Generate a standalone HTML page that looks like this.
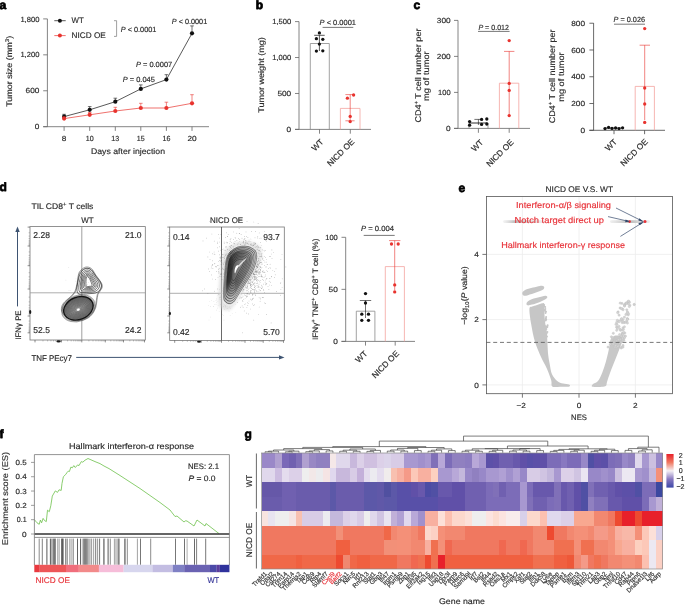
<!DOCTYPE html>
<html><head><meta charset="utf-8"><style>
html,body{margin:0;padding:0;background:#fff;width:685px;height:605px;overflow:hidden}
svg{display:block;will-change:transform}
text{font-family:"Liberation Sans",sans-serif;text-rendering:geometricPrecision}
</style></head><body>
<svg width="685" height="605" viewBox="0 0 685 605">
<rect width="685" height="605" fill="#fff"/>
<text x="-0.60" y="8.80" font-size="12" fill="#000" stroke="#000" stroke-width="0.75" stroke-linejoin="round" font-weight="bold" >a</text>
<line x1="47.40" y1="18.90" x2="47.40" y2="126.70" stroke="#666" stroke-width="0.8" />
<line x1="43.20" y1="126.70" x2="47.40" y2="126.70" stroke="#666" stroke-width="0.8" />
<text x="39.40" y="129.35" font-size="7.4" text-anchor="end" textLength="4.6" lengthAdjust="spacingAndGlyphs" fill="#2b2b2b" stroke="#2b2b2b" stroke-width="0.16" >0</text>
<line x1="43.20" y1="90.77" x2="47.40" y2="90.77" stroke="#666" stroke-width="0.8" />
<text x="39.40" y="93.42" font-size="7.4" text-anchor="end" textLength="13.8" lengthAdjust="spacingAndGlyphs" fill="#2b2b2b" stroke="#2b2b2b" stroke-width="0.16" >600</text>
<line x1="43.20" y1="54.83" x2="47.40" y2="54.83" stroke="#666" stroke-width="0.8" />
<text x="39.40" y="57.48" font-size="7.4" text-anchor="end" textLength="19.0" lengthAdjust="spacingAndGlyphs" fill="#2b2b2b" stroke="#2b2b2b" stroke-width="0.16" >1,200</text>
<line x1="43.20" y1="18.90" x2="47.40" y2="18.90" stroke="#666" stroke-width="0.8" />
<text x="39.40" y="21.55" font-size="7.4" text-anchor="end" textLength="19.0" lengthAdjust="spacingAndGlyphs" fill="#2b2b2b" stroke="#2b2b2b" stroke-width="0.16" >1,800</text>
<line x1="43.20" y1="126.70" x2="209.00" y2="126.70" stroke="#666" stroke-width="0.8" />
<line x1="64.10" y1="126.70" x2="64.10" y2="130.90" stroke="#666" stroke-width="0.8" />
<text x="64.10" y="140.80" font-size="7.4" text-anchor="middle" textLength="4.6" lengthAdjust="spacingAndGlyphs" fill="#2b2b2b" stroke="#2b2b2b" stroke-width="0.16" >8</text>
<line x1="89.70" y1="126.70" x2="89.70" y2="130.90" stroke="#666" stroke-width="0.8" />
<text x="89.70" y="140.80" font-size="7.4" text-anchor="middle" textLength="7.9" lengthAdjust="spacingAndGlyphs" fill="#2b2b2b" stroke="#2b2b2b" stroke-width="0.16" >10</text>
<line x1="115.30" y1="126.70" x2="115.30" y2="130.90" stroke="#666" stroke-width="0.8" />
<text x="115.30" y="140.80" font-size="7.4" text-anchor="middle" textLength="7.9" lengthAdjust="spacingAndGlyphs" fill="#2b2b2b" stroke="#2b2b2b" stroke-width="0.16" >13</text>
<line x1="140.80" y1="126.70" x2="140.80" y2="130.90" stroke="#666" stroke-width="0.8" />
<text x="140.80" y="140.80" font-size="7.4" text-anchor="middle" textLength="7.9" lengthAdjust="spacingAndGlyphs" fill="#2b2b2b" stroke="#2b2b2b" stroke-width="0.16" >15</text>
<line x1="166.40" y1="126.70" x2="166.40" y2="130.90" stroke="#666" stroke-width="0.8" />
<text x="166.40" y="140.80" font-size="7.4" text-anchor="middle" textLength="7.9" lengthAdjust="spacingAndGlyphs" fill="#2b2b2b" stroke="#2b2b2b" stroke-width="0.16" >16</text>
<line x1="192.00" y1="126.70" x2="192.00" y2="130.90" stroke="#666" stroke-width="0.8" />
<text x="192.00" y="140.80" font-size="7.4" text-anchor="middle" textLength="9.2" lengthAdjust="spacingAndGlyphs" fill="#2b2b2b" stroke="#2b2b2b" stroke-width="0.16" >20</text>
<text x="91.00" y="153.60" font-size="8.1" textLength="74" lengthAdjust="spacingAndGlyphs" fill="#2b2b2b" stroke="#2b2b2b" stroke-width="0.16" >Days after injection</text>
<text transform="translate(12.40,71.30) rotate(-90)" font-size="8.1" text-anchor="middle" textLength="71" lengthAdjust="spacingAndGlyphs" fill="#2b2b2b" stroke="#2b2b2b" stroke-width="0.16" >Tumor size (mm<tspan dy="-3" font-size="5.5">3</tspan><tspan dy="3">)</tspan></text>
<line x1="64.10" y1="116.60" x2="64.10" y2="114.30" stroke="#111" stroke-width="0.6" />
<line x1="62.30" y1="114.30" x2="65.90" y2="114.30" stroke="#111" stroke-width="0.6" />
<line x1="89.70" y1="109.80" x2="89.70" y2="106.60" stroke="#111" stroke-width="0.6" />
<line x1="87.90" y1="106.60" x2="91.50" y2="106.60" stroke="#111" stroke-width="0.6" />
<line x1="115.30" y1="101.70" x2="115.30" y2="98.20" stroke="#111" stroke-width="0.6" />
<line x1="113.50" y1="98.20" x2="117.10" y2="98.20" stroke="#111" stroke-width="0.6" />
<line x1="140.80" y1="88.90" x2="140.80" y2="84.90" stroke="#111" stroke-width="0.6" />
<line x1="139.00" y1="84.90" x2="142.60" y2="84.90" stroke="#111" stroke-width="0.6" />
<line x1="166.40" y1="79.60" x2="166.40" y2="74.70" stroke="#111" stroke-width="0.6" />
<line x1="164.60" y1="74.70" x2="168.20" y2="74.70" stroke="#111" stroke-width="0.6" />
<line x1="192.00" y1="33.30" x2="192.00" y2="25.90" stroke="#111" stroke-width="0.6" />
<line x1="190.20" y1="25.90" x2="193.80" y2="25.90" stroke="#111" stroke-width="0.6" />
<polyline points="64.1,116.6 89.7,109.8 115.3,101.7 140.8,88.9 166.4,79.6 192.0,33.3" fill="none" stroke="#111" stroke-width="0.7"/>
<circle cx="64.10" cy="116.60" r="2.1" fill="#111"/>
<circle cx="89.70" cy="109.80" r="2.1" fill="#111"/>
<circle cx="115.30" cy="101.70" r="2.1" fill="#111"/>
<circle cx="140.80" cy="88.90" r="2.1" fill="#111"/>
<circle cx="166.40" cy="79.60" r="2.1" fill="#111"/>
<circle cx="192.00" cy="33.30" r="2.1" fill="#111"/>
<line x1="64.10" y1="118.60" x2="64.10" y2="116.80" stroke="#e8332e" stroke-width="0.6" />
<line x1="62.30" y1="116.80" x2="65.90" y2="116.80" stroke="#e8332e" stroke-width="0.6" />
<line x1="89.70" y1="114.80" x2="89.70" y2="112.50" stroke="#e8332e" stroke-width="0.6" />
<line x1="87.90" y1="112.50" x2="91.50" y2="112.50" stroke="#e8332e" stroke-width="0.6" />
<line x1="115.30" y1="111.00" x2="115.30" y2="107.30" stroke="#e8332e" stroke-width="0.6" />
<line x1="113.50" y1="107.30" x2="117.10" y2="107.30" stroke="#e8332e" stroke-width="0.6" />
<line x1="140.80" y1="108.00" x2="140.80" y2="103.30" stroke="#e8332e" stroke-width="0.6" />
<line x1="139.00" y1="103.30" x2="142.60" y2="103.30" stroke="#e8332e" stroke-width="0.6" />
<line x1="166.40" y1="108.00" x2="166.40" y2="102.20" stroke="#e8332e" stroke-width="0.6" />
<line x1="164.60" y1="102.20" x2="168.20" y2="102.20" stroke="#e8332e" stroke-width="0.6" />
<line x1="192.00" y1="103.30" x2="192.00" y2="94.70" stroke="#e8332e" stroke-width="0.6" />
<line x1="190.20" y1="94.70" x2="193.80" y2="94.70" stroke="#e8332e" stroke-width="0.6" />
<polyline points="64.1,118.6 89.7,114.8 115.3,111.0 140.8,108.0 166.4,108.0 192.0,103.3" fill="none" stroke="#e8332e" stroke-width="0.7"/>
<circle cx="64.10" cy="118.60" r="2.1" fill="#e8332e"/>
<circle cx="89.70" cy="114.80" r="2.1" fill="#e8332e"/>
<circle cx="115.30" cy="111.00" r="2.1" fill="#e8332e"/>
<circle cx="140.80" cy="108.00" r="2.1" fill="#e8332e"/>
<circle cx="166.40" cy="108.00" r="2.1" fill="#e8332e"/>
<circle cx="192.00" cy="103.30" r="2.1" fill="#e8332e"/>
<line x1="54.30" y1="20.70" x2="65.70" y2="20.70" stroke="#111" stroke-width="0.7" />
<circle cx="59.90" cy="20.70" r="2.0" fill="#111"/>
<line x1="54.30" y1="35.60" x2="65.70" y2="35.60" stroke="#e8332e" stroke-width="0.7" />
<circle cx="59.90" cy="35.60" r="2.0" fill="#e8332e"/>
<text x="71.60" y="22.70" font-size="8.1" textLength="12.2" lengthAdjust="spacingAndGlyphs" fill="#2b2b2b" stroke="#2b2b2b" stroke-width="0.16" >WT</text>
<text x="71.60" y="37.80" font-size="8.1" textLength="34.2" lengthAdjust="spacingAndGlyphs" fill="#2b2b2b" stroke="#2b2b2b" stroke-width="0.16" >NICD OE</text>
<path d="M114,20.7 H116.6 V36.4 H114" stroke="#888" fill="none" stroke-width="0.8" />
<text x="120.70" y="31.50" font-size="7.4" textLength="35.7" lengthAdjust="spacingAndGlyphs" fill="#2b2b2b" stroke="#2b2b2b" stroke-width="0.16" ><tspan font-style="italic">P</tspan> &lt; 0.0001</text>
<text x="122.80" y="81.50" font-size="7.4" textLength="32.0" lengthAdjust="spacingAndGlyphs" fill="#2b2b2b" stroke="#2b2b2b" stroke-width="0.16" ><tspan font-style="italic">P</tspan> = 0.045</text>
<text x="135.90" y="66.60" font-size="7.4" textLength="36.3" lengthAdjust="spacingAndGlyphs" fill="#2b2b2b" stroke="#2b2b2b" stroke-width="0.16" ><tspan font-style="italic">P</tspan> = 0.0007</text>
<text x="171.80" y="24.00" font-size="7.4" textLength="35.4" lengthAdjust="spacingAndGlyphs" fill="#2b2b2b" stroke="#2b2b2b" stroke-width="0.16" ><tspan font-style="italic">P</tspan> &lt; 0.0001</text>
<text x="255.80" y="9.10" font-size="12" fill="#000" stroke="#000" stroke-width="0.75" stroke-linejoin="round" font-weight="bold" >b</text>
<line x1="299.00" y1="21.60" x2="299.00" y2="129.40" stroke="#666" stroke-width="0.8" />
<line x1="295.00" y1="129.40" x2="299.00" y2="129.40" stroke="#666" stroke-width="0.8" />
<text x="291.20" y="132.05" font-size="7.4" text-anchor="end" textLength="4.6" lengthAdjust="spacingAndGlyphs" fill="#2b2b2b" stroke="#2b2b2b" stroke-width="0.16" >0</text>
<line x1="295.00" y1="93.47" x2="299.00" y2="93.47" stroke="#666" stroke-width="0.8" />
<text x="291.20" y="96.12" font-size="7.4" text-anchor="end" textLength="13.8" lengthAdjust="spacingAndGlyphs" fill="#2b2b2b" stroke="#2b2b2b" stroke-width="0.16" >500</text>
<line x1="295.00" y1="57.53" x2="299.00" y2="57.53" stroke="#666" stroke-width="0.8" />
<text x="291.20" y="60.18" font-size="7.4" text-anchor="end" textLength="19.0" lengthAdjust="spacingAndGlyphs" fill="#2b2b2b" stroke="#2b2b2b" stroke-width="0.16" >1,000</text>
<line x1="295.00" y1="21.60" x2="299.00" y2="21.60" stroke="#666" stroke-width="0.8" />
<text x="291.20" y="24.25" font-size="7.4" text-anchor="end" textLength="19.0" lengthAdjust="spacingAndGlyphs" fill="#2b2b2b" stroke="#2b2b2b" stroke-width="0.16" >1,500</text>
<line x1="295.00" y1="129.40" x2="371.00" y2="129.40" stroke="#666" stroke-width="0.8" />
<line x1="319.50" y1="129.40" x2="319.50" y2="133.70" stroke="#666" stroke-width="0.8" />
<line x1="350.30" y1="129.40" x2="350.30" y2="133.70" stroke="#666" stroke-width="0.8" />
<text transform="translate(324.10,142.30) rotate(-45)" font-size="8.3" text-anchor="end" fill="#2b2b2b" stroke="#2b2b2b" stroke-width="0.16" >WT</text>
<text transform="translate(354.90,142.30) rotate(-45)" font-size="8.3" text-anchor="end" fill="#2b2b2b" stroke="#2b2b2b" stroke-width="0.16" >NICD OE</text>
<text transform="translate(264.20,75.00) rotate(-90)" font-size="8.1" text-anchor="middle" textLength="75.6" lengthAdjust="spacingAndGlyphs" fill="#2b2b2b" stroke="#2b2b2b" stroke-width="0.16" >Tumor weight (mg)</text>
<path d="M310.3,129.4 V43.5 H329.3 V129.4" stroke="#8a8a8a" fill="none" stroke-width="0.8" />
<line x1="319.40" y1="35.30" x2="319.40" y2="51.00" stroke="#111" stroke-width="0.7" />
<line x1="314.20" y1="35.30" x2="324.70" y2="35.30" stroke="#111" stroke-width="0.7" />
<circle cx="319.40" cy="32.90" r="1.65" fill="#111"/>
<circle cx="316.40" cy="38.70" r="1.65" fill="#111"/>
<circle cx="322.80" cy="39.30" r="1.65" fill="#111"/>
<circle cx="319.40" cy="44.10" r="1.65" fill="#111"/>
<circle cx="316.40" cy="51.10" r="1.65" fill="#111"/>
<circle cx="322.80" cy="50.80" r="1.65" fill="#111"/>
<path d="M340.4,129.4 V108.4 H360.0 V129.4" stroke="#f4a3a0" fill="none" stroke-width="0.8" />
<line x1="350.20" y1="94.60" x2="350.20" y2="120.80" stroke="#e8332e" stroke-width="0.6" />
<line x1="345.40" y1="94.60" x2="354.60" y2="94.60" stroke="#e8332e" stroke-width="0.6" />
<line x1="345.40" y1="120.80" x2="354.60" y2="120.80" stroke="#e8332e" stroke-width="0.6" />
<circle cx="353.60" cy="95.00" r="1.65" fill="#e8332e"/>
<circle cx="347.40" cy="98.20" r="1.65" fill="#e8332e"/>
<circle cx="350.20" cy="116.40" r="1.65" fill="#e8332e"/>
<circle cx="350.20" cy="121.60" r="1.65" fill="#e8332e"/>
<text x="319.60" y="25.00" font-size="7.4" textLength="36.4" lengthAdjust="spacingAndGlyphs" fill="#2b2b2b" stroke="#2b2b2b" stroke-width="0.16" ><tspan font-style="italic">P</tspan> &lt; 0.0001</text>
<line x1="322.60" y1="27.40" x2="353.30" y2="27.40" stroke="#555" stroke-width="0.8" />
<text x="413.60" y="9.00" font-size="12" fill="#000" stroke="#000" stroke-width="0.75" stroke-linejoin="round" font-weight="bold" >c</text>
<line x1="458.00" y1="20.40" x2="458.00" y2="128.40" stroke="#666" stroke-width="0.8" />
<line x1="454.00" y1="128.40" x2="458.00" y2="128.40" stroke="#666" stroke-width="0.8" />
<text x="450.60" y="131.05" font-size="7.4" text-anchor="end" textLength="4.6" lengthAdjust="spacingAndGlyphs" fill="#2b2b2b" stroke="#2b2b2b" stroke-width="0.16" >0</text>
<line x1="454.00" y1="92.40" x2="458.00" y2="92.40" stroke="#666" stroke-width="0.8" />
<text x="450.60" y="95.05" font-size="7.4" text-anchor="end" textLength="12.5" lengthAdjust="spacingAndGlyphs" fill="#2b2b2b" stroke="#2b2b2b" stroke-width="0.16" >100</text>
<line x1="454.00" y1="56.40" x2="458.00" y2="56.40" stroke="#666" stroke-width="0.8" />
<text x="450.60" y="59.05" font-size="7.4" text-anchor="end" textLength="13.8" lengthAdjust="spacingAndGlyphs" fill="#2b2b2b" stroke="#2b2b2b" stroke-width="0.16" >200</text>
<line x1="454.00" y1="20.40" x2="458.00" y2="20.40" stroke="#666" stroke-width="0.8" />
<text x="450.60" y="23.05" font-size="7.4" text-anchor="end" textLength="13.8" lengthAdjust="spacingAndGlyphs" fill="#2b2b2b" stroke="#2b2b2b" stroke-width="0.16" >300</text>
<line x1="454.00" y1="128.40" x2="530.00" y2="128.40" stroke="#666" stroke-width="0.8" />
<line x1="478.40" y1="128.40" x2="478.40" y2="132.80" stroke="#666" stroke-width="0.8" />
<line x1="509.20" y1="128.40" x2="509.20" y2="132.80" stroke="#666" stroke-width="0.8" />
<text transform="translate(483.90,142.90) rotate(-45)" font-size="8.3" text-anchor="end" fill="#2b2b2b" stroke="#2b2b2b" stroke-width="0.16" >WT</text>
<text transform="translate(514.20,142.90) rotate(-45)" font-size="8.3" text-anchor="end" fill="#2b2b2b" stroke="#2b2b2b" stroke-width="0.16" >NICD OE</text>
<text transform="translate(420.50,75.60) rotate(-90)" font-size="8.3" text-anchor="middle" textLength="94" lengthAdjust="spacingAndGlyphs" fill="#2b2b2b" stroke="#2b2b2b" stroke-width="0.16" >CD4<tspan dy="-3" font-size="5.5">+</tspan><tspan dy="3"> T cell number per</tspan></text>
<text transform="translate(429.40,76.10) rotate(-90)" font-size="8.3" text-anchor="middle" textLength="49.6" lengthAdjust="spacingAndGlyphs" fill="#2b2b2b" stroke="#2b2b2b" stroke-width="0.16" >mg of tumor</text>
<path d="M499.4,128.4 V83.2 H518.8 V128.4" stroke="#f4a3a0" fill="none" stroke-width="0.8" />
<line x1="509.20" y1="51.40" x2="509.20" y2="115.00" stroke="#e8332e" stroke-width="0.6" />
<line x1="504.00" y1="51.40" x2="514.40" y2="51.40" stroke="#e8332e" stroke-width="0.6" />
<circle cx="509.20" cy="40.60" r="1.65" fill="#e8332e"/>
<circle cx="509.20" cy="83.40" r="1.65" fill="#e8332e"/>
<circle cx="509.20" cy="90.40" r="1.65" fill="#e8332e"/>
<circle cx="509.20" cy="115.60" r="1.65" fill="#e8332e"/>
<path d="M469,128.4 V123 H488 V128.4" stroke="#8a8a8a" fill="none" stroke-width="0.8" />
<line x1="478.40" y1="119.40" x2="478.40" y2="125.00" stroke="#111" stroke-width="0.6" />
<line x1="474.40" y1="119.40" x2="482.40" y2="119.40" stroke="#111" stroke-width="0.6" />
<line x1="469.60" y1="123.00" x2="487.00" y2="123.00" stroke="#111" stroke-width="0.6" />
<circle cx="469.60" cy="121.60" r="1.65" fill="#111"/>
<circle cx="469.60" cy="125.20" r="1.65" fill="#111"/>
<circle cx="481.60" cy="119.40" r="1.65" fill="#111"/>
<circle cx="486.80" cy="119.00" r="1.65" fill="#111"/>
<circle cx="481.60" cy="124.40" r="1.65" fill="#111"/>
<circle cx="486.80" cy="124.00" r="1.65" fill="#111"/>
<text x="478.40" y="29.60" font-size="7.4" textLength="30.6" lengthAdjust="spacingAndGlyphs" fill="#2b2b2b" stroke="#2b2b2b" stroke-width="0.16" ><tspan font-style="italic">P</tspan> = 0.012</text>
<line x1="478.00" y1="31.40" x2="509.60" y2="31.40" stroke="#555" stroke-width="0.8" />
<line x1="593.60" y1="23.10" x2="593.60" y2="130.30" stroke="#444" stroke-width="0.8" />
<line x1="589.40" y1="130.30" x2="593.60" y2="130.30" stroke="#444" stroke-width="0.8" />
<text x="585.00" y="132.95" font-size="7.4" text-anchor="end" textLength="4.6" lengthAdjust="spacingAndGlyphs" fill="#2b2b2b" stroke="#2b2b2b" stroke-width="0.16" >0</text>
<line x1="589.40" y1="103.53" x2="593.60" y2="103.53" stroke="#444" stroke-width="0.8" />
<text x="585.00" y="106.18" font-size="7.4" text-anchor="end" textLength="13.8" lengthAdjust="spacingAndGlyphs" fill="#2b2b2b" stroke="#2b2b2b" stroke-width="0.16" >200</text>
<line x1="589.40" y1="76.76" x2="593.60" y2="76.76" stroke="#444" stroke-width="0.8" />
<text x="585.00" y="79.41" font-size="7.4" text-anchor="end" textLength="13.8" lengthAdjust="spacingAndGlyphs" fill="#2b2b2b" stroke="#2b2b2b" stroke-width="0.16" >400</text>
<line x1="589.40" y1="49.99" x2="593.60" y2="49.99" stroke="#444" stroke-width="0.8" />
<text x="585.00" y="52.64" font-size="7.4" text-anchor="end" textLength="13.8" lengthAdjust="spacingAndGlyphs" fill="#2b2b2b" stroke="#2b2b2b" stroke-width="0.16" >600</text>
<line x1="589.40" y1="23.22" x2="593.60" y2="23.22" stroke="#444" stroke-width="0.8" />
<text x="585.00" y="25.87" font-size="7.4" text-anchor="end" textLength="13.8" lengthAdjust="spacingAndGlyphs" fill="#2b2b2b" stroke="#2b2b2b" stroke-width="0.16" >800</text>
<line x1="589.40" y1="130.30" x2="665.00" y2="130.30" stroke="#444" stroke-width="0.8" />
<line x1="614.00" y1="130.30" x2="614.00" y2="134.20" stroke="#444" stroke-width="0.8" />
<line x1="644.60" y1="130.30" x2="644.60" y2="134.20" stroke="#444" stroke-width="0.8" />
<text transform="translate(617.70,142.30) rotate(-45)" font-size="8.3" text-anchor="end" fill="#2b2b2b" stroke="#2b2b2b" stroke-width="0.16" >WT</text>
<text transform="translate(648.30,142.30) rotate(-45)" font-size="8.3" text-anchor="end" fill="#2b2b2b" stroke="#2b2b2b" stroke-width="0.16" >NICD OE</text>
<text transform="translate(555.20,76.40) rotate(-90)" font-size="8.3" text-anchor="middle" textLength="93.6" lengthAdjust="spacingAndGlyphs" fill="#2b2b2b" stroke="#2b2b2b" stroke-width="0.16" >CD4<tspan dy="-3" font-size="5.5">+</tspan><tspan dy="3"> T cell number per</tspan></text>
<text transform="translate(564.20,77.10) rotate(-90)" font-size="8.3" text-anchor="middle" textLength="49.5" lengthAdjust="spacingAndGlyphs" fill="#2b2b2b" stroke="#2b2b2b" stroke-width="0.16" >mg of tumor</text>
<path d="M635.2,130.3 V86.4 H654.4000000000001 V130.3" stroke="#f4a3a0" fill="none" stroke-width="0.8" />
<line x1="644.70" y1="45.20" x2="644.70" y2="120.00" stroke="#e8332e" stroke-width="0.6" />
<line x1="639.60" y1="45.20" x2="650.00" y2="45.20" stroke="#e8332e" stroke-width="0.6" />
<circle cx="644.70" cy="28.60" r="1.65" fill="#e8332e"/>
<circle cx="644.70" cy="88.00" r="1.65" fill="#e8332e"/>
<circle cx="644.70" cy="104.00" r="1.65" fill="#e8332e"/>
<circle cx="644.70" cy="122.40" r="1.65" fill="#e8332e"/>
<line x1="605.00" y1="128.00" x2="623.00" y2="128.00" stroke="#111" stroke-width="0.6" />
<circle cx="605.00" cy="128.60" r="1.65" fill="#111"/>
<circle cx="608.60" cy="127.40" r="1.65" fill="#111"/>
<circle cx="612.00" cy="128.40" r="1.65" fill="#111"/>
<circle cx="615.60" cy="128.00" r="1.65" fill="#111"/>
<circle cx="619.00" cy="128.60" r="1.65" fill="#111"/>
<circle cx="622.60" cy="127.80" r="1.65" fill="#111"/>
<text x="613.60" y="22.00" font-size="7.4" textLength="31.4" lengthAdjust="spacingAndGlyphs" fill="#2b2b2b" stroke="#2b2b2b" stroke-width="0.16" ><tspan font-style="italic">P</tspan> = 0.026</text>
<line x1="614.00" y1="24.20" x2="645.00" y2="24.20" stroke="#555" stroke-width="0.8" />
<text x="-0.40" y="191.30" font-size="12" fill="#000" stroke="#000" stroke-width="0.75" stroke-linejoin="round" font-weight="bold" >d</text>
<text x="31.40" y="209.40" font-size="8.1" textLength="62" lengthAdjust="spacingAndGlyphs" fill="#2b2b2b" stroke="#2b2b2b" stroke-width="0.16" >TIL CD8<tspan dy="-3" font-size="5.5">+</tspan><tspan dy="3"> T cells</tspan></text>
<text x="87.40" y="223.00" font-size="8.1" text-anchor="middle" textLength="12.4" lengthAdjust="spacingAndGlyphs" fill="#2b2b2b" stroke="#2b2b2b" stroke-width="0.16" >WT</text>
<text x="226.60" y="223.20" font-size="8.1" text-anchor="middle" textLength="33" lengthAdjust="spacingAndGlyphs" fill="#2b2b2b" stroke="#2b2b2b" stroke-width="0.16" >NICD OE</text>
<line x1="17.50" y1="306.40" x2="17.50" y2="230.50" stroke="#3e5472" stroke-width="1.0" />
<path d="M17.5,226.5 L15.3,232 L19.7,232 Z" stroke="none" fill="#3e5472" stroke-width="0.8" />
<text transform="translate(21.20,325.00) rotate(-90)" font-size="8.1" text-anchor="middle" textLength="29.2" lengthAdjust="spacingAndGlyphs" fill="#2b2b2b" stroke="#2b2b2b" stroke-width="0.16" >IFNγ PE</text>
<text x="31.40" y="360.60" font-size="8.3" textLength="40.6" lengthAdjust="spacingAndGlyphs" fill="#2b2b2b" stroke="#2b2b2b" stroke-width="0.16" >TNF PEcy7</text>
<line x1="76.20" y1="357.40" x2="280.00" y2="357.40" stroke="#3e5472" stroke-width="1.0" />
<path d="M284.5,357.4 L279,355.2 L279,359.6 Z" stroke="none" fill="#3e5472" stroke-width="0.8" />
<rect x="30.00" y="226.60" width="115.30" height="113.40" fill="none" stroke="#777" stroke-width="0.8" />
<line x1="81.80" y1="226.60" x2="81.80" y2="340.00" stroke="#888" stroke-width="0.8" />
<line x1="30.00" y1="292.80" x2="145.30" y2="292.80" stroke="#999" stroke-width="0.8" />
<line x1="27.60" y1="227.10" x2="30.00" y2="227.10" stroke="#444" stroke-width="0.6" />
<line x1="27.60" y1="246.00" x2="30.00" y2="246.00" stroke="#444" stroke-width="0.6" />
<line x1="27.60" y1="265.70" x2="30.00" y2="265.70" stroke="#444" stroke-width="0.6" />
<line x1="27.60" y1="289.00" x2="30.00" y2="289.00" stroke="#444" stroke-width="0.6" />
<line x1="27.60" y1="316.00" x2="30.00" y2="316.00" stroke="#444" stroke-width="0.6" />
<line x1="27.60" y1="332.80" x2="30.00" y2="332.80" stroke="#444" stroke-width="0.6" />
<line x1="28.60" y1="232.79" x2="30.00" y2="232.79" stroke="#777" stroke-width="0.45" />
<line x1="28.60" y1="236.12" x2="30.00" y2="236.12" stroke="#777" stroke-width="0.45" />
<line x1="28.60" y1="238.48" x2="30.00" y2="238.48" stroke="#777" stroke-width="0.45" />
<line x1="28.60" y1="240.31" x2="30.00" y2="240.31" stroke="#777" stroke-width="0.45" />
<line x1="28.60" y1="241.81" x2="30.00" y2="241.81" stroke="#777" stroke-width="0.45" />
<line x1="28.60" y1="243.07" x2="30.00" y2="243.07" stroke="#777" stroke-width="0.45" />
<line x1="28.60" y1="244.17" x2="30.00" y2="244.17" stroke="#777" stroke-width="0.45" />
<line x1="28.60" y1="245.14" x2="30.00" y2="245.14" stroke="#777" stroke-width="0.45" />
<line x1="28.60" y1="251.93" x2="30.00" y2="251.93" stroke="#777" stroke-width="0.45" />
<line x1="28.60" y1="255.40" x2="30.00" y2="255.40" stroke="#777" stroke-width="0.45" />
<line x1="28.60" y1="257.86" x2="30.00" y2="257.86" stroke="#777" stroke-width="0.45" />
<line x1="28.60" y1="259.77" x2="30.00" y2="259.77" stroke="#777" stroke-width="0.45" />
<line x1="28.60" y1="261.33" x2="30.00" y2="261.33" stroke="#777" stroke-width="0.45" />
<line x1="28.60" y1="262.65" x2="30.00" y2="262.65" stroke="#777" stroke-width="0.45" />
<line x1="28.60" y1="263.79" x2="30.00" y2="263.79" stroke="#777" stroke-width="0.45" />
<line x1="28.60" y1="264.80" x2="30.00" y2="264.80" stroke="#777" stroke-width="0.45" />
<line x1="28.60" y1="272.71" x2="30.00" y2="272.71" stroke="#777" stroke-width="0.45" />
<line x1="28.60" y1="276.82" x2="30.00" y2="276.82" stroke="#777" stroke-width="0.45" />
<line x1="28.60" y1="279.73" x2="30.00" y2="279.73" stroke="#777" stroke-width="0.45" />
<line x1="28.60" y1="281.99" x2="30.00" y2="281.99" stroke="#777" stroke-width="0.45" />
<line x1="28.60" y1="283.83" x2="30.00" y2="283.83" stroke="#777" stroke-width="0.45" />
<line x1="28.60" y1="285.39" x2="30.00" y2="285.39" stroke="#777" stroke-width="0.45" />
<line x1="28.60" y1="286.74" x2="30.00" y2="286.74" stroke="#777" stroke-width="0.45" />
<line x1="28.60" y1="287.93" x2="30.00" y2="287.93" stroke="#777" stroke-width="0.45" />
<line x1="28.60" y1="297.13" x2="30.00" y2="297.13" stroke="#777" stroke-width="0.45" />
<line x1="28.60" y1="301.88" x2="30.00" y2="301.88" stroke="#777" stroke-width="0.45" />
<line x1="28.60" y1="305.26" x2="30.00" y2="305.26" stroke="#777" stroke-width="0.45" />
<line x1="28.60" y1="307.87" x2="30.00" y2="307.87" stroke="#777" stroke-width="0.45" />
<line x1="28.60" y1="310.01" x2="30.00" y2="310.01" stroke="#777" stroke-width="0.45" />
<line x1="28.60" y1="311.82" x2="30.00" y2="311.82" stroke="#777" stroke-width="0.45" />
<line x1="28.60" y1="313.38" x2="30.00" y2="313.38" stroke="#777" stroke-width="0.45" />
<line x1="28.60" y1="314.76" x2="30.00" y2="314.76" stroke="#777" stroke-width="0.45" />
<line x1="28.60" y1="321.06" x2="30.00" y2="321.06" stroke="#777" stroke-width="0.45" />
<line x1="28.60" y1="324.02" x2="30.00" y2="324.02" stroke="#777" stroke-width="0.45" />
<line x1="28.60" y1="326.11" x2="30.00" y2="326.11" stroke="#777" stroke-width="0.45" />
<line x1="28.60" y1="327.74" x2="30.00" y2="327.74" stroke="#777" stroke-width="0.45" />
<line x1="28.60" y1="329.07" x2="30.00" y2="329.07" stroke="#777" stroke-width="0.45" />
<line x1="28.60" y1="330.20" x2="30.00" y2="330.20" stroke="#777" stroke-width="0.45" />
<line x1="28.60" y1="331.17" x2="30.00" y2="331.17" stroke="#777" stroke-width="0.45" />
<line x1="28.60" y1="332.03" x2="30.00" y2="332.03" stroke="#777" stroke-width="0.45" />
<line x1="35.00" y1="340.00" x2="35.00" y2="342.40" stroke="#444" stroke-width="0.6" />
<line x1="61.50" y1="340.00" x2="61.50" y2="342.40" stroke="#444" stroke-width="0.6" />
<line x1="81.80" y1="340.00" x2="81.80" y2="342.40" stroke="#444" stroke-width="0.6" />
<line x1="105.30" y1="340.00" x2="105.30" y2="342.40" stroke="#444" stroke-width="0.6" />
<line x1="123.50" y1="340.00" x2="123.50" y2="342.40" stroke="#444" stroke-width="0.6" />
<line x1="144.50" y1="340.00" x2="144.50" y2="342.40" stroke="#444" stroke-width="0.6" />
<line x1="42.98" y1="340.00" x2="42.98" y2="341.40" stroke="#777" stroke-width="0.45" />
<line x1="47.64" y1="340.00" x2="47.64" y2="341.40" stroke="#777" stroke-width="0.45" />
<line x1="50.95" y1="340.00" x2="50.95" y2="341.40" stroke="#777" stroke-width="0.45" />
<line x1="53.52" y1="340.00" x2="53.52" y2="341.40" stroke="#777" stroke-width="0.45" />
<line x1="55.62" y1="340.00" x2="55.62" y2="341.40" stroke="#777" stroke-width="0.45" />
<line x1="57.40" y1="340.00" x2="57.40" y2="341.40" stroke="#777" stroke-width="0.45" />
<line x1="58.93" y1="340.00" x2="58.93" y2="341.40" stroke="#777" stroke-width="0.45" />
<line x1="60.29" y1="340.00" x2="60.29" y2="341.40" stroke="#777" stroke-width="0.45" />
<line x1="67.61" y1="340.00" x2="67.61" y2="341.40" stroke="#777" stroke-width="0.45" />
<line x1="71.19" y1="340.00" x2="71.19" y2="341.40" stroke="#777" stroke-width="0.45" />
<line x1="73.72" y1="340.00" x2="73.72" y2="341.40" stroke="#777" stroke-width="0.45" />
<line x1="75.69" y1="340.00" x2="75.69" y2="341.40" stroke="#777" stroke-width="0.45" />
<line x1="77.30" y1="340.00" x2="77.30" y2="341.40" stroke="#777" stroke-width="0.45" />
<line x1="78.66" y1="340.00" x2="78.66" y2="341.40" stroke="#777" stroke-width="0.45" />
<line x1="79.83" y1="340.00" x2="79.83" y2="341.40" stroke="#777" stroke-width="0.45" />
<line x1="80.87" y1="340.00" x2="80.87" y2="341.40" stroke="#777" stroke-width="0.45" />
<line x1="88.87" y1="340.00" x2="88.87" y2="341.40" stroke="#777" stroke-width="0.45" />
<line x1="93.01" y1="340.00" x2="93.01" y2="341.40" stroke="#777" stroke-width="0.45" />
<line x1="95.95" y1="340.00" x2="95.95" y2="341.40" stroke="#777" stroke-width="0.45" />
<line x1="98.23" y1="340.00" x2="98.23" y2="341.40" stroke="#777" stroke-width="0.45" />
<line x1="100.09" y1="340.00" x2="100.09" y2="341.40" stroke="#777" stroke-width="0.45" />
<line x1="101.66" y1="340.00" x2="101.66" y2="341.40" stroke="#777" stroke-width="0.45" />
<line x1="103.02" y1="340.00" x2="103.02" y2="341.40" stroke="#777" stroke-width="0.45" />
<line x1="104.22" y1="340.00" x2="104.22" y2="341.40" stroke="#777" stroke-width="0.45" />
<line x1="110.78" y1="340.00" x2="110.78" y2="341.40" stroke="#777" stroke-width="0.45" />
<line x1="113.98" y1="340.00" x2="113.98" y2="341.40" stroke="#777" stroke-width="0.45" />
<line x1="116.26" y1="340.00" x2="116.26" y2="341.40" stroke="#777" stroke-width="0.45" />
<line x1="118.02" y1="340.00" x2="118.02" y2="341.40" stroke="#777" stroke-width="0.45" />
<line x1="119.46" y1="340.00" x2="119.46" y2="341.40" stroke="#777" stroke-width="0.45" />
<line x1="120.68" y1="340.00" x2="120.68" y2="341.40" stroke="#777" stroke-width="0.45" />
<line x1="121.74" y1="340.00" x2="121.74" y2="341.40" stroke="#777" stroke-width="0.45" />
<line x1="122.67" y1="340.00" x2="122.67" y2="341.40" stroke="#777" stroke-width="0.45" />
<line x1="129.82" y1="340.00" x2="129.82" y2="341.40" stroke="#777" stroke-width="0.45" />
<line x1="133.52" y1="340.00" x2="133.52" y2="341.40" stroke="#777" stroke-width="0.45" />
<line x1="136.14" y1="340.00" x2="136.14" y2="341.40" stroke="#777" stroke-width="0.45" />
<line x1="138.18" y1="340.00" x2="138.18" y2="341.40" stroke="#777" stroke-width="0.45" />
<line x1="139.84" y1="340.00" x2="139.84" y2="341.40" stroke="#777" stroke-width="0.45" />
<line x1="141.25" y1="340.00" x2="141.25" y2="341.40" stroke="#777" stroke-width="0.45" />
<line x1="142.46" y1="340.00" x2="142.46" y2="341.40" stroke="#777" stroke-width="0.45" />
<line x1="143.54" y1="340.00" x2="143.54" y2="341.40" stroke="#777" stroke-width="0.45" />
<rect x="169.70" y="227.00" width="114.60" height="113.40" fill="none" stroke="#777" stroke-width="0.8" />
<line x1="221.50" y1="227.00" x2="221.50" y2="340.40" stroke="#444" stroke-width="0.8" />
<line x1="169.70" y1="293.30" x2="284.30" y2="293.30" stroke="#999" stroke-width="0.8" />
<line x1="167.30" y1="227.10" x2="169.70" y2="227.10" stroke="#444" stroke-width="0.6" />
<line x1="167.30" y1="246.00" x2="169.70" y2="246.00" stroke="#444" stroke-width="0.6" />
<line x1="167.30" y1="265.70" x2="169.70" y2="265.70" stroke="#444" stroke-width="0.6" />
<line x1="167.30" y1="289.00" x2="169.70" y2="289.00" stroke="#444" stroke-width="0.6" />
<line x1="167.30" y1="316.00" x2="169.70" y2="316.00" stroke="#444" stroke-width="0.6" />
<line x1="167.30" y1="332.80" x2="169.70" y2="332.80" stroke="#444" stroke-width="0.6" />
<line x1="168.30" y1="232.79" x2="169.70" y2="232.79" stroke="#777" stroke-width="0.45" />
<line x1="168.30" y1="236.12" x2="169.70" y2="236.12" stroke="#777" stroke-width="0.45" />
<line x1="168.30" y1="238.48" x2="169.70" y2="238.48" stroke="#777" stroke-width="0.45" />
<line x1="168.30" y1="240.31" x2="169.70" y2="240.31" stroke="#777" stroke-width="0.45" />
<line x1="168.30" y1="241.81" x2="169.70" y2="241.81" stroke="#777" stroke-width="0.45" />
<line x1="168.30" y1="243.07" x2="169.70" y2="243.07" stroke="#777" stroke-width="0.45" />
<line x1="168.30" y1="244.17" x2="169.70" y2="244.17" stroke="#777" stroke-width="0.45" />
<line x1="168.30" y1="245.14" x2="169.70" y2="245.14" stroke="#777" stroke-width="0.45" />
<line x1="168.30" y1="251.93" x2="169.70" y2="251.93" stroke="#777" stroke-width="0.45" />
<line x1="168.30" y1="255.40" x2="169.70" y2="255.40" stroke="#777" stroke-width="0.45" />
<line x1="168.30" y1="257.86" x2="169.70" y2="257.86" stroke="#777" stroke-width="0.45" />
<line x1="168.30" y1="259.77" x2="169.70" y2="259.77" stroke="#777" stroke-width="0.45" />
<line x1="168.30" y1="261.33" x2="169.70" y2="261.33" stroke="#777" stroke-width="0.45" />
<line x1="168.30" y1="262.65" x2="169.70" y2="262.65" stroke="#777" stroke-width="0.45" />
<line x1="168.30" y1="263.79" x2="169.70" y2="263.79" stroke="#777" stroke-width="0.45" />
<line x1="168.30" y1="264.80" x2="169.70" y2="264.80" stroke="#777" stroke-width="0.45" />
<line x1="168.30" y1="272.71" x2="169.70" y2="272.71" stroke="#777" stroke-width="0.45" />
<line x1="168.30" y1="276.82" x2="169.70" y2="276.82" stroke="#777" stroke-width="0.45" />
<line x1="168.30" y1="279.73" x2="169.70" y2="279.73" stroke="#777" stroke-width="0.45" />
<line x1="168.30" y1="281.99" x2="169.70" y2="281.99" stroke="#777" stroke-width="0.45" />
<line x1="168.30" y1="283.83" x2="169.70" y2="283.83" stroke="#777" stroke-width="0.45" />
<line x1="168.30" y1="285.39" x2="169.70" y2="285.39" stroke="#777" stroke-width="0.45" />
<line x1="168.30" y1="286.74" x2="169.70" y2="286.74" stroke="#777" stroke-width="0.45" />
<line x1="168.30" y1="287.93" x2="169.70" y2="287.93" stroke="#777" stroke-width="0.45" />
<line x1="168.30" y1="297.13" x2="169.70" y2="297.13" stroke="#777" stroke-width="0.45" />
<line x1="168.30" y1="301.88" x2="169.70" y2="301.88" stroke="#777" stroke-width="0.45" />
<line x1="168.30" y1="305.26" x2="169.70" y2="305.26" stroke="#777" stroke-width="0.45" />
<line x1="168.30" y1="307.87" x2="169.70" y2="307.87" stroke="#777" stroke-width="0.45" />
<line x1="168.30" y1="310.01" x2="169.70" y2="310.01" stroke="#777" stroke-width="0.45" />
<line x1="168.30" y1="311.82" x2="169.70" y2="311.82" stroke="#777" stroke-width="0.45" />
<line x1="168.30" y1="313.38" x2="169.70" y2="313.38" stroke="#777" stroke-width="0.45" />
<line x1="168.30" y1="314.76" x2="169.70" y2="314.76" stroke="#777" stroke-width="0.45" />
<line x1="168.30" y1="321.06" x2="169.70" y2="321.06" stroke="#777" stroke-width="0.45" />
<line x1="168.30" y1="324.02" x2="169.70" y2="324.02" stroke="#777" stroke-width="0.45" />
<line x1="168.30" y1="326.11" x2="169.70" y2="326.11" stroke="#777" stroke-width="0.45" />
<line x1="168.30" y1="327.74" x2="169.70" y2="327.74" stroke="#777" stroke-width="0.45" />
<line x1="168.30" y1="329.07" x2="169.70" y2="329.07" stroke="#777" stroke-width="0.45" />
<line x1="168.30" y1="330.20" x2="169.70" y2="330.20" stroke="#777" stroke-width="0.45" />
<line x1="168.30" y1="331.17" x2="169.70" y2="331.17" stroke="#777" stroke-width="0.45" />
<line x1="168.30" y1="332.03" x2="169.70" y2="332.03" stroke="#777" stroke-width="0.45" />
<line x1="174.70" y1="340.40" x2="174.70" y2="342.80" stroke="#444" stroke-width="0.6" />
<line x1="201.20" y1="340.40" x2="201.20" y2="342.80" stroke="#444" stroke-width="0.6" />
<line x1="221.50" y1="340.40" x2="221.50" y2="342.80" stroke="#444" stroke-width="0.6" />
<line x1="245.00" y1="340.40" x2="245.00" y2="342.80" stroke="#444" stroke-width="0.6" />
<line x1="263.20" y1="340.40" x2="263.20" y2="342.80" stroke="#444" stroke-width="0.6" />
<line x1="283.50" y1="340.40" x2="283.50" y2="342.80" stroke="#444" stroke-width="0.6" />
<line x1="182.68" y1="340.40" x2="182.68" y2="341.80" stroke="#777" stroke-width="0.45" />
<line x1="187.34" y1="340.40" x2="187.34" y2="341.80" stroke="#777" stroke-width="0.45" />
<line x1="190.65" y1="340.40" x2="190.65" y2="341.80" stroke="#777" stroke-width="0.45" />
<line x1="193.22" y1="340.40" x2="193.22" y2="341.80" stroke="#777" stroke-width="0.45" />
<line x1="195.32" y1="340.40" x2="195.32" y2="341.80" stroke="#777" stroke-width="0.45" />
<line x1="197.10" y1="340.40" x2="197.10" y2="341.80" stroke="#777" stroke-width="0.45" />
<line x1="198.63" y1="340.40" x2="198.63" y2="341.80" stroke="#777" stroke-width="0.45" />
<line x1="199.99" y1="340.40" x2="199.99" y2="341.80" stroke="#777" stroke-width="0.45" />
<line x1="207.31" y1="340.40" x2="207.31" y2="341.80" stroke="#777" stroke-width="0.45" />
<line x1="210.89" y1="340.40" x2="210.89" y2="341.80" stroke="#777" stroke-width="0.45" />
<line x1="213.42" y1="340.40" x2="213.42" y2="341.80" stroke="#777" stroke-width="0.45" />
<line x1="215.39" y1="340.40" x2="215.39" y2="341.80" stroke="#777" stroke-width="0.45" />
<line x1="217.00" y1="340.40" x2="217.00" y2="341.80" stroke="#777" stroke-width="0.45" />
<line x1="218.36" y1="340.40" x2="218.36" y2="341.80" stroke="#777" stroke-width="0.45" />
<line x1="219.53" y1="340.40" x2="219.53" y2="341.80" stroke="#777" stroke-width="0.45" />
<line x1="220.57" y1="340.40" x2="220.57" y2="341.80" stroke="#777" stroke-width="0.45" />
<line x1="228.57" y1="340.40" x2="228.57" y2="341.80" stroke="#777" stroke-width="0.45" />
<line x1="232.71" y1="340.40" x2="232.71" y2="341.80" stroke="#777" stroke-width="0.45" />
<line x1="235.65" y1="340.40" x2="235.65" y2="341.80" stroke="#777" stroke-width="0.45" />
<line x1="237.93" y1="340.40" x2="237.93" y2="341.80" stroke="#777" stroke-width="0.45" />
<line x1="239.79" y1="340.40" x2="239.79" y2="341.80" stroke="#777" stroke-width="0.45" />
<line x1="241.36" y1="340.40" x2="241.36" y2="341.80" stroke="#777" stroke-width="0.45" />
<line x1="242.72" y1="340.40" x2="242.72" y2="341.80" stroke="#777" stroke-width="0.45" />
<line x1="243.92" y1="340.40" x2="243.92" y2="341.80" stroke="#777" stroke-width="0.45" />
<line x1="250.48" y1="340.40" x2="250.48" y2="341.80" stroke="#777" stroke-width="0.45" />
<line x1="253.68" y1="340.40" x2="253.68" y2="341.80" stroke="#777" stroke-width="0.45" />
<line x1="255.96" y1="340.40" x2="255.96" y2="341.80" stroke="#777" stroke-width="0.45" />
<line x1="257.72" y1="340.40" x2="257.72" y2="341.80" stroke="#777" stroke-width="0.45" />
<line x1="259.16" y1="340.40" x2="259.16" y2="341.80" stroke="#777" stroke-width="0.45" />
<line x1="260.38" y1="340.40" x2="260.38" y2="341.80" stroke="#777" stroke-width="0.45" />
<line x1="261.44" y1="340.40" x2="261.44" y2="341.80" stroke="#777" stroke-width="0.45" />
<line x1="262.37" y1="340.40" x2="262.37" y2="341.80" stroke="#777" stroke-width="0.45" />
<line x1="269.31" y1="340.40" x2="269.31" y2="341.80" stroke="#777" stroke-width="0.45" />
<line x1="272.89" y1="340.40" x2="272.89" y2="341.80" stroke="#777" stroke-width="0.45" />
<line x1="275.42" y1="340.40" x2="275.42" y2="341.80" stroke="#777" stroke-width="0.45" />
<line x1="277.39" y1="340.40" x2="277.39" y2="341.80" stroke="#777" stroke-width="0.45" />
<line x1="279.00" y1="340.40" x2="279.00" y2="341.80" stroke="#777" stroke-width="0.45" />
<line x1="280.36" y1="340.40" x2="280.36" y2="341.80" stroke="#777" stroke-width="0.45" />
<line x1="281.53" y1="340.40" x2="281.53" y2="341.80" stroke="#777" stroke-width="0.45" />
<line x1="282.57" y1="340.40" x2="282.57" y2="341.80" stroke="#777" stroke-width="0.45" />
<text x="33.30" y="238.00" font-size="8.6" textLength="16.6" lengthAdjust="spacingAndGlyphs" fill="#2b2b2b" stroke="#2b2b2b" stroke-width="0.16" >2.28</text>
<text x="141.60" y="238.00" font-size="8.6" text-anchor="end" textLength="16.6" lengthAdjust="spacingAndGlyphs" fill="#2b2b2b" stroke="#2b2b2b" stroke-width="0.16" >21.0</text>
<text x="33.30" y="332.60" font-size="8.6" textLength="16.6" lengthAdjust="spacingAndGlyphs" fill="#2b2b2b" stroke="#2b2b2b" stroke-width="0.16" >52.5</text>
<text x="141.60" y="332.60" font-size="8.6" text-anchor="end" textLength="16.6" lengthAdjust="spacingAndGlyphs" fill="#2b2b2b" stroke="#2b2b2b" stroke-width="0.16" >24.2</text>
<text x="172.90" y="240.00" font-size="8.6" textLength="16.6" lengthAdjust="spacingAndGlyphs" fill="#2b2b2b" stroke="#2b2b2b" stroke-width="0.16" >0.14</text>
<text x="279.80" y="240.00" font-size="8.6" text-anchor="end" textLength="16.6" lengthAdjust="spacingAndGlyphs" fill="#2b2b2b" stroke="#2b2b2b" stroke-width="0.16" >93.7</text>
<text x="172.90" y="334.50" font-size="8.6" textLength="16.6" lengthAdjust="spacingAndGlyphs" fill="#2b2b2b" stroke="#2b2b2b" stroke-width="0.16" >0.42</text>
<text x="279.80" y="334.50" font-size="8.6" text-anchor="end" textLength="16.6" lengthAdjust="spacingAndGlyphs" fill="#2b2b2b" stroke="#2b2b2b" stroke-width="0.16" >5.70</text>
<g fill="#1a1a1a"><ellipse cx="30.2" cy="311.9" rx="1.1" ry="2.0"/><ellipse cx="58.6" cy="341.4" rx="2.2" ry="1.1"/><ellipse cx="169.9" cy="313.5" rx="1.0" ry="1.8"/><ellipse cx="199.0" cy="341.7" rx="2.0" ry="1.0"/></g>
<g fill="#bbb" opacity="0.8"><circle cx="81.7" cy="287.6" r="0.35"/><circle cx="82.0" cy="280.2" r="0.35"/><circle cx="75.6" cy="281.1" r="0.35"/><circle cx="94.0" cy="286.8" r="0.35"/><circle cx="93.3" cy="285.2" r="0.35"/><circle cx="87.6" cy="284.7" r="0.35"/><circle cx="69.0" cy="290.7" r="0.35"/><circle cx="88.6" cy="287.5" r="0.35"/><circle cx="68.8" cy="267.3" r="0.35"/><circle cx="76.0" cy="278.8" r="0.35"/><circle cx="86.7" cy="282.6" r="0.35"/><circle cx="88.7" cy="277.2" r="0.35"/><circle cx="86.8" cy="286.5" r="0.35"/><circle cx="78.0" cy="298.5" r="0.35"/><circle cx="89.0" cy="293.8" r="0.35"/><circle cx="78.4" cy="276.3" r="0.35"/><circle cx="80.9" cy="282.0" r="0.35"/><circle cx="89.7" cy="285.2" r="0.35"/><circle cx="80.0" cy="274.4" r="0.35"/><circle cx="79.3" cy="294.0" r="0.35"/><circle cx="76.7" cy="285.2" r="0.35"/><circle cx="87.8" cy="269.6" r="0.35"/><circle cx="84.4" cy="294.8" r="0.35"/><circle cx="65.9" cy="280.1" r="0.35"/><circle cx="83.0" cy="275.6" r="0.35"/><circle cx="88.5" cy="282.4" r="0.35"/><circle cx="70.8" cy="290.5" r="0.35"/><circle cx="90.0" cy="291.5" r="0.35"/><circle cx="97.0" cy="286.3" r="0.35"/><circle cx="85.1" cy="271.3" r="0.35"/></g>
<path d="M86.10,267.00 C87.80,266.82 89.88,267.27 91.50,268.60 C93.12,269.93 94.18,272.67 95.80,275.00 C97.42,277.33 100.12,280.62 101.20,282.60 C102.28,284.58 102.48,285.48 102.30,286.90 C102.12,288.32 100.82,289.85 100.10,291.10 C99.38,292.35 98.53,292.78 98.00,294.40 C97.47,296.02 97.27,298.65 96.90,300.80 C96.53,302.95 96.52,305.15 95.80,307.30 C95.08,309.45 94.03,311.83 92.60,313.70 C91.17,315.57 89.53,317.33 87.20,318.50 C84.87,319.67 81.47,320.70 78.60,320.70 C75.73,320.70 72.58,319.67 70.00,318.50 C67.42,317.33 64.53,315.40 63.10,313.70 C61.67,312.00 61.32,310.08 61.40,308.30 C61.48,306.52 62.17,304.87 63.60,303.00 C65.03,301.13 68.18,298.90 70.00,297.10 C71.82,295.30 73.37,294.27 74.50,292.20 C75.63,290.13 76.12,287.73 76.80,284.70 C77.48,281.67 77.85,276.50 78.60,274.00 C79.35,271.50 80.05,270.87 81.30,269.70 C82.55,268.53 84.40,267.18 86.10,267.00 Z" stroke="#333" fill="none" stroke-width="0.45" />
<path d="M86.04,268.16 C87.66,267.98 89.64,268.42 91.17,269.70 C92.71,270.98 93.72,273.60 95.26,275.84 C96.80,278.08 99.36,281.23 100.39,283.14 C101.42,285.04 101.61,285.90 101.44,287.26 C101.26,288.62 100.03,290.10 99.34,291.30 C98.66,292.50 97.86,292.91 97.35,294.46 C96.84,296.02 96.65,298.54 96.31,300.61 C95.96,302.67 95.94,304.78 95.26,306.85 C94.58,308.91 93.58,311.20 92.22,312.99 C90.86,314.78 89.31,316.48 87.09,317.60 C84.87,318.72 81.64,319.71 78.92,319.71 C76.20,319.71 73.20,318.72 70.75,317.60 C68.30,316.48 65.56,314.62 64.20,312.99 C62.83,311.36 62.50,309.52 62.58,307.81 C62.66,306.10 63.31,304.51 64.67,302.72 C66.03,300.93 69.02,298.78 70.75,297.06 C72.48,295.33 73.95,294.34 75.03,292.35 C76.10,290.37 76.56,288.06 77.21,285.15 C77.86,282.24 78.21,277.28 78.92,274.88 C79.63,272.48 80.30,271.87 81.48,270.75 C82.67,269.63 84.43,268.34 86.04,268.16 Z" stroke="#333" fill="none" stroke-width="0.45" />
<path d="M86.50,268.40 C88.17,268.15 89.95,268.73 91.50,270.00 C93.05,271.27 94.32,274.00 95.80,276.00 C97.28,278.00 99.47,280.30 100.40,282.00 C101.33,283.70 101.55,284.78 101.40,286.20 C101.25,287.62 100.48,289.37 99.50,290.50 C98.52,291.63 97.08,292.48 95.50,293.00 C93.92,293.52 92.00,293.43 90.00,293.60 C88.00,293.77 85.50,294.02 83.50,294.00 C81.50,293.98 79.08,294.67 78.00,293.50 C76.92,292.33 76.90,289.50 77.00,287.00 C77.10,284.50 77.85,281.08 78.60,278.50 C79.35,275.92 80.18,273.18 81.50,271.50 C82.82,269.82 84.83,268.65 86.50,268.40 Z" stroke="#0a0a0a" fill="none" stroke-width="0.55" />
<path d="M86.64,270.04 C88.04,269.83 89.58,270.34 90.92,271.46 C92.26,272.58 93.38,274.98 94.66,276.76 C95.94,278.54 97.79,280.61 98.60,282.16 C99.41,283.71 99.69,284.83 99.54,286.08 C99.39,287.33 98.61,288.72 97.72,289.66 C96.83,290.60 95.59,291.28 94.22,291.70 C92.85,292.12 91.21,292.06 89.52,292.18 C87.83,292.30 85.71,292.50 84.06,292.44 C82.41,292.38 80.48,292.87 79.60,291.80 C78.72,290.73 78.70,288.18 78.78,286.00 C78.86,283.82 79.48,280.92 80.10,278.70 C80.72,276.48 81.41,274.14 82.50,272.70 C83.59,271.26 85.24,270.25 86.64,270.04 Z" stroke="#0a0a0a" fill="none" stroke-width="0.55" />
<path d="M86.77,271.52 C87.93,271.35 89.25,271.79 90.40,272.77 C91.54,273.76 92.54,275.86 93.63,277.44 C94.73,279.03 96.27,280.88 96.98,282.30 C97.69,283.73 98.01,284.87 97.87,285.97 C97.72,287.07 96.92,288.14 96.12,288.90 C95.32,289.66 94.24,290.20 93.07,290.53 C91.90,290.86 90.51,290.82 89.09,290.90 C87.67,290.99 85.91,291.14 84.56,291.04 C83.22,290.93 81.74,291.26 81.04,290.27 C80.34,289.28 80.31,287.00 80.38,285.10 C80.45,283.20 80.95,280.77 81.45,278.88 C81.95,276.99 82.51,275.01 83.40,273.78 C84.29,272.55 85.60,271.68 86.77,271.52 Z" stroke="#0a0a0a" fill="none" stroke-width="0.55" />
<path d="M86.89,272.91 C87.83,272.78 88.94,273.15 89.91,274.01 C90.87,274.88 91.74,276.69 92.66,278.09 C93.59,279.49 94.85,281.14 95.45,282.44 C96.05,283.74 96.43,284.91 96.28,285.87 C96.14,286.83 95.32,287.60 94.60,288.19 C93.89,288.78 92.97,289.17 91.98,289.43 C90.99,289.68 89.84,289.65 88.68,289.69 C87.52,289.74 86.09,289.85 85.04,289.71 C83.99,289.56 82.92,289.74 82.40,288.82 C81.88,287.91 81.84,285.88 81.90,284.25 C81.95,282.62 82.33,280.62 82.72,279.05 C83.12,277.48 83.56,275.82 84.25,274.80 C84.94,273.78 85.94,273.04 86.89,272.91 Z" stroke="#0a0a0a" fill="none" stroke-width="0.55" />
<path d="M86.99,274.14 C87.73,274.04 88.67,274.36 89.47,275.11 C90.27,275.86 91.04,277.42 91.81,278.66 C92.58,279.90 93.59,281.37 94.10,282.56 C94.61,283.75 95.03,284.95 94.89,285.78 C94.75,286.61 93.91,287.12 93.27,287.56 C92.62,288.00 91.84,288.27 91.02,288.45 C90.19,288.63 89.25,288.62 88.32,288.63 C87.39,288.64 86.25,288.72 85.46,288.54 C84.67,288.36 83.97,288.39 83.60,287.55 C83.23,286.71 83.19,284.89 83.23,283.50 C83.27,282.11 83.55,280.50 83.85,279.20 C84.14,277.90 84.48,276.54 85.00,275.70 C85.52,274.86 86.24,274.24 86.99,274.14 Z" stroke="#0a0a0a" fill="none" stroke-width="0.55" />
<path d="M87.09,275.37 C87.64,275.30 88.39,275.56 89.03,276.20 C89.68,276.85 90.34,278.15 90.95,279.23 C91.57,280.31 92.33,281.60 92.75,282.68 C93.17,283.76 93.63,284.98 93.49,285.69 C93.36,286.40 92.51,286.63 91.94,286.93 C91.36,287.23 90.72,287.37 90.06,287.48 C89.40,287.58 88.66,287.58 87.96,287.56 C87.26,287.55 86.41,287.59 85.88,287.37 C85.35,287.15 85.02,287.04 84.80,286.27 C84.58,285.50 84.54,283.90 84.56,282.75 C84.59,281.60 84.78,280.38 84.97,279.35 C85.17,278.33 85.40,277.26 85.75,276.60 C86.10,275.94 86.55,275.44 87.09,275.37 Z" stroke="#0a0a0a" fill="none" stroke-width="0.55" />
<path d="M87.20,276.60 C87.55,276.57 88.12,276.77 88.60,277.30 C89.08,277.83 89.63,278.88 90.10,279.80 C90.57,280.72 91.07,281.83 91.40,282.80 C91.73,283.77 92.23,285.02 92.10,285.60 C91.97,286.18 91.10,286.15 90.60,286.30 C90.10,286.45 89.60,286.47 89.10,286.50 C88.60,286.53 88.07,286.55 87.60,286.50 C87.13,286.45 86.57,286.45 86.30,286.20 C86.03,285.95 86.07,285.70 86.00,285.00 C85.93,284.30 85.88,282.92 85.90,282.00 C85.92,281.08 86.00,280.25 86.10,279.50 C86.20,278.75 86.32,277.98 86.50,277.50 C86.68,277.02 86.85,276.63 87.20,276.60 Z" stroke="#0a0a0a" fill="none" stroke-width="0.55" />
<defs><radialGradient id="wtb" cx="0.47" cy="0.55" r="0.55"><stop offset="0" stop-color="#b0b0b0"/><stop offset="0.5" stop-color="#888"/><stop offset="1" stop-color="#666"/></radialGradient><radialGradient id="nb" cx="0.3" cy="0.55" r="0.7"><stop offset="0" stop-color="#2a2a2a"/><stop offset="0.55" stop-color="#4a4a4a"/><stop offset="1" stop-color="#8a8a8a"/></radialGradient><filter id="bl" x="-20%" y="-20%" width="140%" height="140%"><feGaussianBlur stdDeviation="1.6"/></filter></defs>
<g transform="translate(78.4,308.3) rotate(-22)">
<ellipse rx="17.6" ry="13.0" fill="none" stroke="#555" stroke-width="0.4"/>
<ellipse rx="16.9" ry="12.4" fill="none" stroke="#555" stroke-width="0.4"/>
<ellipse rx="16.2" ry="11.8" fill="none" stroke="#555" stroke-width="0.4"/>
<ellipse rx="15.2" ry="11.1" fill="url(#wtb)" stroke="#151515" stroke-width="1.4"/>
<ellipse cx="-0.00" cy="0.00" rx="13.6" ry="9.9" fill="none" stroke="#4a4a4a" stroke-width="0.4"/>
<ellipse cx="-0.06" cy="0.10" rx="12.3" ry="8.9" fill="none" stroke="#4a4a4a" stroke-width="0.4"/>
<ellipse cx="-0.12" cy="0.20" rx="11.0" ry="8.0" fill="none" stroke="#4a4a4a" stroke-width="0.4"/>
<ellipse cx="-0.18" cy="0.30" rx="9.8" ry="7.1" fill="none" stroke="#4a4a4a" stroke-width="0.4"/>
<ellipse cx="-0.24" cy="0.40" rx="8.6" ry="6.2" fill="none" stroke="#4a4a4a" stroke-width="0.4"/>
<ellipse cx="-0.30" cy="0.50" rx="7.4" ry="5.4" fill="none" stroke="#4a4a4a" stroke-width="0.4"/>
<ellipse cx="-0.36" cy="0.60" rx="6.2" ry="4.5" fill="none" stroke="#4a4a4a" stroke-width="0.4"/>
<ellipse cx="-0.42" cy="0.70" rx="5.0" ry="3.7" fill="none" stroke="#4a4a4a" stroke-width="0.4"/>
<ellipse cx="-0.48" cy="0.80" rx="3.9" ry="2.9" fill="none" stroke="#4a4a4a" stroke-width="0.4"/>
<ellipse cx="-0.54" cy="0.90" rx="2.8" ry="2.1" fill="none" stroke="#4a4a4a" stroke-width="0.4"/>
<ellipse cx="-0.6" cy="1.3" rx="1.5" ry="1.0" fill="#fff"/>
</g>
<defs><linearGradient id="ng" x1="0" y1="0" x2="1" y2="0.3"><stop offset="0" stop-color="#222"/><stop offset="0.22" stop-color="#3a3a3a"/><stop offset="0.5" stop-color="#777"/><stop offset="1" stop-color="#bbb"/></linearGradient><linearGradient id="ng2" x1="0" y1="0" x2="0" y2="1"><stop offset="0" stop-color="#fff" stop-opacity="0"/><stop offset="0.62" stop-color="#fff" stop-opacity="0"/><stop offset="0.85" stop-color="#fff" stop-opacity="0.35"/><stop offset="1" stop-color="#fff" stop-opacity="0.55"/></linearGradient></defs>
<path d="M242.86,241.44 C245.46,241.28 248.36,241.30 251.05,242.04 C253.74,242.78 257.23,244.32 258.98,245.88 C260.74,247.44 261.19,249.42 261.58,251.40 C261.97,253.38 261.71,255.46 261.32,257.76 C260.93,260.06 260.17,262.72 259.24,265.20 C258.31,267.68 257.09,270.14 255.73,272.64 C254.36,275.14 252.65,277.72 251.05,280.20 C249.45,282.68 247.63,285.30 246.11,287.52 C244.59,289.74 243.29,291.54 241.95,293.52 C240.61,295.50 239.28,297.52 238.05,299.40 C236.82,301.28 235.62,303.30 234.54,304.80 C233.46,306.30 232.70,307.48 231.55,308.40 C230.40,309.32 228.99,310.08 227.65,310.32 C226.31,310.56 224.79,310.40 223.49,309.84 C222.19,309.28 220.65,308.20 219.85,306.96 C219.05,305.72 218.88,304.96 218.68,302.40 C218.49,299.84 218.55,295.32 218.68,291.60 C218.81,287.88 219.16,283.98 219.46,280.08 C219.76,276.18 220.09,271.92 220.50,268.20 C220.91,264.48 221.24,260.56 221.93,257.76 C222.62,254.96 223.60,253.14 224.66,251.40 C225.72,249.66 226.50,248.72 228.30,247.32 C230.10,245.92 233.02,243.98 235.45,243.00 C237.88,242.02 240.26,241.60 242.86,241.44 Z" stroke="none" fill="#d0d0d0" stroke-width="0.8" filter="url(#bl)" opacity="0.6"/>
<g fill="#3a3a3a" opacity="0.65"><circle cx="229.2" cy="281.5" r="0.33"/><circle cx="251.2" cy="257.4" r="0.33"/><circle cx="225.4" cy="274.9" r="0.33"/><circle cx="254.2" cy="285.4" r="0.33"/><circle cx="219.6" cy="254.8" r="0.33"/><circle cx="253.4" cy="274.4" r="0.33"/><circle cx="266.4" cy="278.9" r="0.33"/><circle cx="239.2" cy="266.1" r="0.33"/><circle cx="271.7" cy="254.0" r="0.33"/><circle cx="225.8" cy="255.3" r="0.33"/><circle cx="244.0" cy="271.9" r="0.33"/><circle cx="237.4" cy="270.5" r="0.33"/><circle cx="249.4" cy="279.8" r="0.33"/><circle cx="256.6" cy="268.5" r="0.33"/><circle cx="224.2" cy="289.2" r="0.33"/><circle cx="223.7" cy="273.6" r="0.33"/><circle cx="224.0" cy="276.6" r="0.33"/><circle cx="233.7" cy="276.9" r="0.33"/><circle cx="282.0" cy="254.5" r="0.33"/><circle cx="244.6" cy="245.1" r="0.33"/><circle cx="242.3" cy="281.9" r="0.33"/><circle cx="243.0" cy="276.3" r="0.33"/><circle cx="237.4" cy="253.5" r="0.33"/><circle cx="244.2" cy="254.5" r="0.33"/><circle cx="261.9" cy="253.6" r="0.33"/><circle cx="250.4" cy="267.0" r="0.33"/><circle cx="250.1" cy="256.1" r="0.33"/><circle cx="253.5" cy="263.6" r="0.33"/><circle cx="261.1" cy="274.4" r="0.33"/><circle cx="239.2" cy="256.9" r="0.33"/><circle cx="254.1" cy="274.1" r="0.33"/><circle cx="259.9" cy="256.7" r="0.33"/><circle cx="251.7" cy="275.6" r="0.33"/><circle cx="246.7" cy="272.1" r="0.33"/><circle cx="240.7" cy="259.6" r="0.33"/><circle cx="227.3" cy="268.2" r="0.33"/><circle cx="258.0" cy="291.5" r="0.33"/><circle cx="260.1" cy="282.5" r="0.33"/><circle cx="255.6" cy="277.7" r="0.33"/><circle cx="248.7" cy="281.5" r="0.33"/><circle cx="261.8" cy="256.9" r="0.33"/><circle cx="244.9" cy="304.4" r="0.33"/><circle cx="250.6" cy="284.4" r="0.33"/><circle cx="246.1" cy="248.0" r="0.33"/><circle cx="282.1" cy="287.5" r="0.33"/><circle cx="248.5" cy="281.2" r="0.33"/><circle cx="238.4" cy="255.3" r="0.33"/><circle cx="242.8" cy="276.5" r="0.33"/><circle cx="259.8" cy="276.4" r="0.33"/><circle cx="250.6" cy="291.4" r="0.33"/><circle cx="237.3" cy="286.0" r="0.33"/><circle cx="253.9" cy="260.4" r="0.33"/><circle cx="214.9" cy="263.5" r="0.33"/><circle cx="248.0" cy="277.4" r="0.33"/><circle cx="255.1" cy="247.1" r="0.33"/><circle cx="245.8" cy="280.4" r="0.33"/><circle cx="226.3" cy="232.8" r="0.33"/><circle cx="265.3" cy="303.4" r="0.33"/><circle cx="248.9" cy="250.9" r="0.33"/><circle cx="238.3" cy="275.4" r="0.33"/><circle cx="276.0" cy="268.8" r="0.33"/><circle cx="252.4" cy="294.4" r="0.33"/><circle cx="251.8" cy="300.1" r="0.33"/><circle cx="230.9" cy="265.5" r="0.33"/><circle cx="259.1" cy="289.5" r="0.33"/><circle cx="251.7" cy="271.9" r="0.33"/><circle cx="215.6" cy="266.7" r="0.33"/><circle cx="231.4" cy="264.2" r="0.33"/><circle cx="247.2" cy="262.0" r="0.33"/><circle cx="252.1" cy="267.8" r="0.33"/><circle cx="238.6" cy="273.4" r="0.33"/><circle cx="252.2" cy="281.8" r="0.33"/><circle cx="234.8" cy="268.4" r="0.33"/><circle cx="234.7" cy="301.7" r="0.33"/><circle cx="258.7" cy="260.7" r="0.33"/><circle cx="229.0" cy="252.4" r="0.33"/><circle cx="245.3" cy="272.5" r="0.33"/><circle cx="270.1" cy="264.2" r="0.33"/><circle cx="218.3" cy="234.4" r="0.33"/><circle cx="260.3" cy="266.8" r="0.33"/><circle cx="223.4" cy="280.0" r="0.33"/><circle cx="242.6" cy="332.8" r="0.33"/><circle cx="259.0" cy="274.2" r="0.33"/><circle cx="227.4" cy="236.6" r="0.33"/><circle cx="231.4" cy="245.7" r="0.33"/><circle cx="236.8" cy="233.2" r="0.33"/><circle cx="238.0" cy="293.5" r="0.33"/><circle cx="255.2" cy="243.8" r="0.33"/><circle cx="228.4" cy="290.9" r="0.33"/><circle cx="246.7" cy="250.4" r="0.33"/><circle cx="229.5" cy="262.0" r="0.33"/><circle cx="223.5" cy="264.4" r="0.33"/><circle cx="261.3" cy="275.5" r="0.33"/><circle cx="266.6" cy="259.5" r="0.33"/><circle cx="234.6" cy="254.9" r="0.33"/><circle cx="232.9" cy="249.6" r="0.33"/><circle cx="224.3" cy="289.0" r="0.33"/><circle cx="264.5" cy="277.0" r="0.33"/><circle cx="259.7" cy="268.1" r="0.33"/><circle cx="233.7" cy="274.6" r="0.33"/><circle cx="231.0" cy="253.9" r="0.33"/><circle cx="212.7" cy="253.8" r="0.33"/><circle cx="242.8" cy="272.4" r="0.33"/><circle cx="244.5" cy="294.9" r="0.33"/><circle cx="247.6" cy="278.5" r="0.33"/><circle cx="252.1" cy="251.5" r="0.33"/><circle cx="222.3" cy="290.8" r="0.33"/><circle cx="241.2" cy="294.0" r="0.33"/><circle cx="252.0" cy="284.6" r="0.33"/><circle cx="239.2" cy="233.4" r="0.33"/><circle cx="246.9" cy="256.0" r="0.33"/><circle cx="230.2" cy="266.4" r="0.33"/><circle cx="256.5" cy="280.7" r="0.33"/><circle cx="244.7" cy="239.0" r="0.33"/><circle cx="221.0" cy="234.7" r="0.33"/><circle cx="244.2" cy="280.0" r="0.33"/><circle cx="234.1" cy="277.3" r="0.33"/><circle cx="250.7" cy="285.1" r="0.33"/><circle cx="227.1" cy="260.4" r="0.33"/><circle cx="242.9" cy="301.4" r="0.33"/><circle cx="254.6" cy="263.2" r="0.33"/><circle cx="245.4" cy="270.8" r="0.33"/><circle cx="243.3" cy="265.8" r="0.33"/><circle cx="230.6" cy="251.4" r="0.33"/><circle cx="243.8" cy="299.2" r="0.33"/><circle cx="248.9" cy="268.6" r="0.33"/><circle cx="239.7" cy="272.0" r="0.33"/><circle cx="242.6" cy="258.1" r="0.33"/><circle cx="245.8" cy="273.0" r="0.33"/><circle cx="228.3" cy="260.7" r="0.33"/><circle cx="223.6" cy="257.5" r="0.33"/><circle cx="239.1" cy="228.3" r="0.33"/><circle cx="235.2" cy="261.4" r="0.33"/><circle cx="235.0" cy="274.3" r="0.33"/><circle cx="256.2" cy="266.2" r="0.33"/><circle cx="236.7" cy="260.8" r="0.33"/><circle cx="245.7" cy="285.1" r="0.33"/><circle cx="230.5" cy="253.4" r="0.33"/><circle cx="220.1" cy="257.9" r="0.33"/><circle cx="231.4" cy="293.7" r="0.33"/><circle cx="245.0" cy="264.6" r="0.33"/><circle cx="256.0" cy="253.0" r="0.33"/><circle cx="255.9" cy="279.4" r="0.33"/><circle cx="214.1" cy="252.0" r="0.33"/><circle cx="235.9" cy="288.6" r="0.33"/><circle cx="250.7" cy="244.6" r="0.33"/><circle cx="252.6" cy="259.2" r="0.33"/><circle cx="234.0" cy="262.9" r="0.33"/><circle cx="227.5" cy="242.4" r="0.33"/><circle cx="222.6" cy="254.7" r="0.33"/><circle cx="260.1" cy="301.2" r="0.33"/><circle cx="273.4" cy="252.5" r="0.33"/><circle cx="218.6" cy="271.2" r="0.33"/><circle cx="242.1" cy="305.9" r="0.33"/><circle cx="244.7" cy="255.8" r="0.33"/><circle cx="256.5" cy="274.4" r="0.33"/><circle cx="219.1" cy="268.7" r="0.33"/><circle cx="239.2" cy="271.4" r="0.33"/><circle cx="241.6" cy="264.0" r="0.33"/><circle cx="240.9" cy="259.8" r="0.33"/><circle cx="239.9" cy="298.2" r="0.33"/><circle cx="248.9" cy="275.4" r="0.33"/><circle cx="221.5" cy="274.4" r="0.33"/><circle cx="244.5" cy="245.7" r="0.33"/><circle cx="253.1" cy="258.9" r="0.33"/><circle cx="246.1" cy="266.1" r="0.33"/><circle cx="251.7" cy="288.3" r="0.33"/><circle cx="246.2" cy="296.8" r="0.33"/><circle cx="227.0" cy="258.6" r="0.33"/><circle cx="244.5" cy="249.8" r="0.33"/><circle cx="242.7" cy="286.1" r="0.33"/><circle cx="246.5" cy="236.3" r="0.33"/><circle cx="259.1" cy="297.8" r="0.33"/><circle cx="255.2" cy="260.9" r="0.33"/><circle cx="232.9" cy="267.9" r="0.33"/><circle cx="226.4" cy="270.9" r="0.33"/><circle cx="238.9" cy="268.5" r="0.33"/><circle cx="255.1" cy="261.1" r="0.33"/><circle cx="230.3" cy="293.3" r="0.33"/><circle cx="226.3" cy="267.6" r="0.33"/><circle cx="238.4" cy="265.1" r="0.33"/><circle cx="228.3" cy="270.5" r="0.33"/><circle cx="265.2" cy="250.6" r="0.33"/><circle cx="246.9" cy="288.6" r="0.33"/><circle cx="255.5" cy="278.9" r="0.33"/><circle cx="241.1" cy="234.7" r="0.33"/><circle cx="232.2" cy="275.9" r="0.33"/><circle cx="255.6" cy="288.5" r="0.33"/><circle cx="246.4" cy="264.1" r="0.33"/><circle cx="241.3" cy="266.5" r="0.33"/><circle cx="248.9" cy="279.7" r="0.33"/><circle cx="233.1" cy="258.5" r="0.33"/><circle cx="237.9" cy="291.3" r="0.33"/><circle cx="263.4" cy="280.2" r="0.33"/><circle cx="257.3" cy="279.5" r="0.33"/><circle cx="245.8" cy="280.6" r="0.33"/><circle cx="228.0" cy="271.4" r="0.33"/><circle cx="237.3" cy="284.9" r="0.33"/><circle cx="234.3" cy="270.9" r="0.33"/><circle cx="254.8" cy="289.9" r="0.33"/><circle cx="226.9" cy="258.5" r="0.33"/><circle cx="245.6" cy="248.7" r="0.33"/><circle cx="244.2" cy="258.9" r="0.33"/><circle cx="230.1" cy="241.4" r="0.33"/><circle cx="247.8" cy="258.8" r="0.33"/><circle cx="243.1" cy="307.2" r="0.33"/><circle cx="271.1" cy="322.9" r="0.33"/><circle cx="245.0" cy="262.6" r="0.33"/><circle cx="252.7" cy="295.2" r="0.33"/><circle cx="244.3" cy="277.3" r="0.33"/><circle cx="243.0" cy="253.2" r="0.33"/><circle cx="240.7" cy="261.4" r="0.33"/><circle cx="231.9" cy="289.5" r="0.33"/><circle cx="250.6" cy="268.2" r="0.33"/><circle cx="219.3" cy="242.0" r="0.33"/><circle cx="247.4" cy="266.3" r="0.33"/><circle cx="221.1" cy="276.5" r="0.33"/><circle cx="223.3" cy="276.3" r="0.33"/><circle cx="245.8" cy="275.0" r="0.33"/><circle cx="245.6" cy="271.8" r="0.33"/><circle cx="225.8" cy="268.9" r="0.33"/><circle cx="234.4" cy="268.5" r="0.33"/><circle cx="248.9" cy="278.7" r="0.33"/><circle cx="247.0" cy="221.7" r="0.33"/><circle cx="245.7" cy="265.0" r="0.33"/><circle cx="275.2" cy="274.8" r="0.33"/><circle cx="224.1" cy="283.8" r="0.33"/><circle cx="241.4" cy="288.2" r="0.33"/><circle cx="228.5" cy="273.1" r="0.33"/><circle cx="239.8" cy="269.0" r="0.33"/><circle cx="224.2" cy="243.2" r="0.33"/><circle cx="253.4" cy="283.9" r="0.33"/><circle cx="235.3" cy="254.1" r="0.33"/><circle cx="247.8" cy="278.1" r="0.33"/><circle cx="239.8" cy="270.6" r="0.33"/><circle cx="252.7" cy="245.9" r="0.33"/><circle cx="224.1" cy="242.0" r="0.33"/><circle cx="229.2" cy="261.3" r="0.33"/><circle cx="226.2" cy="263.2" r="0.33"/><circle cx="262.8" cy="258.9" r="0.33"/><circle cx="253.4" cy="305.6" r="0.33"/><circle cx="231.2" cy="242.6" r="0.33"/><circle cx="241.5" cy="253.2" r="0.33"/><circle cx="254.8" cy="242.8" r="0.33"/><circle cx="225.6" cy="246.9" r="0.33"/><circle cx="237.3" cy="253.3" r="0.33"/><circle cx="239.0" cy="264.3" r="0.33"/><circle cx="240.0" cy="287.8" r="0.33"/><circle cx="253.8" cy="266.8" r="0.33"/><circle cx="224.8" cy="256.9" r="0.33"/><circle cx="259.2" cy="307.0" r="0.33"/><circle cx="231.9" cy="259.5" r="0.33"/><circle cx="227.1" cy="255.6" r="0.33"/><circle cx="228.9" cy="271.0" r="0.33"/><circle cx="259.5" cy="263.6" r="0.33"/><circle cx="226.4" cy="246.5" r="0.33"/><circle cx="244.4" cy="268.6" r="0.33"/><circle cx="220.7" cy="258.1" r="0.33"/><circle cx="247.4" cy="286.4" r="0.33"/><circle cx="250.9" cy="270.5" r="0.33"/><circle cx="239.9" cy="276.6" r="0.33"/><circle cx="254.5" cy="304.8" r="0.33"/><circle cx="226.0" cy="269.2" r="0.33"/><circle cx="255.9" cy="260.1" r="0.33"/><circle cx="259.2" cy="263.0" r="0.33"/><circle cx="241.6" cy="263.4" r="0.33"/><circle cx="219.5" cy="260.6" r="0.33"/><circle cx="272.8" cy="270.5" r="0.33"/><circle cx="254.9" cy="282.5" r="0.33"/><circle cx="254.9" cy="283.8" r="0.33"/><circle cx="237.5" cy="267.6" r="0.33"/><circle cx="252.0" cy="260.0" r="0.33"/><circle cx="224.4" cy="272.3" r="0.33"/><circle cx="238.9" cy="282.2" r="0.33"/><circle cx="227.0" cy="256.2" r="0.33"/><circle cx="247.0" cy="296.3" r="0.33"/><circle cx="242.4" cy="272.8" r="0.33"/><circle cx="243.8" cy="274.7" r="0.33"/><circle cx="261.5" cy="288.2" r="0.33"/><circle cx="229.8" cy="299.1" r="0.33"/><circle cx="240.1" cy="264.9" r="0.33"/><circle cx="270.3" cy="256.6" r="0.33"/><circle cx="271.4" cy="276.8" r="0.33"/><circle cx="232.3" cy="282.4" r="0.33"/><circle cx="250.3" cy="264.7" r="0.33"/><circle cx="211.6" cy="274.9" r="0.33"/><circle cx="233.2" cy="253.2" r="0.33"/><circle cx="262.9" cy="258.0" r="0.33"/><circle cx="235.5" cy="267.0" r="0.33"/><circle cx="227.9" cy="261.1" r="0.33"/><circle cx="245.0" cy="274.6" r="0.33"/><circle cx="235.3" cy="270.8" r="0.33"/><circle cx="228.1" cy="284.5" r="0.33"/><circle cx="234.1" cy="276.8" r="0.33"/><circle cx="227.9" cy="265.8" r="0.33"/><circle cx="237.6" cy="249.7" r="0.33"/><circle cx="272.0" cy="258.4" r="0.33"/><circle cx="236.8" cy="258.6" r="0.33"/><circle cx="269.5" cy="285.0" r="0.33"/><circle cx="237.7" cy="246.8" r="0.33"/><circle cx="239.4" cy="282.1" r="0.33"/><circle cx="228.9" cy="253.4" r="0.33"/><circle cx="223.0" cy="263.0" r="0.33"/><circle cx="238.4" cy="259.6" r="0.33"/><circle cx="258.5" cy="314.5" r="0.33"/><circle cx="257.6" cy="245.5" r="0.33"/><circle cx="246.7" cy="269.9" r="0.33"/><circle cx="246.4" cy="287.3" r="0.33"/><circle cx="236.1" cy="266.3" r="0.33"/><circle cx="236.8" cy="270.1" r="0.33"/><circle cx="262.2" cy="276.7" r="0.33"/><circle cx="223.0" cy="268.9" r="0.33"/><circle cx="237.0" cy="286.6" r="0.33"/><circle cx="249.9" cy="283.2" r="0.33"/><circle cx="230.1" cy="239.8" r="0.33"/><circle cx="248.8" cy="271.6" r="0.33"/><circle cx="240.6" cy="246.9" r="0.33"/><circle cx="239.0" cy="258.7" r="0.33"/><circle cx="235.7" cy="278.7" r="0.33"/><circle cx="241.1" cy="254.2" r="0.33"/><circle cx="206.7" cy="238.1" r="0.33"/><circle cx="241.5" cy="290.5" r="0.33"/><circle cx="228.2" cy="234.3" r="0.33"/><circle cx="233.9" cy="280.6" r="0.33"/><circle cx="269.2" cy="281.2" r="0.33"/><circle cx="247.6" cy="271.5" r="0.33"/><circle cx="226.4" cy="267.5" r="0.33"/><circle cx="233.4" cy="259.1" r="0.33"/><circle cx="240.5" cy="263.4" r="0.33"/><circle cx="254.5" cy="291.4" r="0.33"/><circle cx="253.5" cy="273.4" r="0.33"/><circle cx="230.2" cy="246.8" r="0.33"/><circle cx="243.8" cy="279.2" r="0.33"/><circle cx="237.0" cy="294.5" r="0.33"/><circle cx="240.1" cy="277.4" r="0.33"/><circle cx="230.7" cy="251.4" r="0.33"/><circle cx="260.5" cy="242.3" r="0.33"/><circle cx="250.0" cy="257.0" r="0.33"/><circle cx="240.7" cy="255.9" r="0.33"/><circle cx="242.3" cy="286.6" r="0.33"/><circle cx="260.8" cy="247.8" r="0.33"/><circle cx="247.6" cy="285.1" r="0.33"/><circle cx="238.4" cy="284.2" r="0.33"/><circle cx="235.9" cy="283.1" r="0.33"/><circle cx="254.4" cy="287.4" r="0.33"/><circle cx="239.5" cy="249.3" r="0.33"/><circle cx="243.7" cy="249.5" r="0.33"/><circle cx="260.0" cy="290.8" r="0.33"/><circle cx="246.1" cy="258.5" r="0.33"/><circle cx="257.5" cy="267.4" r="0.33"/><circle cx="224.7" cy="269.9" r="0.33"/><circle cx="257.6" cy="258.8" r="0.33"/><circle cx="241.5" cy="264.0" r="0.33"/><circle cx="218.4" cy="269.3" r="0.33"/><circle cx="247.6" cy="271.7" r="0.33"/><circle cx="227.5" cy="236.7" r="0.33"/><circle cx="261.1" cy="276.1" r="0.33"/><circle cx="262.1" cy="286.2" r="0.33"/><circle cx="233.1" cy="262.3" r="0.33"/><circle cx="255.6" cy="295.3" r="0.33"/><circle cx="220.1" cy="273.8" r="0.33"/><circle cx="236.5" cy="282.1" r="0.33"/><circle cx="258.2" cy="258.8" r="0.33"/><circle cx="227.1" cy="276.3" r="0.33"/><circle cx="229.5" cy="246.6" r="0.33"/><circle cx="249.8" cy="257.7" r="0.33"/><circle cx="242.7" cy="245.9" r="0.33"/><circle cx="247.0" cy="242.1" r="0.33"/><circle cx="244.3" cy="236.4" r="0.33"/><circle cx="256.7" cy="257.9" r="0.33"/><circle cx="221.6" cy="273.2" r="0.33"/><circle cx="240.4" cy="252.7" r="0.33"/><circle cx="237.5" cy="276.5" r="0.33"/><circle cx="222.1" cy="221.8" r="0.33"/><circle cx="239.2" cy="278.7" r="0.33"/><circle cx="251.5" cy="284.8" r="0.33"/><circle cx="248.4" cy="313.9" r="0.33"/><circle cx="253.6" cy="271.4" r="0.33"/><circle cx="260.8" cy="280.4" r="0.33"/><circle cx="239.6" cy="259.6" r="0.33"/><circle cx="257.0" cy="272.2" r="0.33"/><circle cx="212.5" cy="260.8" r="0.33"/><circle cx="248.3" cy="269.7" r="0.33"/><circle cx="249.2" cy="279.0" r="0.33"/><circle cx="253.0" cy="294.6" r="0.33"/><circle cx="232.5" cy="266.2" r="0.33"/><circle cx="250.3" cy="280.5" r="0.33"/><circle cx="260.3" cy="290.3" r="0.33"/><circle cx="243.0" cy="290.8" r="0.33"/><circle cx="241.7" cy="251.3" r="0.33"/><circle cx="252.4" cy="303.9" r="0.33"/><circle cx="248.9" cy="259.0" r="0.33"/><circle cx="208.4" cy="268.9" r="0.33"/><circle cx="233.9" cy="274.4" r="0.33"/><circle cx="274.6" cy="271.6" r="0.33"/><circle cx="240.4" cy="253.7" r="0.33"/><circle cx="226.3" cy="272.0" r="0.33"/><circle cx="253.8" cy="320.1" r="0.33"/><circle cx="233.5" cy="262.0" r="0.33"/><circle cx="256.2" cy="266.2" r="0.33"/><circle cx="234.4" cy="296.1" r="0.33"/><circle cx="230.5" cy="250.2" r="0.33"/><circle cx="248.8" cy="276.4" r="0.33"/><circle cx="241.9" cy="282.6" r="0.33"/><circle cx="246.9" cy="252.3" r="0.33"/><circle cx="203.0" cy="240.9" r="0.33"/><circle cx="247.6" cy="290.2" r="0.33"/><circle cx="262.3" cy="287.8" r="0.33"/><circle cx="264.8" cy="262.0" r="0.33"/><circle cx="246.0" cy="240.9" r="0.33"/><circle cx="252.7" cy="273.2" r="0.33"/><circle cx="238.3" cy="263.4" r="0.33"/><circle cx="229.2" cy="277.2" r="0.33"/><circle cx="255.5" cy="258.5" r="0.33"/><circle cx="244.6" cy="257.0" r="0.33"/><circle cx="239.2" cy="252.8" r="0.33"/><circle cx="245.4" cy="264.8" r="0.33"/><circle cx="242.3" cy="258.9" r="0.33"/><circle cx="225.7" cy="270.0" r="0.33"/><circle cx="263.8" cy="290.6" r="0.33"/><circle cx="242.7" cy="284.2" r="0.33"/><circle cx="253.6" cy="272.9" r="0.33"/><circle cx="224.9" cy="282.1" r="0.33"/><circle cx="237.0" cy="293.1" r="0.33"/><circle cx="255.2" cy="276.4" r="0.33"/><circle cx="214.6" cy="291.2" r="0.33"/><circle cx="243.1" cy="246.5" r="0.33"/><circle cx="254.3" cy="266.9" r="0.33"/><circle cx="235.6" cy="259.4" r="0.33"/><circle cx="227.0" cy="267.6" r="0.33"/><circle cx="280.9" cy="259.5" r="0.33"/><circle cx="240.8" cy="258.7" r="0.33"/><circle cx="231.2" cy="263.9" r="0.33"/><circle cx="236.3" cy="287.9" r="0.33"/><circle cx="243.7" cy="285.0" r="0.33"/><circle cx="233.3" cy="290.0" r="0.33"/><circle cx="245.6" cy="280.8" r="0.33"/><circle cx="235.6" cy="256.3" r="0.33"/><circle cx="254.3" cy="257.7" r="0.33"/><circle cx="235.1" cy="256.5" r="0.33"/><circle cx="242.2" cy="262.9" r="0.33"/><circle cx="247.4" cy="274.3" r="0.33"/><circle cx="225.4" cy="250.5" r="0.33"/><circle cx="252.6" cy="282.7" r="0.33"/><circle cx="243.8" cy="248.6" r="0.33"/><circle cx="251.6" cy="273.5" r="0.33"/><circle cx="248.0" cy="275.6" r="0.33"/><circle cx="239.3" cy="274.9" r="0.33"/><circle cx="250.4" cy="257.8" r="0.33"/><circle cx="223.8" cy="274.7" r="0.33"/><circle cx="233.7" cy="239.7" r="0.33"/><circle cx="237.2" cy="282.4" r="0.33"/><circle cx="240.7" cy="272.1" r="0.33"/><circle cx="231.9" cy="290.1" r="0.33"/><circle cx="262.3" cy="259.0" r="0.33"/><circle cx="226.3" cy="254.8" r="0.33"/><circle cx="253.5" cy="267.7" r="0.33"/><circle cx="239.4" cy="292.9" r="0.33"/><circle cx="254.8" cy="276.2" r="0.33"/><circle cx="219.9" cy="276.2" r="0.33"/><circle cx="242.5" cy="247.7" r="0.33"/><circle cx="261.7" cy="288.7" r="0.33"/><circle cx="250.4" cy="253.9" r="0.33"/><circle cx="238.8" cy="288.2" r="0.33"/><circle cx="261.3" cy="285.2" r="0.33"/><circle cx="256.1" cy="263.1" r="0.33"/><circle cx="226.2" cy="242.2" r="0.33"/><circle cx="264.8" cy="302.9" r="0.33"/><circle cx="233.6" cy="264.5" r="0.33"/><circle cx="252.1" cy="273.1" r="0.33"/><circle cx="221.1" cy="264.7" r="0.33"/><circle cx="240.3" cy="307.2" r="0.33"/><circle cx="238.2" cy="286.8" r="0.33"/><circle cx="276.4" cy="291.7" r="0.33"/><circle cx="268.9" cy="289.7" r="0.33"/><circle cx="224.9" cy="270.0" r="0.33"/><circle cx="231.4" cy="268.6" r="0.33"/><circle cx="264.3" cy="231.5" r="0.33"/><circle cx="241.6" cy="247.8" r="0.33"/><circle cx="265.9" cy="284.8" r="0.33"/><circle cx="247.8" cy="305.3" r="0.33"/><circle cx="250.5" cy="290.5" r="0.33"/><circle cx="242.5" cy="259.7" r="0.33"/><circle cx="236.7" cy="269.8" r="0.33"/><circle cx="250.3" cy="269.3" r="0.33"/><circle cx="269.7" cy="256.4" r="0.33"/><circle cx="232.1" cy="260.6" r="0.33"/><circle cx="224.1" cy="250.5" r="0.33"/><circle cx="235.2" cy="288.9" r="0.33"/><circle cx="241.7" cy="267.0" r="0.33"/><circle cx="252.5" cy="285.5" r="0.33"/><circle cx="254.0" cy="279.6" r="0.33"/><circle cx="233.6" cy="268.3" r="0.33"/><circle cx="232.0" cy="271.9" r="0.33"/><circle cx="229.8" cy="267.7" r="0.33"/><circle cx="238.6" cy="267.3" r="0.33"/><circle cx="235.9" cy="263.3" r="0.33"/><circle cx="256.0" cy="258.7" r="0.33"/><circle cx="230.8" cy="277.6" r="0.33"/><circle cx="222.5" cy="257.7" r="0.33"/><circle cx="233.3" cy="243.0" r="0.33"/><circle cx="204.3" cy="288.9" r="0.33"/><circle cx="244.9" cy="238.7" r="0.33"/><circle cx="234.4" cy="283.2" r="0.33"/><circle cx="212.6" cy="264.9" r="0.33"/><circle cx="226.1" cy="272.2" r="0.33"/><circle cx="223.1" cy="293.1" r="0.33"/><circle cx="242.0" cy="275.5" r="0.33"/><circle cx="225.7" cy="237.6" r="0.33"/><circle cx="232.3" cy="249.3" r="0.33"/><circle cx="237.2" cy="256.3" r="0.33"/><circle cx="236.9" cy="268.0" r="0.33"/><circle cx="255.9" cy="278.8" r="0.33"/><circle cx="229.6" cy="274.2" r="0.33"/><circle cx="262.7" cy="271.4" r="0.33"/><circle cx="232.4" cy="271.3" r="0.33"/><circle cx="243.2" cy="286.6" r="0.33"/><circle cx="244.6" cy="275.8" r="0.33"/><circle cx="261.0" cy="238.1" r="0.33"/><circle cx="219.5" cy="246.8" r="0.33"/><circle cx="227.5" cy="290.8" r="0.33"/><circle cx="255.1" cy="294.8" r="0.33"/><circle cx="212.8" cy="264.7" r="0.33"/><circle cx="265.6" cy="280.0" r="0.33"/><circle cx="257.9" cy="280.0" r="0.33"/><circle cx="242.3" cy="269.7" r="0.33"/><circle cx="247.3" cy="283.3" r="0.33"/><circle cx="241.9" cy="275.8" r="0.33"/><circle cx="253.2" cy="245.6" r="0.33"/><circle cx="236.1" cy="282.4" r="0.33"/><circle cx="237.9" cy="268.7" r="0.33"/><circle cx="270.0" cy="267.3" r="0.33"/><circle cx="243.3" cy="289.4" r="0.33"/><circle cx="266.3" cy="241.1" r="0.33"/><circle cx="234.5" cy="274.8" r="0.33"/><circle cx="246.9" cy="307.5" r="0.33"/><circle cx="246.1" cy="261.3" r="0.33"/><circle cx="243.4" cy="255.1" r="0.33"/><circle cx="235.2" cy="274.4" r="0.33"/><circle cx="258.1" cy="223.4" r="0.33"/><circle cx="255.0" cy="289.7" r="0.33"/><circle cx="262.2" cy="297.4" r="0.33"/><circle cx="248.4" cy="270.3" r="0.33"/><circle cx="235.4" cy="256.9" r="0.33"/><circle cx="255.1" cy="243.8" r="0.33"/><circle cx="237.4" cy="262.2" r="0.33"/><circle cx="219.5" cy="238.0" r="0.33"/><circle cx="238.1" cy="273.9" r="0.33"/><circle cx="248.7" cy="282.9" r="0.33"/><circle cx="236.3" cy="260.5" r="0.33"/><circle cx="249.6" cy="279.3" r="0.33"/><circle cx="222.1" cy="249.7" r="0.33"/><circle cx="235.6" cy="291.5" r="0.33"/><circle cx="249.0" cy="251.4" r="0.33"/><circle cx="248.2" cy="282.9" r="0.33"/><circle cx="254.4" cy="253.6" r="0.33"/><circle cx="247.3" cy="293.6" r="0.33"/><circle cx="280.3" cy="283.7" r="0.33"/><circle cx="230.7" cy="282.2" r="0.33"/><circle cx="238.0" cy="270.4" r="0.33"/><circle cx="231.1" cy="265.3" r="0.33"/><circle cx="252.4" cy="298.8" r="0.33"/><circle cx="253.0" cy="273.7" r="0.33"/><circle cx="238.0" cy="257.9" r="0.33"/><circle cx="246.4" cy="290.8" r="0.33"/><circle cx="263.6" cy="297.7" r="0.33"/><circle cx="245.1" cy="268.5" r="0.33"/><circle cx="224.5" cy="283.6" r="0.33"/><circle cx="229.8" cy="302.0" r="0.33"/><circle cx="234.3" cy="272.8" r="0.33"/><circle cx="222.6" cy="268.1" r="0.33"/><circle cx="237.2" cy="292.2" r="0.33"/><circle cx="238.2" cy="250.0" r="0.33"/><circle cx="218.0" cy="277.5" r="0.33"/><circle cx="229.6" cy="254.4" r="0.33"/><circle cx="248.1" cy="264.4" r="0.33"/><circle cx="239.9" cy="260.1" r="0.33"/><circle cx="232.4" cy="265.2" r="0.33"/><circle cx="226.1" cy="287.2" r="0.33"/><circle cx="236.9" cy="240.7" r="0.33"/><circle cx="250.0" cy="288.0" r="0.33"/><circle cx="252.4" cy="289.6" r="0.33"/><circle cx="238.7" cy="271.2" r="0.33"/><circle cx="220.9" cy="261.3" r="0.33"/><circle cx="214.5" cy="263.8" r="0.33"/><circle cx="248.0" cy="277.2" r="0.33"/><circle cx="257.0" cy="266.9" r="0.33"/><circle cx="232.4" cy="281.3" r="0.33"/><circle cx="250.6" cy="299.1" r="0.33"/><circle cx="271.5" cy="276.6" r="0.33"/><circle cx="225.1" cy="266.7" r="0.33"/><circle cx="240.2" cy="257.8" r="0.33"/><circle cx="252.4" cy="278.6" r="0.33"/><circle cx="253.6" cy="269.9" r="0.33"/><circle cx="226.3" cy="260.5" r="0.33"/><circle cx="248.2" cy="291.8" r="0.33"/><circle cx="266.9" cy="278.6" r="0.33"/><circle cx="250.4" cy="279.2" r="0.33"/><circle cx="259.6" cy="287.0" r="0.33"/><circle cx="243.5" cy="241.7" r="0.33"/><circle cx="255.9" cy="271.9" r="0.33"/><circle cx="239.4" cy="280.4" r="0.33"/><circle cx="245.2" cy="267.9" r="0.33"/><circle cx="222.0" cy="279.3" r="0.33"/><circle cx="248.5" cy="266.8" r="0.33"/><circle cx="225.3" cy="284.4" r="0.33"/><circle cx="251.8" cy="269.7" r="0.33"/><circle cx="245.2" cy="262.5" r="0.33"/><circle cx="237.0" cy="281.3" r="0.33"/><circle cx="238.7" cy="274.5" r="0.33"/><circle cx="285.9" cy="266.9" r="0.33"/><circle cx="234.2" cy="243.5" r="0.33"/><circle cx="247.6" cy="281.7" r="0.33"/><circle cx="232.0" cy="269.3" r="0.33"/><circle cx="217.7" cy="288.9" r="0.33"/><circle cx="238.7" cy="283.6" r="0.33"/><circle cx="257.7" cy="261.4" r="0.33"/><circle cx="255.5" cy="269.6" r="0.33"/><circle cx="237.9" cy="266.4" r="0.33"/><circle cx="239.1" cy="294.3" r="0.33"/><circle cx="246.9" cy="250.0" r="0.33"/><circle cx="248.0" cy="254.6" r="0.33"/><circle cx="230.6" cy="295.8" r="0.33"/><circle cx="233.3" cy="294.6" r="0.33"/><circle cx="249.7" cy="283.5" r="0.33"/><circle cx="255.0" cy="286.2" r="0.33"/><circle cx="249.6" cy="277.7" r="0.33"/><circle cx="251.4" cy="286.4" r="0.33"/><circle cx="243.1" cy="288.0" r="0.33"/><circle cx="260.0" cy="262.3" r="0.33"/><circle cx="244.4" cy="259.8" r="0.33"/><circle cx="240.0" cy="275.4" r="0.33"/><circle cx="232.7" cy="257.4" r="0.33"/><circle cx="242.7" cy="273.2" r="0.33"/><circle cx="250.1" cy="279.9" r="0.33"/><circle cx="228.5" cy="300.5" r="0.33"/><circle cx="235.4" cy="258.4" r="0.33"/><circle cx="240.0" cy="278.7" r="0.33"/><circle cx="250.5" cy="260.3" r="0.33"/><circle cx="234.7" cy="243.8" r="0.33"/><circle cx="243.4" cy="267.5" r="0.33"/><circle cx="241.9" cy="286.1" r="0.33"/><circle cx="269.9" cy="278.5" r="0.33"/><circle cx="241.3" cy="297.9" r="0.33"/><circle cx="237.7" cy="270.8" r="0.33"/><circle cx="237.6" cy="279.9" r="0.33"/><circle cx="249.6" cy="269.9" r="0.33"/><circle cx="238.6" cy="268.6" r="0.33"/><circle cx="242.8" cy="287.3" r="0.33"/><circle cx="234.8" cy="270.0" r="0.33"/><circle cx="235.1" cy="259.0" r="0.33"/><circle cx="230.7" cy="247.6" r="0.33"/><circle cx="250.1" cy="276.8" r="0.33"/><circle cx="247.4" cy="296.1" r="0.33"/><circle cx="235.2" cy="282.5" r="0.33"/><circle cx="244.7" cy="259.3" r="0.33"/><circle cx="244.2" cy="285.3" r="0.33"/><circle cx="244.4" cy="274.2" r="0.33"/><circle cx="260.3" cy="267.3" r="0.33"/><circle cx="217.4" cy="265.7" r="0.33"/><circle cx="251.4" cy="264.3" r="0.33"/><circle cx="217.4" cy="243.3" r="0.33"/><circle cx="254.6" cy="292.4" r="0.33"/><circle cx="214.2" cy="241.1" r="0.33"/><circle cx="244.9" cy="259.2" r="0.33"/><circle cx="236.6" cy="266.2" r="0.33"/><circle cx="233.6" cy="281.0" r="0.33"/><circle cx="255.3" cy="271.7" r="0.33"/><circle cx="241.3" cy="289.0" r="0.33"/><circle cx="244.0" cy="279.7" r="0.33"/><circle cx="234.5" cy="284.6" r="0.33"/><circle cx="258.5" cy="287.2" r="0.33"/><circle cx="244.9" cy="276.9" r="0.33"/><circle cx="240.1" cy="286.6" r="0.33"/><circle cx="257.7" cy="283.7" r="0.33"/><circle cx="230.3" cy="252.4" r="0.33"/><circle cx="240.0" cy="267.0" r="0.33"/><circle cx="236.5" cy="282.9" r="0.33"/><circle cx="255.8" cy="272.1" r="0.33"/><circle cx="257.7" cy="271.4" r="0.33"/><circle cx="226.8" cy="265.1" r="0.33"/><circle cx="241.7" cy="282.4" r="0.33"/><circle cx="253.9" cy="268.1" r="0.33"/><circle cx="249.5" cy="252.6" r="0.33"/><circle cx="249.3" cy="294.2" r="0.33"/><circle cx="253.4" cy="284.6" r="0.33"/><circle cx="209.7" cy="252.0" r="0.33"/><circle cx="237.4" cy="289.7" r="0.33"/><circle cx="258.1" cy="253.1" r="0.33"/><circle cx="224.3" cy="258.4" r="0.33"/><circle cx="234.5" cy="282.7" r="0.33"/><circle cx="249.0" cy="301.0" r="0.33"/><circle cx="246.8" cy="256.1" r="0.33"/><circle cx="244.0" cy="266.6" r="0.33"/><circle cx="256.8" cy="280.8" r="0.33"/><circle cx="243.0" cy="285.6" r="0.33"/><circle cx="248.4" cy="266.2" r="0.33"/><circle cx="249.0" cy="279.6" r="0.33"/><circle cx="234.4" cy="260.8" r="0.33"/><circle cx="257.3" cy="264.5" r="0.33"/><circle cx="237.6" cy="279.9" r="0.33"/><circle cx="224.6" cy="277.4" r="0.33"/><circle cx="223.3" cy="269.3" r="0.33"/><circle cx="216.5" cy="266.6" r="0.33"/><circle cx="251.8" cy="263.3" r="0.33"/><circle cx="237.4" cy="302.6" r="0.33"/><circle cx="243.0" cy="296.1" r="0.33"/><circle cx="227.4" cy="249.4" r="0.33"/><circle cx="261.8" cy="255.2" r="0.33"/><circle cx="258.0" cy="285.4" r="0.33"/><circle cx="226.7" cy="276.9" r="0.33"/><circle cx="238.6" cy="282.1" r="0.33"/><circle cx="234.7" cy="250.3" r="0.33"/><circle cx="247.1" cy="281.8" r="0.33"/><circle cx="241.8" cy="280.2" r="0.33"/><circle cx="235.4" cy="271.6" r="0.33"/><circle cx="247.1" cy="270.8" r="0.33"/><circle cx="262.7" cy="279.4" r="0.33"/><circle cx="256.3" cy="277.7" r="0.33"/><circle cx="237.3" cy="251.2" r="0.33"/><circle cx="264.7" cy="292.7" r="0.33"/><circle cx="243.4" cy="265.1" r="0.33"/><circle cx="248.6" cy="289.1" r="0.33"/><circle cx="240.0" cy="253.5" r="0.33"/><circle cx="235.7" cy="258.8" r="0.33"/><circle cx="234.6" cy="257.0" r="0.33"/><circle cx="240.1" cy="297.1" r="0.33"/><circle cx="245.5" cy="240.4" r="0.33"/><circle cx="227.9" cy="267.4" r="0.33"/><circle cx="229.6" cy="250.2" r="0.33"/><circle cx="243.6" cy="241.0" r="0.33"/><circle cx="254.4" cy="277.9" r="0.33"/><circle cx="234.0" cy="261.4" r="0.33"/><circle cx="243.7" cy="272.1" r="0.33"/><circle cx="210.0" cy="259.6" r="0.33"/><circle cx="247.9" cy="266.1" r="0.33"/><circle cx="231.5" cy="256.4" r="0.33"/><circle cx="229.4" cy="261.2" r="0.33"/><circle cx="268.4" cy="238.4" r="0.33"/><circle cx="263.2" cy="270.9" r="0.33"/><circle cx="245.8" cy="272.2" r="0.33"/><circle cx="246.7" cy="296.9" r="0.33"/><circle cx="248.1" cy="267.4" r="0.33"/><circle cx="241.8" cy="273.7" r="0.33"/><circle cx="226.7" cy="270.1" r="0.33"/><circle cx="238.2" cy="282.5" r="0.33"/><circle cx="238.7" cy="238.4" r="0.33"/><circle cx="245.1" cy="286.5" r="0.33"/><circle cx="220.0" cy="257.3" r="0.33"/><circle cx="253.4" cy="263.7" r="0.33"/><circle cx="229.9" cy="253.1" r="0.33"/><circle cx="241.0" cy="260.7" r="0.33"/><circle cx="247.1" cy="275.8" r="0.33"/><circle cx="248.7" cy="262.0" r="0.33"/><circle cx="236.0" cy="272.8" r="0.33"/><circle cx="242.0" cy="273.2" r="0.33"/><circle cx="234.5" cy="268.7" r="0.33"/><circle cx="231.8" cy="263.5" r="0.33"/><circle cx="250.6" cy="287.4" r="0.33"/><circle cx="239.1" cy="281.5" r="0.33"/><circle cx="246.9" cy="270.3" r="0.33"/><circle cx="247.1" cy="258.4" r="0.33"/><circle cx="250.6" cy="272.3" r="0.33"/><circle cx="202.5" cy="290.8" r="0.33"/><circle cx="260.4" cy="298.0" r="0.33"/><circle cx="230.0" cy="276.2" r="0.33"/><circle cx="240.8" cy="253.4" r="0.33"/><circle cx="259.1" cy="271.9" r="0.33"/><circle cx="225.8" cy="254.8" r="0.33"/><circle cx="250.7" cy="309.0" r="0.33"/><circle cx="253.8" cy="222.0" r="0.33"/><circle cx="224.2" cy="288.5" r="0.33"/><circle cx="237.2" cy="260.6" r="0.33"/><circle cx="249.9" cy="269.0" r="0.33"/><circle cx="247.1" cy="273.0" r="0.33"/><circle cx="236.6" cy="295.4" r="0.33"/><circle cx="243.1" cy="289.8" r="0.33"/><circle cx="250.6" cy="267.7" r="0.33"/><circle cx="243.5" cy="268.8" r="0.33"/><circle cx="218.3" cy="273.0" r="0.33"/><circle cx="238.1" cy="243.0" r="0.33"/><circle cx="230.4" cy="293.5" r="0.33"/><circle cx="243.0" cy="242.3" r="0.33"/><circle cx="247.4" cy="267.3" r="0.33"/><circle cx="252.0" cy="260.7" r="0.33"/><circle cx="235.2" cy="259.3" r="0.33"/><circle cx="243.6" cy="267.3" r="0.33"/><circle cx="232.3" cy="267.5" r="0.33"/><circle cx="236.6" cy="283.2" r="0.33"/><circle cx="220.9" cy="250.2" r="0.33"/><circle cx="236.7" cy="291.3" r="0.33"/><circle cx="239.7" cy="282.4" r="0.33"/><circle cx="248.0" cy="258.9" r="0.33"/><circle cx="254.1" cy="274.7" r="0.33"/><circle cx="237.6" cy="259.2" r="0.33"/><circle cx="234.0" cy="250.2" r="0.33"/><circle cx="235.5" cy="262.1" r="0.33"/><circle cx="249.3" cy="273.5" r="0.33"/><circle cx="239.3" cy="286.5" r="0.33"/><circle cx="256.8" cy="265.9" r="0.33"/><circle cx="236.1" cy="281.2" r="0.33"/><circle cx="209.4" cy="271.6" r="0.33"/><circle cx="260.6" cy="299.0" r="0.33"/><circle cx="242.0" cy="297.4" r="0.33"/><circle cx="280.9" cy="289.5" r="0.33"/><circle cx="220.0" cy="297.7" r="0.33"/><circle cx="250.2" cy="285.2" r="0.33"/><circle cx="236.4" cy="261.1" r="0.33"/><circle cx="248.0" cy="294.7" r="0.33"/><circle cx="250.5" cy="261.7" r="0.33"/><circle cx="251.7" cy="282.0" r="0.33"/><circle cx="248.7" cy="266.9" r="0.33"/><circle cx="229.9" cy="261.2" r="0.33"/><circle cx="233.6" cy="263.2" r="0.33"/><circle cx="214.9" cy="254.6" r="0.33"/><circle cx="246.2" cy="248.5" r="0.33"/><circle cx="226.0" cy="275.1" r="0.33"/><circle cx="266.8" cy="283.6" r="0.33"/><circle cx="231.1" cy="255.5" r="0.33"/><circle cx="230.3" cy="258.0" r="0.33"/><circle cx="238.2" cy="280.1" r="0.33"/><circle cx="224.7" cy="262.4" r="0.33"/><circle cx="238.7" cy="270.7" r="0.33"/><circle cx="228.2" cy="260.9" r="0.33"/><circle cx="224.0" cy="263.1" r="0.33"/><circle cx="247.0" cy="263.9" r="0.33"/><circle cx="207.9" cy="293.5" r="0.33"/><circle cx="236.2" cy="256.5" r="0.33"/><circle cx="221.5" cy="223.1" r="0.33"/><circle cx="228.7" cy="295.8" r="0.33"/><circle cx="280.6" cy="295.2" r="0.33"/><circle cx="233.3" cy="273.9" r="0.33"/><circle cx="244.4" cy="247.0" r="0.33"/><circle cx="259.1" cy="250.8" r="0.33"/><circle cx="239.7" cy="250.2" r="0.33"/><circle cx="246.4" cy="268.1" r="0.33"/><circle cx="248.5" cy="246.8" r="0.33"/><circle cx="252.5" cy="299.0" r="0.33"/><circle cx="229.5" cy="280.9" r="0.33"/><circle cx="244.5" cy="260.2" r="0.33"/><circle cx="247.0" cy="293.7" r="0.33"/><circle cx="259.2" cy="274.0" r="0.33"/><circle cx="238.7" cy="250.8" r="0.33"/><circle cx="253.5" cy="298.2" r="0.33"/><circle cx="247.0" cy="243.7" r="0.33"/><circle cx="212.9" cy="268.6" r="0.33"/><circle cx="240.8" cy="260.5" r="0.33"/><circle cx="240.3" cy="276.8" r="0.33"/><circle cx="254.2" cy="269.4" r="0.33"/><circle cx="249.0" cy="241.7" r="0.33"/><circle cx="250.2" cy="274.7" r="0.33"/><circle cx="231.1" cy="296.6" r="0.33"/><circle cx="214.1" cy="254.0" r="0.33"/><circle cx="282.2" cy="278.8" r="0.33"/><circle cx="254.5" cy="290.0" r="0.33"/><circle cx="249.5" cy="246.8" r="0.33"/><circle cx="256.1" cy="290.3" r="0.33"/><circle cx="240.5" cy="271.9" r="0.33"/><circle cx="240.6" cy="283.8" r="0.33"/><circle cx="231.8" cy="263.1" r="0.33"/><circle cx="221.6" cy="260.6" r="0.33"/><circle cx="247.5" cy="276.6" r="0.33"/><circle cx="231.1" cy="254.9" r="0.33"/><circle cx="248.3" cy="274.2" r="0.33"/><circle cx="254.7" cy="256.4" r="0.33"/><circle cx="239.9" cy="280.1" r="0.33"/><circle cx="260.4" cy="262.4" r="0.33"/><circle cx="235.5" cy="255.3" r="0.33"/><circle cx="242.9" cy="286.9" r="0.33"/><circle cx="259.0" cy="284.1" r="0.33"/><circle cx="226.8" cy="290.8" r="0.33"/><circle cx="234.1" cy="283.7" r="0.33"/><circle cx="212.3" cy="279.0" r="0.33"/><circle cx="238.6" cy="294.4" r="0.33"/><circle cx="251.1" cy="290.4" r="0.33"/><circle cx="248.1" cy="303.6" r="0.33"/><circle cx="247.7" cy="302.5" r="0.33"/><circle cx="230.3" cy="256.4" r="0.33"/><circle cx="250.7" cy="259.6" r="0.33"/><circle cx="233.4" cy="248.6" r="0.33"/><circle cx="238.5" cy="273.4" r="0.33"/><circle cx="235.6" cy="279.5" r="0.33"/><circle cx="218.9" cy="294.7" r="0.33"/><circle cx="245.6" cy="295.6" r="0.33"/><circle cx="233.9" cy="261.0" r="0.33"/><circle cx="238.1" cy="276.5" r="0.33"/><circle cx="246.7" cy="259.9" r="0.33"/><circle cx="234.7" cy="280.6" r="0.33"/><circle cx="242.0" cy="238.2" r="0.33"/><circle cx="225.1" cy="263.9" r="0.33"/><circle cx="270.3" cy="282.2" r="0.33"/><circle cx="254.8" cy="274.4" r="0.33"/><circle cx="234.8" cy="293.2" r="0.33"/><circle cx="231.9" cy="259.2" r="0.33"/><circle cx="257.4" cy="237.9" r="0.33"/><circle cx="260.3" cy="267.1" r="0.33"/><circle cx="231.7" cy="277.0" r="0.33"/><circle cx="232.7" cy="276.8" r="0.33"/><circle cx="227.1" cy="253.7" r="0.33"/><circle cx="271.9" cy="249.9" r="0.33"/><circle cx="254.0" cy="264.8" r="0.33"/><circle cx="243.0" cy="246.6" r="0.33"/><circle cx="209.9" cy="221.7" r="0.33"/><circle cx="257.1" cy="272.7" r="0.33"/><circle cx="232.4" cy="288.9" r="0.33"/><circle cx="266.6" cy="314.7" r="0.33"/><circle cx="250.4" cy="283.8" r="0.33"/><circle cx="254.2" cy="279.7" r="0.33"/><circle cx="239.3" cy="263.4" r="0.33"/><circle cx="258.1" cy="286.8" r="0.33"/><circle cx="220.9" cy="256.9" r="0.33"/><circle cx="252.1" cy="299.3" r="0.33"/><circle cx="229.5" cy="243.5" r="0.33"/><circle cx="256.5" cy="278.6" r="0.33"/><circle cx="267.2" cy="264.4" r="0.33"/><circle cx="262.2" cy="249.5" r="0.33"/><circle cx="254.0" cy="268.2" r="0.33"/><circle cx="225.7" cy="270.9" r="0.33"/><circle cx="265.1" cy="282.1" r="0.33"/><circle cx="243.9" cy="289.7" r="0.33"/><circle cx="258.5" cy="280.5" r="0.33"/><circle cx="247.4" cy="273.7" r="0.33"/><circle cx="231.5" cy="272.7" r="0.33"/><circle cx="239.3" cy="257.6" r="0.33"/><circle cx="239.5" cy="274.0" r="0.33"/><circle cx="250.9" cy="286.2" r="0.33"/><circle cx="227.0" cy="268.3" r="0.33"/><circle cx="243.2" cy="262.7" r="0.33"/><circle cx="243.4" cy="261.0" r="0.33"/><circle cx="255.3" cy="261.1" r="0.33"/><circle cx="232.4" cy="287.3" r="0.33"/><circle cx="251.3" cy="231.4" r="0.33"/><circle cx="240.9" cy="271.8" r="0.33"/><circle cx="263.7" cy="289.6" r="0.33"/><circle cx="231.0" cy="245.6" r="0.33"/><circle cx="256.3" cy="283.3" r="0.33"/><circle cx="248.3" cy="269.3" r="0.33"/><circle cx="246.4" cy="313.1" r="0.33"/><circle cx="218.4" cy="251.1" r="0.33"/><circle cx="255.9" cy="270.3" r="0.33"/><circle cx="252.5" cy="272.8" r="0.33"/><circle cx="271.3" cy="285.5" r="0.33"/><circle cx="241.2" cy="288.7" r="0.33"/><circle cx="217.5" cy="247.8" r="0.33"/><circle cx="254.5" cy="257.7" r="0.33"/><circle cx="215.5" cy="279.4" r="0.33"/><circle cx="236.9" cy="281.3" r="0.33"/><circle cx="236.9" cy="257.9" r="0.33"/><circle cx="237.8" cy="285.7" r="0.33"/><circle cx="231.4" cy="276.3" r="0.33"/><circle cx="232.6" cy="281.8" r="0.33"/><circle cx="267.5" cy="271.3" r="0.33"/><circle cx="258.5" cy="272.4" r="0.33"/><circle cx="228.5" cy="269.5" r="0.33"/><circle cx="245.6" cy="276.8" r="0.33"/><circle cx="238.3" cy="282.7" r="0.33"/><circle cx="233.6" cy="274.4" r="0.33"/><circle cx="235.2" cy="251.5" r="0.33"/><circle cx="254.8" cy="266.4" r="0.33"/><circle cx="243.3" cy="269.1" r="0.33"/><circle cx="207.9" cy="256.9" r="0.33"/><circle cx="236.9" cy="290.1" r="0.33"/><circle cx="238.6" cy="282.5" r="0.33"/><circle cx="224.5" cy="261.1" r="0.33"/><circle cx="242.6" cy="289.3" r="0.33"/><circle cx="220.7" cy="274.7" r="0.33"/><circle cx="247.9" cy="270.5" r="0.33"/><circle cx="246.5" cy="282.7" r="0.33"/><circle cx="239.8" cy="252.5" r="0.33"/><circle cx="245.4" cy="254.6" r="0.33"/><circle cx="246.4" cy="295.0" r="0.33"/><circle cx="280.8" cy="282.5" r="0.33"/><circle cx="242.8" cy="255.6" r="0.33"/><circle cx="242.5" cy="300.3" r="0.33"/><circle cx="238.1" cy="246.2" r="0.33"/><circle cx="264.9" cy="272.4" r="0.33"/><circle cx="260.7" cy="270.7" r="0.33"/><circle cx="211.2" cy="267.9" r="0.33"/><circle cx="239.4" cy="268.0" r="0.33"/><circle cx="256.8" cy="252.5" r="0.33"/><circle cx="240.6" cy="269.6" r="0.33"/><circle cx="234.9" cy="253.8" r="0.33"/><circle cx="211.9" cy="234.0" r="0.33"/><circle cx="245.0" cy="265.3" r="0.33"/><circle cx="238.4" cy="252.2" r="0.33"/><circle cx="236.5" cy="254.4" r="0.33"/><circle cx="231.6" cy="280.0" r="0.33"/><circle cx="253.4" cy="276.6" r="0.33"/><circle cx="239.3" cy="264.0" r="0.33"/><circle cx="266.6" cy="283.9" r="0.33"/><circle cx="227.9" cy="255.4" r="0.33"/><circle cx="248.6" cy="273.5" r="0.33"/><circle cx="244.2" cy="310.9" r="0.33"/><circle cx="211.5" cy="266.0" r="0.33"/><circle cx="250.9" cy="284.9" r="0.33"/><circle cx="216.7" cy="271.4" r="0.33"/><circle cx="268.0" cy="286.3" r="0.33"/><circle cx="239.2" cy="271.8" r="0.33"/><circle cx="233.5" cy="280.4" r="0.33"/><circle cx="217.3" cy="242.1" r="0.33"/></g>
<g fill="#444" opacity="0.6"><circle cx="231.3" cy="270.4" r="0.3"/><circle cx="237.4" cy="281.7" r="0.3"/><circle cx="259.1" cy="272.4" r="0.3"/><circle cx="254.3" cy="275.9" r="0.3"/><circle cx="249.9" cy="274.1" r="0.3"/><circle cx="251.3" cy="272.5" r="0.3"/><circle cx="232.7" cy="260.7" r="0.3"/><circle cx="239.0" cy="277.6" r="0.3"/><circle cx="245.1" cy="254.5" r="0.3"/><circle cx="233.3" cy="261.6" r="0.3"/><circle cx="251.0" cy="261.1" r="0.3"/><circle cx="239.2" cy="257.9" r="0.3"/><circle cx="249.7" cy="283.6" r="0.3"/><circle cx="236.8" cy="263.2" r="0.3"/><circle cx="261.5" cy="268.0" r="0.3"/><circle cx="238.9" cy="281.0" r="0.3"/><circle cx="235.6" cy="275.3" r="0.3"/><circle cx="218.4" cy="261.6" r="0.3"/><circle cx="249.4" cy="255.4" r="0.3"/><circle cx="238.1" cy="267.9" r="0.3"/><circle cx="242.2" cy="259.7" r="0.3"/><circle cx="245.8" cy="287.6" r="0.3"/><circle cx="258.2" cy="264.2" r="0.3"/><circle cx="232.1" cy="262.6" r="0.3"/><circle cx="243.6" cy="271.5" r="0.3"/><circle cx="255.6" cy="254.2" r="0.3"/><circle cx="243.6" cy="259.7" r="0.3"/><circle cx="242.4" cy="256.8" r="0.3"/><circle cx="252.1" cy="277.1" r="0.3"/><circle cx="239.4" cy="262.6" r="0.3"/><circle cx="239.6" cy="249.8" r="0.3"/><circle cx="254.0" cy="244.2" r="0.3"/><circle cx="237.4" cy="256.1" r="0.3"/><circle cx="254.9" cy="254.9" r="0.3"/><circle cx="247.6" cy="288.1" r="0.3"/><circle cx="239.9" cy="256.6" r="0.3"/><circle cx="244.8" cy="267.3" r="0.3"/><circle cx="237.0" cy="265.3" r="0.3"/><circle cx="245.3" cy="273.9" r="0.3"/><circle cx="254.1" cy="272.2" r="0.3"/><circle cx="246.3" cy="274.5" r="0.3"/><circle cx="247.1" cy="278.9" r="0.3"/><circle cx="245.8" cy="259.0" r="0.3"/><circle cx="248.3" cy="244.1" r="0.3"/><circle cx="232.5" cy="259.0" r="0.3"/><circle cx="237.9" cy="251.5" r="0.3"/><circle cx="226.1" cy="247.3" r="0.3"/><circle cx="241.9" cy="256.0" r="0.3"/><circle cx="265.9" cy="267.1" r="0.3"/><circle cx="239.8" cy="283.6" r="0.3"/><circle cx="249.4" cy="277.0" r="0.3"/><circle cx="239.4" cy="281.7" r="0.3"/><circle cx="251.7" cy="256.9" r="0.3"/><circle cx="235.3" cy="263.4" r="0.3"/><circle cx="256.3" cy="291.6" r="0.3"/><circle cx="265.7" cy="276.5" r="0.3"/><circle cx="240.9" cy="262.0" r="0.3"/><circle cx="246.1" cy="260.8" r="0.3"/><circle cx="239.3" cy="264.1" r="0.3"/><circle cx="251.0" cy="261.7" r="0.3"/><circle cx="245.0" cy="261.3" r="0.3"/><circle cx="241.1" cy="261.9" r="0.3"/><circle cx="255.8" cy="263.8" r="0.3"/><circle cx="256.1" cy="258.5" r="0.3"/><circle cx="247.4" cy="246.1" r="0.3"/><circle cx="240.4" cy="265.6" r="0.3"/><circle cx="238.2" cy="265.7" r="0.3"/><circle cx="235.6" cy="266.1" r="0.3"/><circle cx="238.4" cy="267.1" r="0.3"/><circle cx="237.5" cy="254.6" r="0.3"/><circle cx="240.7" cy="266.6" r="0.3"/><circle cx="233.7" cy="270.1" r="0.3"/><circle cx="253.8" cy="258.6" r="0.3"/><circle cx="251.3" cy="270.4" r="0.3"/><circle cx="242.7" cy="282.5" r="0.3"/><circle cx="261.2" cy="245.7" r="0.3"/><circle cx="259.4" cy="250.4" r="0.3"/><circle cx="249.0" cy="240.0" r="0.3"/><circle cx="254.3" cy="263.1" r="0.3"/><circle cx="229.8" cy="259.7" r="0.3"/><circle cx="231.5" cy="258.1" r="0.3"/><circle cx="246.6" cy="261.9" r="0.3"/><circle cx="221.5" cy="269.3" r="0.3"/><circle cx="248.4" cy="264.6" r="0.3"/><circle cx="250.9" cy="239.0" r="0.3"/><circle cx="246.3" cy="264.7" r="0.3"/><circle cx="244.7" cy="247.6" r="0.3"/><circle cx="232.3" cy="267.2" r="0.3"/><circle cx="237.3" cy="244.3" r="0.3"/><circle cx="247.2" cy="263.9" r="0.3"/><circle cx="239.6" cy="233.2" r="0.3"/><circle cx="244.7" cy="253.4" r="0.3"/><circle cx="243.3" cy="275.4" r="0.3"/><circle cx="259.1" cy="261.6" r="0.3"/><circle cx="248.6" cy="280.2" r="0.3"/><circle cx="235.9" cy="266.1" r="0.3"/><circle cx="235.7" cy="255.5" r="0.3"/><circle cx="254.2" cy="287.6" r="0.3"/><circle cx="248.3" cy="270.0" r="0.3"/><circle cx="248.5" cy="277.9" r="0.3"/><circle cx="242.0" cy="254.5" r="0.3"/><circle cx="250.9" cy="281.1" r="0.3"/><circle cx="248.3" cy="278.9" r="0.3"/><circle cx="251.9" cy="288.3" r="0.3"/><circle cx="249.2" cy="271.6" r="0.3"/><circle cx="245.1" cy="275.4" r="0.3"/><circle cx="236.1" cy="249.0" r="0.3"/><circle cx="241.7" cy="250.4" r="0.3"/><circle cx="259.9" cy="269.5" r="0.3"/><circle cx="247.1" cy="272.8" r="0.3"/><circle cx="228.4" cy="290.5" r="0.3"/><circle cx="241.3" cy="274.7" r="0.3"/><circle cx="259.2" cy="238.8" r="0.3"/><circle cx="242.0" cy="270.2" r="0.3"/><circle cx="240.7" cy="244.6" r="0.3"/><circle cx="242.3" cy="284.8" r="0.3"/><circle cx="241.3" cy="273.2" r="0.3"/><circle cx="228.7" cy="259.0" r="0.3"/><circle cx="229.7" cy="273.8" r="0.3"/><circle cx="254.3" cy="262.5" r="0.3"/><circle cx="242.8" cy="268.7" r="0.3"/><circle cx="246.9" cy="260.3" r="0.3"/><circle cx="256.9" cy="285.5" r="0.3"/><circle cx="260.6" cy="251.7" r="0.3"/><circle cx="241.3" cy="290.7" r="0.3"/><circle cx="257.5" cy="275.8" r="0.3"/><circle cx="248.3" cy="260.6" r="0.3"/><circle cx="257.0" cy="274.7" r="0.3"/><circle cx="249.6" cy="249.1" r="0.3"/><circle cx="251.4" cy="257.9" r="0.3"/><circle cx="242.5" cy="270.2" r="0.3"/><circle cx="250.7" cy="292.4" r="0.3"/><circle cx="250.0" cy="266.4" r="0.3"/><circle cx="243.5" cy="268.5" r="0.3"/><circle cx="244.6" cy="272.4" r="0.3"/><circle cx="254.9" cy="271.9" r="0.3"/><circle cx="232.1" cy="265.2" r="0.3"/><circle cx="239.8" cy="251.0" r="0.3"/><circle cx="246.7" cy="262.3" r="0.3"/><circle cx="246.2" cy="269.2" r="0.3"/><circle cx="245.2" cy="284.7" r="0.3"/><circle cx="250.7" cy="255.6" r="0.3"/><circle cx="251.2" cy="272.1" r="0.3"/><circle cx="236.2" cy="263.4" r="0.3"/><circle cx="239.4" cy="233.7" r="0.3"/><circle cx="234.3" cy="272.9" r="0.3"/><circle cx="245.6" cy="252.7" r="0.3"/><circle cx="260.6" cy="287.5" r="0.3"/><circle cx="245.7" cy="264.0" r="0.3"/><circle cx="240.5" cy="253.4" r="0.3"/><circle cx="249.6" cy="265.4" r="0.3"/><circle cx="256.4" cy="279.0" r="0.3"/><circle cx="245.2" cy="267.0" r="0.3"/><circle cx="254.1" cy="283.8" r="0.3"/><circle cx="231.7" cy="269.6" r="0.3"/><circle cx="239.3" cy="268.5" r="0.3"/><circle cx="251.5" cy="263.3" r="0.3"/><circle cx="251.2" cy="265.0" r="0.3"/><circle cx="235.4" cy="259.8" r="0.3"/><circle cx="233.3" cy="271.9" r="0.3"/><circle cx="244.3" cy="275.8" r="0.3"/><circle cx="248.7" cy="252.1" r="0.3"/><circle cx="237.4" cy="275.3" r="0.3"/><circle cx="237.5" cy="270.2" r="0.3"/><circle cx="247.7" cy="258.8" r="0.3"/><circle cx="256.1" cy="250.8" r="0.3"/><circle cx="246.1" cy="259.1" r="0.3"/><circle cx="219.0" cy="272.1" r="0.3"/><circle cx="245.2" cy="272.2" r="0.3"/><circle cx="240.0" cy="257.2" r="0.3"/><circle cx="238.5" cy="263.2" r="0.3"/><circle cx="249.5" cy="259.6" r="0.3"/><circle cx="258.2" cy="271.0" r="0.3"/><circle cx="242.1" cy="279.1" r="0.3"/><circle cx="225.0" cy="272.4" r="0.3"/><circle cx="235.4" cy="267.0" r="0.3"/><circle cx="254.0" cy="261.5" r="0.3"/><circle cx="248.0" cy="280.1" r="0.3"/><circle cx="234.3" cy="258.1" r="0.3"/><circle cx="255.0" cy="269.0" r="0.3"/><circle cx="232.6" cy="271.2" r="0.3"/><circle cx="250.1" cy="260.8" r="0.3"/><circle cx="241.3" cy="267.9" r="0.3"/><circle cx="243.1" cy="256.5" r="0.3"/><circle cx="244.8" cy="244.6" r="0.3"/><circle cx="252.3" cy="289.5" r="0.3"/><circle cx="235.0" cy="267.9" r="0.3"/><circle cx="221.4" cy="262.7" r="0.3"/><circle cx="234.6" cy="269.3" r="0.3"/><circle cx="247.5" cy="287.4" r="0.3"/><circle cx="236.2" cy="267.6" r="0.3"/><circle cx="248.6" cy="271.7" r="0.3"/><circle cx="245.3" cy="244.6" r="0.3"/><circle cx="261.5" cy="254.8" r="0.3"/><circle cx="231.3" cy="248.7" r="0.3"/><circle cx="233.1" cy="246.4" r="0.3"/><circle cx="243.2" cy="257.7" r="0.3"/><circle cx="243.6" cy="255.2" r="0.3"/><circle cx="253.9" cy="290.0" r="0.3"/><circle cx="254.7" cy="263.3" r="0.3"/><circle cx="241.8" cy="284.7" r="0.3"/><circle cx="223.9" cy="254.3" r="0.3"/><circle cx="252.7" cy="254.3" r="0.3"/><circle cx="257.9" cy="267.4" r="0.3"/><circle cx="269.9" cy="278.6" r="0.3"/><circle cx="246.5" cy="256.1" r="0.3"/><circle cx="254.9" cy="279.1" r="0.3"/><circle cx="233.4" cy="231.9" r="0.3"/><circle cx="239.4" cy="262.1" r="0.3"/><circle cx="242.2" cy="261.3" r="0.3"/><circle cx="248.6" cy="247.2" r="0.3"/><circle cx="239.6" cy="241.3" r="0.3"/><circle cx="221.5" cy="260.3" r="0.3"/><circle cx="234.0" cy="257.2" r="0.3"/><circle cx="240.6" cy="274.1" r="0.3"/><circle cx="249.3" cy="264.2" r="0.3"/><circle cx="242.9" cy="256.6" r="0.3"/><circle cx="229.9" cy="252.0" r="0.3"/><circle cx="235.9" cy="253.5" r="0.3"/><circle cx="244.3" cy="274.2" r="0.3"/><circle cx="254.2" cy="278.3" r="0.3"/><circle cx="227.1" cy="243.1" r="0.3"/><circle cx="242.8" cy="291.0" r="0.3"/><circle cx="248.2" cy="257.9" r="0.3"/><circle cx="253.5" cy="256.3" r="0.3"/><circle cx="256.5" cy="255.3" r="0.3"/><circle cx="243.5" cy="274.2" r="0.3"/><circle cx="233.6" cy="266.7" r="0.3"/><circle cx="262.2" cy="264.0" r="0.3"/><circle cx="233.6" cy="265.6" r="0.3"/><circle cx="240.7" cy="256.5" r="0.3"/><circle cx="252.6" cy="277.8" r="0.3"/><circle cx="248.1" cy="274.9" r="0.3"/><circle cx="247.1" cy="265.7" r="0.3"/><circle cx="241.6" cy="278.2" r="0.3"/><circle cx="253.6" cy="255.7" r="0.3"/><circle cx="238.7" cy="273.6" r="0.3"/><circle cx="249.5" cy="277.4" r="0.3"/><circle cx="247.6" cy="262.0" r="0.3"/><circle cx="234.8" cy="276.3" r="0.3"/><circle cx="239.6" cy="250.4" r="0.3"/><circle cx="223.9" cy="249.0" r="0.3"/><circle cx="247.5" cy="258.2" r="0.3"/><circle cx="212.2" cy="265.3" r="0.3"/><circle cx="238.1" cy="265.7" r="0.3"/><circle cx="242.9" cy="261.1" r="0.3"/><circle cx="254.5" cy="274.3" r="0.3"/><circle cx="248.6" cy="283.5" r="0.3"/><circle cx="239.4" cy="255.6" r="0.3"/><circle cx="239.4" cy="248.3" r="0.3"/><circle cx="237.1" cy="253.9" r="0.3"/><circle cx="241.1" cy="268.5" r="0.3"/><circle cx="224.8" cy="277.0" r="0.3"/><circle cx="245.3" cy="261.7" r="0.3"/><circle cx="251.4" cy="266.7" r="0.3"/><circle cx="236.8" cy="254.8" r="0.3"/><circle cx="253.3" cy="271.3" r="0.3"/><circle cx="228.5" cy="261.3" r="0.3"/><circle cx="237.4" cy="278.0" r="0.3"/><circle cx="234.0" cy="252.6" r="0.3"/><circle cx="258.6" cy="265.5" r="0.3"/><circle cx="247.0" cy="267.0" r="0.3"/><circle cx="242.6" cy="265.9" r="0.3"/><circle cx="253.4" cy="267.2" r="0.3"/><circle cx="240.5" cy="267.5" r="0.3"/><circle cx="257.5" cy="252.9" r="0.3"/><circle cx="233.2" cy="270.3" r="0.3"/><circle cx="245.1" cy="298.2" r="0.3"/><circle cx="251.6" cy="269.7" r="0.3"/><circle cx="255.2" cy="286.1" r="0.3"/><circle cx="235.1" cy="267.5" r="0.3"/><circle cx="234.9" cy="284.2" r="0.3"/><circle cx="250.6" cy="285.2" r="0.3"/><circle cx="237.3" cy="254.0" r="0.3"/><circle cx="241.3" cy="276.2" r="0.3"/><circle cx="238.0" cy="270.4" r="0.3"/><circle cx="234.8" cy="259.1" r="0.3"/><circle cx="245.8" cy="285.1" r="0.3"/><circle cx="236.1" cy="271.9" r="0.3"/><circle cx="247.7" cy="254.0" r="0.3"/><circle cx="237.3" cy="286.6" r="0.3"/><circle cx="257.6" cy="256.7" r="0.3"/><circle cx="237.3" cy="278.5" r="0.3"/><circle cx="240.2" cy="255.7" r="0.3"/><circle cx="230.7" cy="239.0" r="0.3"/><circle cx="231.9" cy="253.6" r="0.3"/><circle cx="235.1" cy="275.6" r="0.3"/><circle cx="253.1" cy="283.3" r="0.3"/><circle cx="218.3" cy="265.7" r="0.3"/><circle cx="242.2" cy="282.6" r="0.3"/><circle cx="253.2" cy="263.1" r="0.3"/><circle cx="241.5" cy="256.1" r="0.3"/><circle cx="237.6" cy="261.4" r="0.3"/><circle cx="230.2" cy="294.3" r="0.3"/><circle cx="258.7" cy="286.3" r="0.3"/><circle cx="256.4" cy="266.7" r="0.3"/><circle cx="243.9" cy="243.1" r="0.3"/><circle cx="238.7" cy="277.7" r="0.3"/><circle cx="233.9" cy="247.7" r="0.3"/><circle cx="238.4" cy="250.3" r="0.3"/><circle cx="250.3" cy="282.7" r="0.3"/><circle cx="232.2" cy="263.3" r="0.3"/><circle cx="248.4" cy="262.8" r="0.3"/><circle cx="241.9" cy="254.7" r="0.3"/><circle cx="231.0" cy="238.8" r="0.3"/><circle cx="247.6" cy="280.0" r="0.3"/><circle cx="233.4" cy="266.2" r="0.3"/><circle cx="254.9" cy="276.6" r="0.3"/><circle cx="250.0" cy="251.1" r="0.3"/><circle cx="247.5" cy="286.2" r="0.3"/><circle cx="241.0" cy="269.6" r="0.3"/><circle cx="233.8" cy="260.0" r="0.3"/><circle cx="216.1" cy="267.8" r="0.3"/><circle cx="220.7" cy="260.1" r="0.3"/><circle cx="241.0" cy="283.3" r="0.3"/><circle cx="251.9" cy="267.0" r="0.3"/><circle cx="233.5" cy="250.6" r="0.3"/><circle cx="244.4" cy="253.9" r="0.3"/><circle cx="246.6" cy="275.9" r="0.3"/><circle cx="242.0" cy="265.1" r="0.3"/><circle cx="239.5" cy="279.9" r="0.3"/><circle cx="251.2" cy="271.2" r="0.3"/><circle cx="250.9" cy="241.2" r="0.3"/><circle cx="246.6" cy="272.1" r="0.3"/><circle cx="247.8" cy="267.3" r="0.3"/><circle cx="241.3" cy="245.8" r="0.3"/><circle cx="247.9" cy="278.3" r="0.3"/><circle cx="242.4" cy="262.7" r="0.3"/><circle cx="243.6" cy="242.2" r="0.3"/><circle cx="253.4" cy="280.9" r="0.3"/><circle cx="238.1" cy="256.2" r="0.3"/><circle cx="246.3" cy="258.0" r="0.3"/><circle cx="237.3" cy="269.2" r="0.3"/><circle cx="232.2" cy="277.6" r="0.3"/><circle cx="231.1" cy="262.2" r="0.3"/><circle cx="249.8" cy="262.2" r="0.3"/><circle cx="251.6" cy="279.7" r="0.3"/><circle cx="265.4" cy="283.9" r="0.3"/><circle cx="242.8" cy="277.0" r="0.3"/><circle cx="232.8" cy="279.1" r="0.3"/><circle cx="251.8" cy="252.4" r="0.3"/><circle cx="251.1" cy="272.9" r="0.3"/><circle cx="239.6" cy="258.0" r="0.3"/><circle cx="251.1" cy="245.0" r="0.3"/><circle cx="249.0" cy="275.2" r="0.3"/><circle cx="252.3" cy="282.1" r="0.3"/><circle cx="258.3" cy="265.5" r="0.3"/><circle cx="262.0" cy="267.8" r="0.3"/><circle cx="231.8" cy="264.9" r="0.3"/><circle cx="246.8" cy="266.1" r="0.3"/></g>
<g fill="#444" opacity="0.65"><circle cx="251.0" cy="292.2" r="0.33"/><circle cx="237.6" cy="252.6" r="0.33"/><circle cx="256.5" cy="263.0" r="0.33"/><circle cx="263.9" cy="260.6" r="0.33"/><circle cx="258.3" cy="269.2" r="0.33"/><circle cx="242.5" cy="248.8" r="0.33"/><circle cx="253.9" cy="274.6" r="0.33"/><circle cx="256.1" cy="276.8" r="0.33"/><circle cx="252.2" cy="271.8" r="0.33"/><circle cx="256.5" cy="271.4" r="0.33"/><circle cx="253.7" cy="264.1" r="0.33"/><circle cx="254.8" cy="277.2" r="0.33"/><circle cx="254.6" cy="267.6" r="0.33"/><circle cx="253.4" cy="250.0" r="0.33"/><circle cx="247.1" cy="263.3" r="0.33"/><circle cx="256.9" cy="246.7" r="0.33"/><circle cx="241.9" cy="253.0" r="0.33"/><circle cx="245.7" cy="250.6" r="0.33"/><circle cx="249.5" cy="269.9" r="0.33"/><circle cx="245.5" cy="264.4" r="0.33"/><circle cx="244.1" cy="262.4" r="0.33"/><circle cx="247.9" cy="237.7" r="0.33"/><circle cx="254.1" cy="264.3" r="0.33"/><circle cx="253.5" cy="264.9" r="0.33"/><circle cx="250.2" cy="246.0" r="0.33"/><circle cx="254.7" cy="269.5" r="0.33"/><circle cx="255.7" cy="243.2" r="0.33"/><circle cx="243.2" cy="247.7" r="0.33"/><circle cx="248.2" cy="249.7" r="0.33"/><circle cx="249.5" cy="273.0" r="0.33"/><circle cx="259.2" cy="232.9" r="0.33"/><circle cx="260.0" cy="247.4" r="0.33"/><circle cx="258.8" cy="264.2" r="0.33"/><circle cx="260.2" cy="256.5" r="0.33"/><circle cx="247.0" cy="263.2" r="0.33"/><circle cx="254.4" cy="249.8" r="0.33"/><circle cx="255.5" cy="260.8" r="0.33"/><circle cx="254.1" cy="261.5" r="0.33"/><circle cx="260.2" cy="269.6" r="0.33"/><circle cx="249.4" cy="258.5" r="0.33"/><circle cx="234.9" cy="257.0" r="0.33"/><circle cx="245.5" cy="273.3" r="0.33"/><circle cx="242.8" cy="256.5" r="0.33"/><circle cx="260.5" cy="271.9" r="0.33"/><circle cx="257.4" cy="249.2" r="0.33"/><circle cx="258.9" cy="273.5" r="0.33"/><circle cx="246.3" cy="261.3" r="0.33"/><circle cx="242.1" cy="257.5" r="0.33"/><circle cx="257.9" cy="261.2" r="0.33"/><circle cx="248.1" cy="256.4" r="0.33"/><circle cx="266.1" cy="266.8" r="0.33"/><circle cx="253.6" cy="289.6" r="0.33"/><circle cx="249.5" cy="261.2" r="0.33"/><circle cx="247.2" cy="256.6" r="0.33"/><circle cx="251.1" cy="243.9" r="0.33"/><circle cx="251.7" cy="258.1" r="0.33"/><circle cx="266.1" cy="262.1" r="0.33"/><circle cx="257.9" cy="266.8" r="0.33"/><circle cx="257.3" cy="261.9" r="0.33"/><circle cx="238.4" cy="272.6" r="0.33"/><circle cx="253.7" cy="270.7" r="0.33"/><circle cx="252.7" cy="254.9" r="0.33"/><circle cx="242.7" cy="252.5" r="0.33"/><circle cx="254.3" cy="260.0" r="0.33"/><circle cx="245.5" cy="259.9" r="0.33"/><circle cx="252.4" cy="253.5" r="0.33"/><circle cx="249.5" cy="255.3" r="0.33"/><circle cx="236.1" cy="269.2" r="0.33"/><circle cx="256.6" cy="271.0" r="0.33"/><circle cx="258.5" cy="250.5" r="0.33"/><circle cx="257.9" cy="263.5" r="0.33"/><circle cx="256.8" cy="271.1" r="0.33"/><circle cx="253.4" cy="245.4" r="0.33"/><circle cx="261.9" cy="256.3" r="0.33"/><circle cx="245.6" cy="255.7" r="0.33"/><circle cx="246.8" cy="249.7" r="0.33"/><circle cx="261.9" cy="264.1" r="0.33"/><circle cx="250.3" cy="273.4" r="0.33"/><circle cx="254.8" cy="262.3" r="0.33"/><circle cx="258.9" cy="258.5" r="0.33"/><circle cx="253.2" cy="268.3" r="0.33"/><circle cx="235.8" cy="252.7" r="0.33"/><circle cx="260.7" cy="272.8" r="0.33"/><circle cx="241.8" cy="266.1" r="0.33"/><circle cx="247.3" cy="260.3" r="0.33"/><circle cx="263.0" cy="277.4" r="0.33"/><circle cx="268.5" cy="268.4" r="0.33"/><circle cx="257.7" cy="262.0" r="0.33"/><circle cx="242.2" cy="270.9" r="0.33"/><circle cx="240.4" cy="252.2" r="0.33"/><circle cx="247.2" cy="243.7" r="0.33"/><circle cx="267.1" cy="264.5" r="0.33"/><circle cx="257.3" cy="266.5" r="0.33"/><circle cx="254.8" cy="262.1" r="0.33"/><circle cx="254.8" cy="252.6" r="0.33"/><circle cx="255.4" cy="263.2" r="0.33"/><circle cx="253.5" cy="247.6" r="0.33"/><circle cx="254.0" cy="259.9" r="0.33"/><circle cx="259.3" cy="266.5" r="0.33"/><circle cx="256.0" cy="266.7" r="0.33"/><circle cx="261.5" cy="276.3" r="0.33"/><circle cx="257.1" cy="267.2" r="0.33"/><circle cx="245.9" cy="261.8" r="0.33"/><circle cx="262.3" cy="272.0" r="0.33"/><circle cx="246.3" cy="263.8" r="0.33"/><circle cx="251.3" cy="263.2" r="0.33"/><circle cx="248.0" cy="258.3" r="0.33"/><circle cx="253.0" cy="263.5" r="0.33"/><circle cx="256.1" cy="249.8" r="0.33"/><circle cx="249.8" cy="273.2" r="0.33"/><circle cx="255.4" cy="258.6" r="0.33"/><circle cx="249.6" cy="276.6" r="0.33"/><circle cx="250.5" cy="277.3" r="0.33"/><circle cx="253.9" cy="259.6" r="0.33"/><circle cx="255.2" cy="271.6" r="0.33"/><circle cx="245.8" cy="242.2" r="0.33"/><circle cx="239.5" cy="239.3" r="0.33"/><circle cx="259.4" cy="271.4" r="0.33"/><circle cx="254.2" cy="244.2" r="0.33"/><circle cx="274.4" cy="277.4" r="0.33"/><circle cx="244.0" cy="239.7" r="0.33"/><circle cx="251.5" cy="275.8" r="0.33"/><circle cx="264.3" cy="250.9" r="0.33"/><circle cx="236.8" cy="255.4" r="0.33"/><circle cx="265.5" cy="257.3" r="0.33"/><circle cx="235.0" cy="241.6" r="0.33"/><circle cx="260.4" cy="269.5" r="0.33"/><circle cx="248.9" cy="260.8" r="0.33"/><circle cx="252.0" cy="257.9" r="0.33"/><circle cx="246.9" cy="256.7" r="0.33"/><circle cx="254.1" cy="277.3" r="0.33"/><circle cx="259.7" cy="272.5" r="0.33"/><circle cx="255.6" cy="231.7" r="0.33"/><circle cx="256.4" cy="272.9" r="0.33"/><circle cx="249.0" cy="255.7" r="0.33"/><circle cx="253.3" cy="255.0" r="0.33"/><circle cx="246.1" cy="260.5" r="0.33"/><circle cx="253.3" cy="261.9" r="0.33"/><circle cx="258.9" cy="260.0" r="0.33"/><circle cx="262.3" cy="297.5" r="0.33"/><circle cx="250.3" cy="259.4" r="0.33"/><circle cx="249.1" cy="254.4" r="0.33"/><circle cx="243.3" cy="267.9" r="0.33"/><circle cx="255.0" cy="237.8" r="0.33"/><circle cx="249.7" cy="268.5" r="0.33"/><circle cx="250.6" cy="269.5" r="0.33"/><circle cx="248.0" cy="249.6" r="0.33"/><circle cx="249.3" cy="256.6" r="0.33"/><circle cx="246.0" cy="231.9" r="0.33"/><circle cx="261.1" cy="276.0" r="0.33"/><circle cx="254.9" cy="264.2" r="0.33"/><circle cx="250.8" cy="267.0" r="0.33"/><circle cx="246.7" cy="247.8" r="0.33"/><circle cx="235.5" cy="238.5" r="0.33"/><circle cx="256.5" cy="262.8" r="0.33"/><circle cx="261.1" cy="262.2" r="0.33"/><circle cx="251.9" cy="245.1" r="0.33"/><circle cx="238.2" cy="259.9" r="0.33"/><circle cx="252.2" cy="266.8" r="0.33"/><circle cx="251.3" cy="260.3" r="0.33"/><circle cx="254.2" cy="264.7" r="0.33"/><circle cx="255.5" cy="265.0" r="0.33"/><circle cx="249.2" cy="262.1" r="0.33"/><circle cx="238.6" cy="252.8" r="0.33"/><circle cx="252.9" cy="267.4" r="0.33"/><circle cx="242.1" cy="247.8" r="0.33"/><circle cx="255.8" cy="250.2" r="0.33"/><circle cx="237.6" cy="255.1" r="0.33"/><circle cx="235.1" cy="237.4" r="0.33"/><circle cx="257.3" cy="281.9" r="0.33"/><circle cx="244.6" cy="254.4" r="0.33"/><circle cx="260.8" cy="260.1" r="0.33"/><circle cx="257.8" cy="277.5" r="0.33"/><circle cx="244.9" cy="264.1" r="0.33"/><circle cx="257.0" cy="263.0" r="0.33"/><circle cx="241.3" cy="254.2" r="0.33"/><circle cx="264.2" cy="256.6" r="0.33"/><circle cx="255.6" cy="274.7" r="0.33"/><circle cx="240.9" cy="265.6" r="0.33"/><circle cx="247.0" cy="281.9" r="0.33"/><circle cx="246.8" cy="265.5" r="0.33"/><circle cx="247.4" cy="265.6" r="0.33"/><circle cx="255.0" cy="261.3" r="0.33"/><circle cx="251.8" cy="265.5" r="0.33"/><circle cx="249.2" cy="256.8" r="0.33"/><circle cx="260.6" cy="270.0" r="0.33"/><circle cx="239.9" cy="253.8" r="0.33"/><circle cx="249.0" cy="267.1" r="0.33"/><circle cx="250.0" cy="282.8" r="0.33"/><circle cx="253.8" cy="263.6" r="0.33"/><circle cx="255.6" cy="251.4" r="0.33"/><circle cx="257.0" cy="265.6" r="0.33"/><circle cx="257.1" cy="247.0" r="0.33"/><circle cx="264.5" cy="265.4" r="0.33"/><circle cx="259.0" cy="273.4" r="0.33"/><circle cx="250.5" cy="260.4" r="0.33"/><circle cx="257.0" cy="256.0" r="0.33"/><circle cx="265.7" cy="274.9" r="0.33"/><circle cx="255.1" cy="263.5" r="0.33"/><circle cx="244.9" cy="253.2" r="0.33"/><circle cx="258.2" cy="246.9" r="0.33"/><circle cx="254.7" cy="265.1" r="0.33"/><circle cx="244.3" cy="256.5" r="0.33"/><circle cx="257.1" cy="287.5" r="0.33"/><circle cx="261.1" cy="276.8" r="0.33"/><circle cx="270.5" cy="268.5" r="0.33"/><circle cx="259.9" cy="253.9" r="0.33"/><circle cx="254.4" cy="280.0" r="0.33"/><circle cx="258.5" cy="247.1" r="0.33"/><circle cx="261.8" cy="262.6" r="0.33"/><circle cx="262.2" cy="271.0" r="0.33"/><circle cx="263.0" cy="250.5" r="0.33"/><circle cx="258.3" cy="276.3" r="0.33"/><circle cx="253.6" cy="268.8" r="0.33"/><circle cx="245.6" cy="243.1" r="0.33"/><circle cx="253.1" cy="273.4" r="0.33"/><circle cx="243.3" cy="246.1" r="0.33"/><circle cx="250.3" cy="264.5" r="0.33"/><circle cx="257.7" cy="264.7" r="0.33"/><circle cx="252.3" cy="249.0" r="0.33"/><circle cx="246.1" cy="254.9" r="0.33"/><circle cx="252.1" cy="268.2" r="0.33"/><circle cx="261.0" cy="256.3" r="0.33"/><circle cx="264.7" cy="272.1" r="0.33"/><circle cx="242.3" cy="255.7" r="0.33"/><circle cx="248.5" cy="246.3" r="0.33"/><circle cx="257.8" cy="236.6" r="0.33"/><circle cx="248.4" cy="273.9" r="0.33"/><circle cx="251.2" cy="272.0" r="0.33"/><circle cx="251.1" cy="276.4" r="0.33"/><circle cx="252.4" cy="271.7" r="0.33"/><circle cx="253.7" cy="242.9" r="0.33"/><circle cx="240.3" cy="244.6" r="0.33"/><circle cx="249.7" cy="275.2" r="0.33"/><circle cx="256.5" cy="271.8" r="0.33"/><circle cx="266.8" cy="270.5" r="0.33"/><circle cx="256.3" cy="255.7" r="0.33"/><circle cx="252.0" cy="266.8" r="0.33"/><circle cx="263.4" cy="272.4" r="0.33"/><circle cx="254.1" cy="258.3" r="0.33"/><circle cx="259.6" cy="281.1" r="0.33"/><circle cx="263.4" cy="284.1" r="0.33"/><circle cx="252.2" cy="273.8" r="0.33"/><circle cx="257.9" cy="270.3" r="0.33"/><circle cx="249.8" cy="267.9" r="0.33"/><circle cx="251.8" cy="259.3" r="0.33"/><circle cx="239.7" cy="249.2" r="0.33"/><circle cx="253.4" cy="269.2" r="0.33"/><circle cx="256.1" cy="264.4" r="0.33"/><circle cx="250.0" cy="246.4" r="0.33"/></g>
<g fill="#aaa" opacity="0.7"><circle cx="230.8" cy="303.8" r="0.3"/><circle cx="216.3" cy="298.9" r="0.3"/><circle cx="230.2" cy="304.8" r="0.3"/><circle cx="209.0" cy="320.0" r="0.3"/><circle cx="210.5" cy="317.0" r="0.3"/><circle cx="229.1" cy="295.3" r="0.3"/><circle cx="232.2" cy="313.3" r="0.3"/><circle cx="230.6" cy="308.5" r="0.3"/><circle cx="224.9" cy="305.0" r="0.3"/><circle cx="218.1" cy="305.5" r="0.3"/><circle cx="232.5" cy="302.5" r="0.3"/><circle cx="238.0" cy="290.9" r="0.3"/><circle cx="222.6" cy="291.5" r="0.3"/><circle cx="208.3" cy="305.3" r="0.3"/><circle cx="219.7" cy="298.9" r="0.3"/><circle cx="213.9" cy="301.4" r="0.3"/><circle cx="209.4" cy="301.8" r="0.3"/><circle cx="218.1" cy="293.4" r="0.3"/><circle cx="225.6" cy="288.5" r="0.3"/><circle cx="225.7" cy="305.5" r="0.3"/><circle cx="226.5" cy="304.4" r="0.3"/><circle cx="228.7" cy="301.2" r="0.3"/><circle cx="213.7" cy="306.3" r="0.3"/><circle cx="216.0" cy="300.4" r="0.3"/><circle cx="223.3" cy="295.9" r="0.3"/><circle cx="230.2" cy="291.1" r="0.3"/><circle cx="232.1" cy="303.1" r="0.3"/><circle cx="235.8" cy="312.2" r="0.3"/><circle cx="227.7" cy="305.7" r="0.3"/><circle cx="223.3" cy="292.4" r="0.3"/><circle cx="217.9" cy="295.8" r="0.3"/><circle cx="216.7" cy="302.3" r="0.3"/><circle cx="216.0" cy="304.4" r="0.3"/><circle cx="220.3" cy="299.6" r="0.3"/><circle cx="225.4" cy="307.0" r="0.3"/><circle cx="211.7" cy="300.8" r="0.3"/><circle cx="245.6" cy="303.4" r="0.3"/><circle cx="226.0" cy="296.3" r="0.3"/><circle cx="230.1" cy="315.6" r="0.3"/><circle cx="227.0" cy="302.3" r="0.3"/><circle cx="222.6" cy="288.2" r="0.3"/><circle cx="227.1" cy="300.9" r="0.3"/><circle cx="225.5" cy="306.3" r="0.3"/><circle cx="224.0" cy="320.1" r="0.3"/><circle cx="229.7" cy="298.1" r="0.3"/><circle cx="227.2" cy="308.4" r="0.3"/><circle cx="222.6" cy="314.5" r="0.3"/><circle cx="219.4" cy="289.4" r="0.3"/><circle cx="213.8" cy="306.4" r="0.3"/><circle cx="214.5" cy="304.5" r="0.3"/><circle cx="210.3" cy="306.4" r="0.3"/><circle cx="220.3" cy="296.1" r="0.3"/><circle cx="217.9" cy="301.2" r="0.3"/><circle cx="229.6" cy="305.2" r="0.3"/><circle cx="220.7" cy="304.6" r="0.3"/><circle cx="229.4" cy="307.0" r="0.3"/><circle cx="236.3" cy="297.6" r="0.3"/><circle cx="228.9" cy="304.3" r="0.3"/><circle cx="217.3" cy="308.1" r="0.3"/><circle cx="229.0" cy="311.1" r="0.3"/><circle cx="226.2" cy="296.4" r="0.3"/><circle cx="223.7" cy="306.4" r="0.3"/><circle cx="235.6" cy="304.3" r="0.3"/><circle cx="223.5" cy="315.7" r="0.3"/><circle cx="222.8" cy="299.8" r="0.3"/><circle cx="224.6" cy="309.5" r="0.3"/><circle cx="223.5" cy="290.0" r="0.3"/><circle cx="219.1" cy="311.3" r="0.3"/><circle cx="216.5" cy="310.1" r="0.3"/><circle cx="223.7" cy="297.0" r="0.3"/></g>
<path d="M242.20,246.20 C244.20,246.07 246.43,246.08 248.50,246.70 C250.57,247.32 253.25,248.60 254.60,249.90 C255.95,251.20 256.30,252.85 256.60,254.50 C256.90,256.15 256.70,257.88 256.40,259.80 C256.10,261.72 255.52,263.93 254.80,266.00 C254.08,268.07 253.15,270.12 252.10,272.20 C251.05,274.28 249.73,276.43 248.50,278.50 C247.27,280.57 245.87,282.75 244.70,284.60 C243.53,286.45 242.53,287.95 241.50,289.60 C240.47,291.25 239.45,292.93 238.50,294.50 C237.55,296.07 236.63,297.75 235.80,299.00 C234.97,300.25 234.38,301.23 233.50,302.00 C232.62,302.77 231.53,303.40 230.50,303.60 C229.47,303.80 228.30,303.67 227.30,303.20 C226.30,302.73 225.12,301.83 224.50,300.80 C223.88,299.77 223.75,299.13 223.60,297.00 C223.45,294.87 223.50,291.10 223.60,288.00 C223.70,284.90 223.97,281.65 224.20,278.40 C224.43,275.15 224.68,271.60 225.00,268.50 C225.32,265.40 225.57,262.13 226.10,259.80 C226.63,257.47 227.38,255.95 228.20,254.50 C229.02,253.05 229.62,252.27 231.00,251.10 C232.38,249.93 234.63,248.32 236.50,247.50 C238.37,246.68 240.20,246.33 242.20,246.20 Z" stroke="none" fill="url(#ng)" stroke-width="0.8" />
<path d="M242.20,246.20 C244.20,246.07 246.43,246.08 248.50,246.70 C250.57,247.32 253.25,248.60 254.60,249.90 C255.95,251.20 256.30,252.85 256.60,254.50 C256.90,256.15 256.70,257.88 256.40,259.80 C256.10,261.72 255.52,263.93 254.80,266.00 C254.08,268.07 253.15,270.12 252.10,272.20 C251.05,274.28 249.73,276.43 248.50,278.50 C247.27,280.57 245.87,282.75 244.70,284.60 C243.53,286.45 242.53,287.95 241.50,289.60 C240.47,291.25 239.45,292.93 238.50,294.50 C237.55,296.07 236.63,297.75 235.80,299.00 C234.97,300.25 234.38,301.23 233.50,302.00 C232.62,302.77 231.53,303.40 230.50,303.60 C229.47,303.80 228.30,303.67 227.30,303.20 C226.30,302.73 225.12,301.83 224.50,300.80 C223.88,299.77 223.75,299.13 223.60,297.00 C223.45,294.87 223.50,291.10 223.60,288.00 C223.70,284.90 223.97,281.65 224.20,278.40 C224.43,275.15 224.68,271.60 225.00,268.50 C225.32,265.40 225.57,262.13 226.10,259.80 C226.63,257.47 227.38,255.95 228.20,254.50 C229.02,253.05 229.62,252.27 231.00,251.10 C232.38,249.93 234.63,248.32 236.50,247.50 C238.37,246.68 240.20,246.33 242.20,246.20 Z" stroke="none" fill="url(#ng2)" stroke-width="0.8" />
<path d="M242.46,245.06 C244.57,244.93 246.91,244.97 249.09,245.63 C251.28,246.29 254.12,247.66 255.55,249.03 C256.98,250.41 257.36,252.13 257.69,253.87 C258.02,255.61 257.83,257.43 257.53,259.45 C257.22,261.47 256.62,263.82 255.87,266.00 C255.13,268.18 254.15,270.33 253.05,272.53 C251.95,274.72 250.56,276.99 249.26,279.17 C247.96,281.34 246.48,283.64 245.25,285.59 C244.02,287.53 242.96,289.10 241.87,290.83 C240.78,292.56 239.71,294.33 238.70,295.98 C237.70,297.62 236.72,299.40 235.84,300.71 C234.96,302.03 234.34,303.06 233.41,303.87 C232.47,304.68 231.33,305.35 230.23,305.56 C229.14,305.77 227.91,305.64 226.84,305.15 C225.78,304.67 224.53,303.72 223.87,302.64 C223.21,301.56 223.07,300.92 222.91,298.68 C222.75,296.44 222.80,292.46 222.91,289.19 C223.01,285.92 223.29,282.49 223.53,279.06 C223.77,275.62 224.03,271.85 224.36,268.57 C224.68,265.29 224.94,261.83 225.49,259.37 C226.05,256.90 226.83,255.31 227.68,253.79 C228.53,252.27 229.15,251.47 230.61,250.24 C232.07,249.01 234.45,247.29 236.43,246.43 C238.41,245.57 240.35,245.19 242.46,245.06 Z" stroke="#f4f4f4" fill="none" stroke-width="0.5" />
<path d="M242.33,245.63 C244.38,245.50 246.67,245.53 248.80,246.16 C250.92,246.80 253.68,248.13 255.08,249.47 C256.47,250.80 256.83,252.49 257.15,254.19 C257.46,255.88 257.27,257.66 256.96,259.62 C256.66,261.59 256.07,263.88 255.34,266.00 C254.60,268.12 253.65,270.23 252.58,272.36 C251.50,274.50 250.15,276.71 248.88,278.83 C247.61,280.95 246.18,283.20 244.98,285.09 C243.78,286.99 242.75,288.53 241.69,290.22 C240.62,291.91 239.58,293.63 238.60,295.24 C237.62,296.85 236.68,298.57 235.82,299.86 C234.96,301.14 234.36,302.15 233.45,302.93 C232.55,303.72 231.43,304.37 230.37,304.58 C229.30,304.79 228.10,304.65 227.07,304.18 C226.04,303.70 224.82,302.78 224.19,301.72 C223.55,300.66 223.41,300.03 223.26,297.84 C223.10,295.65 223.15,291.78 223.25,288.60 C223.35,285.41 223.63,282.07 223.86,278.73 C224.10,275.39 224.36,271.73 224.68,268.54 C225.00,265.34 225.25,261.98 225.80,259.58 C226.34,257.18 227.11,255.63 227.94,254.15 C228.78,252.66 229.38,251.87 230.80,250.67 C232.22,249.47 234.54,247.80 236.47,246.96 C238.39,246.12 240.27,245.76 242.33,245.63 Z" stroke="#f4f4f4" fill="none" stroke-width="0.5" />
<path d="M242.20,246.20 C244.20,246.07 246.43,246.08 248.50,246.70 C250.57,247.32 253.25,248.60 254.60,249.90 C255.95,251.20 256.30,252.85 256.60,254.50 C256.90,256.15 256.70,257.88 256.40,259.80 C256.10,261.72 255.52,263.93 254.80,266.00 C254.08,268.07 253.15,270.12 252.10,272.20 C251.05,274.28 249.73,276.43 248.50,278.50 C247.27,280.57 245.87,282.75 244.70,284.60 C243.53,286.45 242.53,287.95 241.50,289.60 C240.47,291.25 239.45,292.93 238.50,294.50 C237.55,296.07 236.63,297.75 235.80,299.00 C234.97,300.25 234.38,301.23 233.50,302.00 C232.62,302.77 231.53,303.40 230.50,303.60 C229.47,303.80 228.30,303.67 227.30,303.20 C226.30,302.73 225.12,301.83 224.50,300.80 C223.88,299.77 223.75,299.13 223.60,297.00 C223.45,294.87 223.50,291.10 223.60,288.00 C223.70,284.90 223.97,281.65 224.20,278.40 C224.43,275.15 224.68,271.60 225.00,268.50 C225.32,265.40 225.57,262.13 226.10,259.80 C226.63,257.47 227.38,255.95 228.20,254.50 C229.02,253.05 229.62,252.27 231.00,251.10 C232.38,249.93 234.63,248.32 236.50,247.50 C238.37,246.68 240.20,246.33 242.20,246.20 Z" stroke="#111" fill="none" stroke-width="0.45" />
<path d="M241.87,247.67 C243.72,247.53 245.82,247.52 247.74,248.08 C249.65,248.64 252.13,249.81 253.38,251.02 C254.62,252.22 254.93,253.77 255.20,255.31 C255.46,256.85 255.25,258.47 254.95,260.25 C254.66,262.03 254.10,264.08 253.42,266.00 C252.74,267.92 251.86,269.84 250.88,271.78 C249.89,273.72 248.67,275.72 247.52,277.64 C246.37,279.57 245.07,281.60 243.99,283.33 C242.91,285.06 241.98,286.47 241.02,288.02 C240.06,289.56 239.12,291.14 238.24,292.60 C237.36,294.06 236.52,295.63 235.75,296.80 C234.98,297.96 234.43,298.88 233.62,299.60 C232.80,300.31 231.80,300.90 230.84,301.08 C229.89,301.26 228.81,301.13 227.89,300.69 C226.96,300.25 225.88,299.41 225.31,298.43 C224.74,297.46 224.62,296.83 224.48,294.84 C224.35,292.85 224.39,289.35 224.49,286.47 C224.59,283.59 224.84,280.56 225.06,277.55 C225.29,274.54 225.52,271.28 225.83,268.41 C226.13,265.54 226.38,262.52 226.88,260.36 C227.39,258.19 228.10,256.77 228.87,255.41 C229.64,254.05 230.22,253.30 231.50,252.21 C232.79,251.12 234.86,249.63 236.59,248.88 C238.32,248.12 240.01,247.80 241.87,247.67 Z" stroke="#111" fill="none" stroke-width="0.45" />
<path d="M241.53,249.13 C243.25,249.00 245.20,248.95 246.97,249.45 C248.74,249.95 251.01,251.02 252.15,252.13 C253.29,253.24 253.57,254.69 253.79,256.12 C254.02,257.55 253.79,259.05 253.50,260.70 C253.21,262.35 252.69,264.22 252.05,266.00 C251.40,267.78 250.57,269.56 249.65,271.35 C248.73,273.15 247.60,275.01 246.54,276.79 C245.48,278.57 244.28,280.46 243.28,282.06 C242.28,283.67 241.43,284.99 240.55,286.43 C239.66,287.87 238.79,289.34 237.98,290.70 C237.17,292.06 236.40,293.51 235.69,294.59 C234.98,295.67 234.49,296.53 233.73,297.19 C232.98,297.86 232.06,298.40 231.18,298.56 C230.31,298.72 229.31,298.59 228.47,298.18 C227.63,297.76 226.64,296.98 226.12,296.07 C225.60,295.15 225.49,294.53 225.36,292.68 C225.24,290.83 225.29,287.60 225.38,284.94 C225.48,282.28 225.72,279.48 225.93,276.71 C226.14,273.94 226.37,270.95 226.66,268.32 C226.95,265.69 227.19,262.92 227.67,260.92 C228.15,258.92 228.81,257.58 229.53,256.32 C230.26,255.05 230.82,254.32 232.01,253.31 C233.20,252.30 235.09,250.95 236.68,250.25 C238.27,249.56 239.82,249.27 241.53,249.13 Z" stroke="#111" fill="none" stroke-width="0.45" />
<path d="M241.20,250.60 C242.77,250.47 244.58,250.39 246.21,250.83 C247.83,251.27 249.90,252.23 250.93,253.25 C251.96,254.26 252.20,255.61 252.39,256.93 C252.58,258.25 252.34,259.64 252.05,261.15 C251.77,262.66 251.27,264.37 250.67,266.00 C250.06,267.63 249.28,269.28 248.43,270.93 C247.58,272.59 246.53,274.29 245.56,275.94 C244.58,277.58 243.48,279.31 242.57,280.79 C241.65,282.28 240.88,283.51 240.07,284.85 C239.26,286.18 238.46,287.55 237.72,288.80 C236.98,290.06 236.28,291.39 235.64,292.38 C234.99,293.38 234.54,294.18 233.85,294.79 C233.17,295.40 232.33,295.89 231.53,296.04 C230.73,296.19 229.82,296.06 229.06,295.67 C228.29,295.28 227.40,294.56 226.93,293.70 C226.46,292.84 226.36,292.23 226.25,290.52 C226.14,288.81 226.18,285.85 226.27,283.41 C226.36,280.97 226.59,278.39 226.79,275.86 C226.99,273.33 227.21,270.63 227.48,268.23 C227.76,265.83 228.00,263.31 228.45,261.47 C228.90,259.64 229.52,258.40 230.20,257.23 C230.88,256.05 231.42,255.35 232.51,254.42 C233.61,253.49 235.32,252.27 236.77,251.63 C238.22,250.99 239.63,250.73 241.20,250.60 Z" stroke="#111" fill="none" stroke-width="0.45" />
<path d="M240.87,252.07 C242.30,251.93 243.97,251.83 245.44,252.21 C246.91,252.59 248.78,253.44 249.70,254.36 C250.63,255.29 250.83,256.53 250.98,257.74 C251.13,258.95 250.89,260.22 250.60,261.60 C250.32,262.98 249.86,264.52 249.29,266.00 C248.73,267.48 247.99,268.99 247.20,270.51 C246.42,272.02 245.47,273.58 244.58,275.08 C243.68,276.58 242.69,278.16 241.86,279.52 C241.03,280.89 240.33,282.03 239.59,283.26 C238.86,284.49 238.12,285.75 237.46,286.90 C236.79,288.06 236.17,289.27 235.58,290.18 C235.00,291.09 234.59,291.83 233.97,292.39 C233.35,292.94 232.59,293.39 231.87,293.52 C231.15,293.65 230.33,293.52 229.64,293.16 C228.95,292.79 228.16,292.13 227.74,291.33 C227.32,290.53 227.22,289.94 227.13,288.36 C227.03,286.78 227.08,284.10 227.16,281.88 C227.25,279.66 227.46,277.31 227.66,275.02 C227.85,272.73 228.05,270.30 228.31,268.14 C228.57,265.98 228.81,263.70 229.23,262.03 C229.66,260.36 230.23,259.22 230.86,258.14 C231.49,257.05 232.02,256.38 233.02,255.53 C234.02,254.67 235.55,253.58 236.86,253.01 C238.17,252.43 239.44,252.20 240.87,252.07 Z" stroke="#111" fill="none" stroke-width="0.45" />
<path d="M240.53,253.53 C241.82,253.40 243.35,253.26 244.68,253.58 C246.00,253.91 247.66,254.65 248.48,255.48 C249.30,256.31 249.47,257.46 249.58,258.55 C249.69,259.64 249.43,260.81 249.16,262.05 C248.88,263.29 248.44,264.66 247.92,266.00 C247.39,267.34 246.70,268.71 245.98,270.08 C245.26,271.46 244.40,272.86 243.59,274.23 C242.79,275.59 241.89,277.01 241.15,278.25 C240.40,279.50 239.77,280.56 239.12,281.68 C238.46,282.81 237.79,283.96 237.19,285.00 C236.60,286.05 236.05,287.15 235.53,287.98 C235.01,288.81 234.64,289.48 234.09,289.99 C233.53,290.49 232.85,290.89 232.21,291.00 C231.57,291.11 230.84,290.98 230.23,290.64 C229.62,290.31 228.92,289.71 228.55,288.97 C228.18,288.22 228.09,287.64 228.01,286.20 C227.93,284.76 227.97,282.36 228.06,280.35 C228.14,278.35 228.34,276.22 228.52,274.17 C228.70,272.12 228.89,269.98 229.14,268.05 C229.39,266.12 229.62,264.09 230.02,262.59 C230.41,261.09 230.95,260.04 231.53,259.05 C232.11,258.05 232.62,257.41 233.52,256.63 C234.42,255.86 235.78,254.90 236.95,254.38 C238.12,253.87 239.25,253.67 240.53,253.53 Z" stroke="#111" fill="none" stroke-width="0.45" />
<path d="M240.20,255.00 C241.35,254.87 242.73,254.70 243.91,254.96 C245.09,255.23 246.54,255.86 247.26,256.60 C247.97,257.33 248.10,258.38 248.18,259.36 C248.25,260.34 247.98,261.39 247.71,262.50 C247.43,263.61 247.03,264.81 246.54,266.00 C246.05,267.19 245.41,268.43 244.76,269.66 C244.10,270.89 243.33,272.15 242.61,273.37 C241.89,274.59 241.10,275.87 240.43,276.99 C239.77,278.11 239.22,279.08 238.64,280.10 C238.05,281.12 237.46,282.16 236.93,283.11 C236.41,284.05 235.93,285.02 235.48,285.77 C235.02,286.52 234.69,287.13 234.20,287.58 C233.71,288.03 233.12,288.39 232.55,288.48 C231.99,288.57 231.34,288.45 230.81,288.13 C230.28,287.82 229.68,287.28 229.36,286.60 C229.04,285.92 228.96,285.34 228.89,284.04 C228.82,282.74 228.86,280.61 228.95,278.82 C229.03,277.03 229.21,275.13 229.38,273.32 C229.55,271.51 229.73,269.66 229.97,267.96 C230.20,266.26 230.43,264.48 230.80,263.15 C231.17,261.81 231.66,260.86 232.20,259.95 C232.73,259.05 233.22,258.44 234.02,257.74 C234.83,257.04 236.01,256.22 237.04,255.76 C238.07,255.31 239.06,255.14 240.20,255.00 Z" stroke="#111" fill="none" stroke-width="0.45" />
<path d="M239.87,256.47 C240.87,256.34 242.12,256.13 243.15,256.34 C244.17,256.55 245.43,257.07 246.03,257.71 C246.64,258.35 246.73,259.30 246.77,260.17 C246.81,261.04 246.53,261.98 246.26,262.95 C245.99,263.92 245.62,264.95 245.16,266.00 C244.71,267.05 244.12,268.15 243.53,269.24 C242.94,270.32 242.27,271.44 241.63,272.51 C241.00,273.59 240.30,274.72 239.72,275.72 C239.14,276.72 238.67,277.60 238.16,278.51 C237.65,279.43 237.13,280.36 236.67,281.21 C236.22,282.05 235.81,282.90 235.42,283.56 C235.03,284.23 234.74,284.78 234.32,285.18 C233.90,285.58 233.38,285.89 232.89,285.96 C232.41,286.03 231.85,285.91 231.40,285.62 C230.94,285.33 230.44,284.85 230.17,284.23 C229.90,283.61 229.83,283.04 229.77,281.88 C229.72,280.72 229.76,278.86 229.84,277.29 C229.92,275.72 230.09,274.05 230.25,272.48 C230.41,270.91 230.57,269.33 230.80,267.87 C231.02,266.41 231.24,264.87 231.58,263.71 C231.93,262.54 232.37,261.67 232.86,260.86 C233.35,260.05 233.82,259.47 234.53,258.85 C235.24,258.23 236.24,257.54 237.13,257.14 C238.02,256.74 238.87,256.60 239.87,256.47 Z" stroke="#111" fill="none" stroke-width="0.45" />
<path d="M239.54,257.94 C240.40,257.80 241.50,257.57 242.38,257.72 C243.26,257.86 244.31,258.28 244.81,258.83 C245.31,259.37 245.37,260.22 245.37,260.98 C245.37,261.74 245.07,262.56 244.81,263.40 C244.54,264.24 244.20,265.10 243.78,266.00 C243.37,266.90 242.83,267.87 242.31,268.82 C241.79,269.76 241.20,270.72 240.65,271.66 C240.10,272.60 239.51,273.57 239.01,274.45 C238.52,275.33 238.12,276.12 237.68,276.93 C237.25,277.74 236.80,278.57 236.41,279.31 C236.03,280.05 235.70,280.78 235.37,281.36 C235.04,281.94 234.79,282.43 234.44,282.78 C234.08,283.12 233.65,283.38 233.24,283.44 C232.83,283.50 232.36,283.37 231.98,283.11 C231.60,282.85 231.20,282.43 230.98,281.86 C230.76,281.30 230.70,280.74 230.66,279.72 C230.61,278.70 230.65,277.11 230.73,275.76 C230.80,274.41 230.96,272.96 231.11,271.63 C231.26,270.30 231.42,269.01 231.62,267.78 C231.83,266.55 232.05,265.27 232.36,264.26 C232.68,263.26 233.08,262.49 233.53,261.77 C233.97,261.05 234.42,260.50 235.03,259.96 C235.65,259.41 236.47,258.85 237.22,258.52 C237.97,258.18 238.68,258.07 239.54,257.94 Z" stroke="#111" fill="none" stroke-width="0.45" />
<path d="M239.17,259.57 C239.87,259.43 240.82,259.16 241.53,259.25 C242.24,259.33 243.07,259.63 243.45,260.07 C243.83,260.51 243.85,261.24 243.81,261.88 C243.77,262.52 243.46,263.21 243.20,263.90 C242.94,264.59 242.63,265.26 242.25,266.00 C241.88,266.74 241.40,267.56 240.95,268.35 C240.50,269.13 240.02,269.93 239.56,270.71 C239.11,271.49 238.62,272.30 238.22,273.04 C237.82,273.78 237.50,274.47 237.15,275.17 C236.80,275.86 236.43,276.57 236.12,277.20 C235.81,277.82 235.57,278.43 235.31,278.91 C235.05,279.39 234.85,279.82 234.57,280.11 C234.28,280.39 233.94,280.60 233.62,280.64 C233.29,280.68 232.92,280.56 232.63,280.32 C232.34,280.09 232.05,279.73 231.88,279.23 C231.71,278.73 231.66,278.18 231.64,277.32 C231.61,276.46 231.65,275.16 231.72,274.06 C231.79,272.96 231.93,271.76 232.07,270.69 C232.21,269.63 232.35,268.65 232.54,267.68 C232.74,266.71 232.95,265.70 233.23,264.88 C233.52,264.07 233.88,263.40 234.27,262.78 C234.66,262.17 235.08,261.64 235.59,261.19 C236.10,260.73 236.72,260.32 237.32,260.05 C237.92,259.78 238.46,259.70 239.17,259.57 Z" stroke="#111" fill="none" stroke-width="0.45" />
<path d="M242.03,246.93 C243.96,246.80 246.13,246.80 248.12,247.39 C250.11,247.98 252.69,249.21 253.99,250.46 C255.28,251.71 255.62,253.31 255.90,254.91 C256.18,256.50 255.97,258.18 255.68,260.03 C255.38,261.87 254.81,264.01 254.11,266.00 C253.41,267.99 252.50,269.98 251.49,271.99 C250.47,274.00 249.20,276.08 248.01,278.07 C246.82,280.07 245.47,282.18 244.34,283.97 C243.22,285.75 242.26,287.21 241.26,288.81 C240.27,290.41 239.28,292.04 238.37,293.55 C237.45,295.07 236.57,296.69 235.77,297.90 C234.97,299.11 234.41,300.06 233.56,300.80 C232.71,301.54 231.67,302.15 230.67,302.34 C229.68,302.53 228.55,302.40 227.59,301.94 C226.63,301.49 225.50,300.62 224.91,299.62 C224.31,298.61 224.18,297.98 224.04,295.92 C223.90,293.86 223.95,290.23 224.05,287.24 C224.14,284.24 224.40,281.11 224.63,277.98 C224.86,274.85 225.10,271.44 225.41,268.45 C225.72,265.47 225.97,262.33 226.49,260.08 C227.01,257.83 227.74,256.36 228.53,254.95 C229.33,253.55 229.92,252.78 231.25,251.65 C232.59,250.53 234.75,248.98 236.54,248.19 C238.34,247.40 240.10,247.07 242.03,246.93 Z" stroke="#fafafa" fill="none" stroke-width="0.4" opacity="0.9"/>
<path d="M241.70,248.40 C243.49,248.27 245.51,248.24 247.35,248.77 C249.20,249.29 251.57,250.42 252.76,251.57 C253.95,252.73 254.25,254.23 254.49,255.72 C254.74,257.20 254.52,258.76 254.23,260.48 C253.93,262.19 253.39,264.15 252.73,266.00 C252.07,267.85 251.21,269.70 250.26,271.57 C249.31,273.44 248.13,275.36 247.03,277.22 C245.92,279.07 244.67,281.03 243.63,282.70 C242.59,284.36 241.71,285.73 240.78,287.22 C239.86,288.72 238.95,290.24 238.11,291.65 C237.26,293.06 236.46,294.57 235.72,295.69 C234.98,296.82 234.46,297.71 233.68,298.40 C232.89,299.08 231.93,299.65 231.01,299.82 C230.10,299.99 229.06,299.86 228.18,299.43 C227.29,299.01 226.26,298.20 225.72,297.25 C225.17,296.30 225.05,295.68 224.92,293.76 C224.79,291.84 224.84,288.48 224.94,285.70 C225.03,282.93 225.28,280.02 225.50,277.13 C225.71,274.24 225.95,271.11 226.24,268.37 C226.54,265.62 226.78,262.72 227.27,260.64 C227.77,258.55 228.45,257.18 229.20,255.86 C229.95,254.55 230.52,253.81 231.76,252.76 C233.00,251.71 234.98,250.29 236.63,249.57 C238.29,248.84 239.91,248.53 241.70,248.40 Z" stroke="#fafafa" fill="none" stroke-width="0.4" opacity="0.9"/>
<path d="M241.37,249.87 C243.01,249.73 244.89,249.67 246.59,250.14 C248.28,250.61 250.46,251.63 251.54,252.69 C252.62,253.75 252.88,255.15 253.09,256.52 C253.30,257.90 253.07,259.35 252.78,260.93 C252.49,262.50 251.98,264.30 251.36,266.00 C250.73,267.70 249.93,269.42 249.04,271.14 C248.15,272.87 247.07,274.65 246.05,276.36 C245.03,278.08 243.88,279.88 242.92,281.43 C241.97,282.97 241.15,284.25 240.31,285.64 C239.46,287.03 238.62,288.44 237.85,289.75 C237.07,291.06 236.34,292.45 235.67,293.49 C234.99,294.53 234.51,295.36 233.79,295.99 C233.07,296.63 232.19,297.14 231.35,297.30 C230.52,297.46 229.57,297.33 228.76,296.92 C227.96,296.52 227.02,295.77 226.53,294.88 C226.03,294.00 225.92,293.38 225.81,291.60 C225.69,289.82 225.73,286.73 225.83,284.18 C225.92,281.62 226.15,278.93 226.36,276.28 C226.57,273.63 226.79,270.79 227.07,268.27 C227.35,265.76 227.59,263.11 228.06,261.19 C228.52,259.28 229.16,257.99 229.86,256.77 C230.57,255.55 231.12,254.84 232.26,253.87 C233.40,252.90 235.21,251.61 236.72,250.94 C238.24,250.28 239.72,250.00 241.37,249.87 Z" stroke="#fafafa" fill="none" stroke-width="0.4" opacity="0.9"/>
<path d="M237.38,265.30 C237.60,265.22 237.97,265.02 238.20,265.00 C238.43,264.98 238.66,265.03 238.75,265.18 C238.84,265.33 238.81,265.65 238.75,265.90 C238.69,266.15 238.50,266.43 238.37,266.68 C238.23,266.93 238.09,267.13 237.93,267.40 C237.76,267.67 237.55,268.00 237.38,268.30 C237.20,268.60 237.04,268.90 236.88,269.20 C236.72,269.50 236.57,269.80 236.44,270.10 C236.31,270.40 236.22,270.71 236.11,271.00 C236.00,271.29 235.87,271.59 235.78,271.84 C235.69,272.09 235.63,272.31 235.56,272.50 C235.49,272.69 235.42,272.87 235.34,272.98 C235.26,273.09 235.16,273.16 235.06,273.16 C234.97,273.16 234.86,273.09 234.79,272.98 C234.72,272.87 234.66,272.73 234.62,272.50 C234.59,272.27 234.57,271.95 234.57,271.60 C234.57,271.25 234.59,270.80 234.62,270.40 C234.66,270.00 234.73,269.55 234.79,269.20 C234.85,268.85 234.92,268.60 235.01,268.30 C235.10,268.00 235.21,267.69 235.34,267.40 C235.47,267.11 235.62,266.82 235.78,266.56 C235.94,266.30 236.16,266.02 236.33,265.84 C236.50,265.66 236.65,265.57 236.82,265.48 C237.00,265.39 237.15,265.38 237.38,265.30 Z" stroke="none" fill="#fff" stroke-width="0.8" />
<path d="M238,266 C241,262 244,259.5 247,258 C244.5,261 242,263.5 239,267 Z" stroke="none" fill="#ddd" stroke-width="0.8" />
<line x1="345.70" y1="237.30" x2="345.70" y2="341.40" stroke="#666" stroke-width="0.8" />
<line x1="341.50" y1="341.40" x2="345.70" y2="341.40" stroke="#666" stroke-width="0.8" />
<text x="337.80" y="344.05" font-size="7.4" text-anchor="end" textLength="4.6" lengthAdjust="spacingAndGlyphs" fill="#2b2b2b" stroke="#2b2b2b" stroke-width="0.16" >0</text>
<line x1="341.50" y1="289.35" x2="345.70" y2="289.35" stroke="#666" stroke-width="0.8" />
<text x="337.80" y="292.00" font-size="7.4" text-anchor="end" textLength="9.2" lengthAdjust="spacingAndGlyphs" fill="#2b2b2b" stroke="#2b2b2b" stroke-width="0.16" >50</text>
<line x1="341.50" y1="237.30" x2="345.70" y2="237.30" stroke="#666" stroke-width="0.8" />
<text x="337.80" y="239.95" font-size="7.4" text-anchor="end" textLength="12.5" lengthAdjust="spacingAndGlyphs" fill="#2b2b2b" stroke="#2b2b2b" stroke-width="0.16" >100</text>
<line x1="341.50" y1="341.40" x2="415.00" y2="341.40" stroke="#666" stroke-width="0.8" />
<line x1="365.50" y1="341.40" x2="365.50" y2="345.60" stroke="#666" stroke-width="0.8" />
<line x1="395.20" y1="341.40" x2="395.20" y2="345.60" stroke="#666" stroke-width="0.8" />
<text transform="translate(368.00,354.20) rotate(-45)" font-size="8.3" text-anchor="end" fill="#2b2b2b" stroke="#2b2b2b" stroke-width="0.16" >WT</text>
<text transform="translate(399.60,354.20) rotate(-45)" font-size="8.3" text-anchor="end" fill="#2b2b2b" stroke="#2b2b2b" stroke-width="0.16" >NICD OE</text>
<text transform="translate(317.60,289.30) rotate(-90)" font-size="7.9" text-anchor="middle" textLength="101.5" lengthAdjust="spacingAndGlyphs" fill="#2b2b2b" stroke="#2b2b2b" stroke-width="0.16" >IFNγ<tspan dy="-3" font-size="5.5">+</tspan><tspan dy="3"> TNF</tspan><tspan dy="-3" font-size="5.5">+</tspan><tspan dy="3"> CD8</tspan><tspan dy="-3" font-size="5.5">+</tspan><tspan dy="3"> T cell (%)</tspan></text>
<path d="M356.3,341.4 V311.2 H374.90000000000003 V341.4" stroke="#8a8a8a" fill="none" stroke-width="0.8" />
<line x1="365.50" y1="300.50" x2="365.50" y2="318.00" stroke="#111" stroke-width="0.6" />
<line x1="359.80" y1="300.50" x2="371.20" y2="300.50" stroke="#111" stroke-width="0.6" />
<circle cx="365.50" cy="293.60" r="1.65" fill="#111"/>
<circle cx="365.50" cy="303.00" r="1.65" fill="#111"/>
<circle cx="361.80" cy="314.20" r="1.65" fill="#111"/>
<circle cx="368.50" cy="314.20" r="1.65" fill="#111"/>
<circle cx="361.80" cy="320.30" r="1.65" fill="#111"/>
<circle cx="368.50" cy="320.30" r="1.65" fill="#111"/>
<path d="M385.3,341.4 V266.6 H404.40000000000003 V341.4" stroke="#f4a3a0" fill="none" stroke-width="0.8" />
<line x1="394.70" y1="240.60" x2="394.70" y2="290.00" stroke="#e8332e" stroke-width="0.6" />
<line x1="389.00" y1="240.60" x2="400.40" y2="240.60" stroke="#e8332e" stroke-width="0.6" />
<circle cx="391.50" cy="244.00" r="1.65" fill="#e8332e"/>
<circle cx="398.20" cy="244.00" r="1.65" fill="#e8332e"/>
<circle cx="394.70" cy="284.90" r="1.65" fill="#e8332e"/>
<circle cx="394.70" cy="291.90" r="1.65" fill="#e8332e"/>
<text x="361.00" y="231.40" font-size="7.4" textLength="33" lengthAdjust="spacingAndGlyphs" fill="#2b2b2b" stroke="#2b2b2b" stroke-width="0.16" ><tspan font-style="italic">P</tspan> = 0.004</text>
<line x1="363.70" y1="235.40" x2="394.70" y2="235.40" stroke="#555" stroke-width="0.8" />
<text x="458.60" y="191.60" font-size="12" fill="#000" stroke="#000" stroke-width="0.75" stroke-linejoin="round" font-weight="bold" >e</text>
<line x1="522.40" y1="196.40" x2="522.40" y2="393.70" stroke="#ececec" stroke-width="0.8" />
<line x1="579.00" y1="196.40" x2="579.00" y2="393.70" stroke="#ececec" stroke-width="0.8" />
<line x1="635.40" y1="196.40" x2="635.40" y2="393.70" stroke="#ececec" stroke-width="0.8" />
<line x1="486.40" y1="254.40" x2="672.40" y2="254.40" stroke="#ececec" stroke-width="0.8" />
<line x1="486.40" y1="319.60" x2="672.40" y2="319.60" stroke="#ececec" stroke-width="0.8" />
<line x1="486.40" y1="384.90" x2="672.40" y2="384.90" stroke="#ececec" stroke-width="0.8" />
<text x="579.30" y="192.20" font-size="8.1" text-anchor="middle" textLength="67.4" lengthAdjust="spacingAndGlyphs" fill="#2b2b2b" stroke="#2b2b2b" stroke-width="0.16" >NICD OE V.S. WT</text>
<path d="M522.40,292.60 C522.82,291.60 524.23,290.43 526.00,289.60 C527.77,288.77 530.67,288.22 533.00,287.60 C535.33,286.98 538.18,286.07 540.00,285.90 C541.82,285.73 543.37,285.98 543.90,286.60 C544.43,287.22 544.52,288.60 543.20,289.60 C541.88,290.60 538.53,291.67 536.00,292.60 C533.47,293.53 530.08,294.70 528.00,295.20 C525.92,295.70 524.43,296.03 523.50,295.60 C522.57,295.17 521.98,293.60 522.40,292.60 Z" stroke="none" fill="#c6c6c6" stroke-width="0.8" />
<path d="M526.60,303.00 C527.02,302.10 528.10,300.80 530.00,299.90 C531.90,299.00 535.42,298.28 538.00,297.60 C540.58,296.92 544.00,295.73 545.50,295.80 C547.00,295.87 547.92,296.98 547.00,298.00 C546.08,299.02 542.50,300.80 540.00,301.90 C537.50,303.00 534.08,304.03 532.00,304.60 C529.92,305.17 528.40,305.57 527.50,305.30 C526.60,305.03 526.18,303.90 526.60,303.00 Z" stroke="none" fill="#c6c6c6" stroke-width="0.8" />
<path d="M529.40,309.20 C529.55,306.33 530.73,307.30 532.00,306.60 C533.27,305.90 535.28,305.55 537.00,305.00 C538.72,304.45 541.08,303.43 542.30,303.30 C543.52,303.17 543.93,302.27 544.30,304.20 C544.67,306.13 544.33,311.63 544.50,314.90 C544.67,318.17 544.92,321.08 545.30,323.80 C545.68,326.52 546.43,327.73 546.80,331.20 C547.17,334.67 547.27,340.63 547.50,344.60 C547.73,348.57 547.83,351.78 548.20,355.00 C548.57,358.22 549.07,360.68 549.70,363.90 C550.33,367.12 550.75,371.45 552.00,374.30 C553.25,377.15 555.37,379.45 557.20,381.00 C559.03,382.55 561.03,383.02 563.00,383.60 C564.97,384.18 567.95,384.03 569.00,384.50 C570.05,384.97 570.80,386.02 569.30,386.40 C567.80,386.78 562.85,386.78 560.00,386.80 C557.15,386.82 553.67,387.58 552.20,386.50 C550.73,385.42 552.10,383.32 551.20,380.30 C550.30,377.28 548.53,372.37 546.80,368.40 C545.07,364.43 542.78,360.97 540.80,356.50 C538.82,352.03 536.52,347.05 534.90,341.60 C533.28,336.15 532.02,329.20 531.10,323.80 C530.18,318.40 529.25,312.07 529.40,309.20 Z" stroke="none" fill="#c6c6c6" stroke-width="0.8" />
<path d="M621.50,336.00 C623.08,336.33 623.58,336.50 623.50,338.00 C623.42,339.50 622.00,342.33 621.00,345.00 C620.00,347.67 618.75,350.83 617.50,354.00 C616.25,357.17 614.75,360.83 613.50,364.00 C612.25,367.17 611.08,370.00 610.00,373.00 C608.92,376.00 607.63,379.92 607.00,382.00 C606.37,384.08 606.87,384.70 606.20,385.50 C605.53,386.30 605.27,386.58 603.00,386.80 C600.73,387.02 594.30,387.23 592.60,386.80 C590.90,386.37 591.90,385.17 592.80,384.20 C593.70,383.23 596.38,383.03 598.00,381.00 C599.62,378.97 601.20,375.17 602.50,372.00 C603.80,368.83 604.80,365.50 605.80,362.00 C606.80,358.50 607.72,354.33 608.50,351.00 C609.28,347.67 609.58,344.50 610.50,342.00 C611.42,339.50 612.17,337.00 614.00,336.00 C615.83,335.00 619.92,335.67 621.50,336.00 Z" stroke="none" fill="#c8c8c8" stroke-width="0.8" />
<g fill="#d4d4d4" stroke="#bcbcbc" stroke-width="0.35"><circle cx="622.1" cy="333.5" r="1.15"/><circle cx="623.9" cy="340.3" r="1.15"/><circle cx="623.9" cy="338.1" r="1.15"/><circle cx="624.5" cy="304.7" r="1.15"/><circle cx="618.3" cy="345.9" r="1.15"/><circle cx="610.3" cy="344.3" r="1.15"/><circle cx="616.6" cy="327.1" r="1.15"/><circle cx="620.4" cy="330.3" r="1.15"/><circle cx="622.0" cy="303.4" r="1.15"/><circle cx="627.2" cy="318.6" r="1.15"/><circle cx="612.3" cy="339.2" r="1.15"/><circle cx="611.7" cy="340.4" r="1.15"/><circle cx="613.3" cy="333.3" r="1.15"/><circle cx="629.5" cy="302.3" r="1.15"/><circle cx="619.1" cy="315.2" r="1.15"/><circle cx="621.6" cy="347.4" r="1.15"/><circle cx="627.7" cy="319.1" r="1.15"/><circle cx="621.9" cy="330.1" r="1.15"/><circle cx="628.2" cy="314.9" r="1.15"/><circle cx="624.9" cy="336.2" r="1.15"/><circle cx="613.2" cy="344.0" r="1.15"/><circle cx="616.7" cy="322.4" r="1.15"/><circle cx="618.1" cy="311.9" r="1.15"/><circle cx="623.0" cy="319.6" r="1.15"/><circle cx="627.4" cy="302.5" r="1.15"/><circle cx="618.8" cy="321.3" r="1.15"/><circle cx="616.7" cy="341.2" r="1.15"/><circle cx="621.3" cy="320.3" r="1.15"/><circle cx="611.4" cy="336.8" r="1.15"/><circle cx="608.1" cy="347.1" r="1.15"/><circle cx="622.7" cy="338.5" r="1.15"/><circle cx="628.3" cy="303.9" r="1.15"/><circle cx="622.1" cy="322.6" r="1.15"/><circle cx="620.2" cy="303.1" r="1.15"/><circle cx="628.5" cy="313.7" r="1.15"/><circle cx="625.9" cy="314.5" r="1.15"/><circle cx="623.0" cy="345.4" r="1.15"/><circle cx="619.3" cy="321.6" r="1.15"/><circle cx="623.4" cy="329.5" r="1.15"/><circle cx="626.8" cy="309.8" r="1.15"/><circle cx="622.6" cy="340.4" r="1.15"/><circle cx="629.9" cy="305.3" r="1.15"/><circle cx="622.2" cy="308.8" r="1.15"/><circle cx="624.8" cy="333.0" r="1.15"/><circle cx="626.8" cy="321.4" r="1.15"/><circle cx="616.7" cy="330.3" r="1.15"/><circle cx="617.3" cy="320.3" r="1.15"/><circle cx="620.1" cy="308.0" r="1.15"/><circle cx="625.4" cy="336.2" r="1.15"/><circle cx="617.7" cy="312.7" r="1.15"/><circle cx="616.1" cy="347.5" r="1.15"/><circle cx="617.1" cy="324.4" r="1.15"/><circle cx="623.6" cy="332.3" r="1.15"/><circle cx="619.1" cy="326.5" r="1.15"/><circle cx="629.3" cy="306.6" r="1.15"/><circle cx="624.8" cy="305.0" r="1.15"/><circle cx="611.1" cy="342.0" r="1.15"/><circle cx="624.4" cy="337.8" r="1.15"/><circle cx="622.8" cy="333.8" r="1.15"/><circle cx="623.1" cy="309.7" r="1.15"/><circle cx="627.5" cy="312.0" r="1.15"/><circle cx="621.1" cy="319.3" r="1.15"/><circle cx="621.1" cy="348.0" r="1.15"/><circle cx="615.0" cy="347.1" r="1.15"/><circle cx="623.0" cy="327.9" r="1.15"/><circle cx="617.1" cy="327.5" r="1.15"/><circle cx="615.9" cy="324.3" r="1.15"/><circle cx="627.4" cy="323.1" r="1.15"/><circle cx="617.8" cy="346.5" r="1.15"/><circle cx="617.5" cy="328.4" r="1.15"/><circle cx="621.4" cy="308.6" r="1.15"/><circle cx="622.8" cy="339.8" r="1.15"/><circle cx="624.9" cy="322.4" r="1.15"/><circle cx="620.3" cy="339.5" r="1.15"/><circle cx="622.1" cy="335.2" r="1.15"/><circle cx="623.8" cy="322.5" r="1.15"/><circle cx="621.7" cy="318.7" r="1.15"/><circle cx="620.3" cy="339.3" r="1.15"/><circle cx="627.5" cy="319.3" r="1.15"/><circle cx="619.6" cy="334.6" r="1.15"/><circle cx="625.7" cy="303.3" r="1.15"/><circle cx="624.4" cy="317.2" r="1.15"/><circle cx="624.4" cy="326.8" r="1.15"/><circle cx="622.8" cy="334.5" r="1.15"/><circle cx="623.1" cy="321.8" r="1.15"/><circle cx="622.6" cy="338.1" r="1.15"/><circle cx="625.7" cy="321.9" r="1.15"/><circle cx="619.5" cy="343.1" r="1.15"/><circle cx="623.0" cy="347.1" r="1.15"/><circle cx="620.0" cy="329.2" r="1.15"/><circle cx="627.2" cy="312.9" r="1.15"/><circle cx="615.6" cy="345.7" r="1.15"/><circle cx="621.3" cy="336.2" r="1.15"/><circle cx="612.8" cy="337.8" r="1.15"/><circle cx="618.5" cy="339.7" r="1.15"/></g>
<g fill="#d0d0d0" stroke="#b8b8b8" stroke-width="0.35"><circle cx="634.2" cy="304.5" r="1.2"/><circle cx="628.5" cy="301.2" r="1.3"/><circle cx="626.4" cy="303.2" r="1.2"/><circle cx="624.5" cy="306" r="1.2"/></g>
<g fill="#c6c6c6"><circle cx="545.7" cy="328.3" r="1.0"/><circle cx="547.4" cy="332.1" r="1.0"/><circle cx="546.5" cy="327.3" r="1.0"/><circle cx="544.9" cy="310.6" r="1.0"/><circle cx="545.6" cy="320.4" r="1.0"/><circle cx="546.3" cy="329.0" r="1.0"/><circle cx="547.3" cy="327.1" r="1.0"/><circle cx="545.5" cy="312.9" r="1.0"/><circle cx="545.2" cy="306.9" r="1.0"/><circle cx="545.6" cy="311.4" r="1.0"/><circle cx="545.9" cy="311.8" r="1.0"/><circle cx="545.9" cy="318.3" r="1.0"/><circle cx="546.0" cy="326.4" r="1.0"/><circle cx="547.0" cy="336.6" r="1.0"/><circle cx="544.1" cy="305.0" r="1.0"/><circle cx="546.1" cy="319.4" r="1.0"/><circle cx="545.3" cy="309.0" r="1.0"/><circle cx="544.1" cy="306.3" r="1.0"/><circle cx="547.2" cy="326.5" r="1.0"/><circle cx="546.1" cy="316.9" r="1.0"/><circle cx="547.6" cy="325.3" r="1.0"/><circle cx="545.5" cy="319.7" r="1.0"/><circle cx="546.6" cy="333.5" r="1.0"/><circle cx="544.5" cy="310.0" r="1.0"/><circle cx="544.8" cy="325.9" r="1.0"/></g>
<line x1="486.40" y1="342.40" x2="672.40" y2="342.40" stroke="#555" stroke-width="0.8" stroke-dasharray="4,2.8"/>
<rect x="486.40" y="196.40" width="186.00" height="197.30" fill="none" stroke="#555" stroke-width="0.8" />
<line x1="482.40" y1="254.40" x2="486.40" y2="254.40" stroke="#555" stroke-width="0.8" />
<text x="478.80" y="257.05" font-size="7.4" text-anchor="end" textLength="4.6" lengthAdjust="spacingAndGlyphs" fill="#2b2b2b" stroke="#2b2b2b" stroke-width="0.16" >4</text>
<line x1="482.40" y1="319.60" x2="486.40" y2="319.60" stroke="#555" stroke-width="0.8" />
<text x="478.80" y="322.25" font-size="7.4" text-anchor="end" textLength="4.6" lengthAdjust="spacingAndGlyphs" fill="#2b2b2b" stroke="#2b2b2b" stroke-width="0.16" >2</text>
<line x1="482.40" y1="384.90" x2="486.40" y2="384.90" stroke="#555" stroke-width="0.8" />
<text x="478.80" y="387.55" font-size="7.4" text-anchor="end" textLength="4.6" lengthAdjust="spacingAndGlyphs" fill="#2b2b2b" stroke="#2b2b2b" stroke-width="0.16" >0</text>
<line x1="522.40" y1="393.70" x2="522.40" y2="397.70" stroke="#555" stroke-width="0.8" />
<text x="521.20" y="408.00" font-size="7.4" text-anchor="middle" textLength="9.4" lengthAdjust="spacingAndGlyphs" fill="#2b2b2b" stroke="#2b2b2b" stroke-width="0.16" >−2</text>
<line x1="579.00" y1="393.70" x2="579.00" y2="397.70" stroke="#555" stroke-width="0.8" />
<text x="579.00" y="408.00" font-size="7.4" text-anchor="middle" textLength="4.6" lengthAdjust="spacingAndGlyphs" fill="#2b2b2b" stroke="#2b2b2b" stroke-width="0.16" >0</text>
<line x1="635.40" y1="393.70" x2="635.40" y2="397.70" stroke="#555" stroke-width="0.8" />
<text x="635.40" y="408.00" font-size="7.4" text-anchor="middle" textLength="4.6" lengthAdjust="spacingAndGlyphs" fill="#2b2b2b" stroke="#2b2b2b" stroke-width="0.16" >2</text>
<text x="579.00" y="419.60" font-size="7.9" text-anchor="middle" textLength="15.8" lengthAdjust="spacingAndGlyphs" fill="#2b2b2b" stroke="#2b2b2b" stroke-width="0.16" >NES</text>
<text transform="translate(467.20,295.50) rotate(-90)" font-size="8.1" text-anchor="middle" textLength="58.6" lengthAdjust="spacingAndGlyphs" fill="#2b2b2b" stroke="#2b2b2b" stroke-width="0.16" >−log<tspan dy="1.8" font-size="5.5">10</tspan><tspan dy="-1.8">(</tspan><tspan font-style="italic">P</tspan> value)</text>
<defs><linearGradient id="sm1" x1="0" x2="1"><stop offset="0" stop-color="#ccc" stop-opacity="0.2"/><stop offset="0.3" stop-color="#bbb"/><stop offset="1" stop-color="#ccc" stop-opacity="0.3"/></linearGradient><linearGradient id="sm2" x1="0" x2="1"><stop offset="0" stop-color="#ccc" stop-opacity="0.3"/><stop offset="0.5" stop-color="#bbb"/><stop offset="1" stop-color="#ccc" stop-opacity="0.3"/></linearGradient></defs>
<rect x="503.00" y="220.30" width="41.00" height="2.60" fill="url(#sm1)" stroke="none" stroke-width="0.8" rx="1.3"/>
<rect x="610.00" y="220.30" width="40.00" height="2.60" fill="url(#sm2)" stroke="none" stroke-width="0.8" rx="1.3"/>
<text x="516.00" y="208.00" font-size="8.6" textLength="95" lengthAdjust="spacingAndGlyphs" fill="#e8333a" stroke="#e8333a" stroke-width="0.16" >Interferon-α/β signaling</text>
<text x="514.60" y="223.00" font-size="8.6" textLength="89.4" lengthAdjust="spacingAndGlyphs" fill="#e8333a" stroke="#e8333a" stroke-width="0.16" >Notch target direct up</text>
<text x="501.20" y="248.00" font-size="8.6" textLength="123.8" lengthAdjust="spacingAndGlyphs" fill="#e8333a" stroke="#e8333a" stroke-width="0.16" >Hallmark interferon-γ response</text>
<circle cx="629.60" cy="221.60" r="1.3" fill="#e8333a"/>
<circle cx="645.00" cy="221.60" r="1.5" fill="#e8333a"/>
<line x1="616.00" y1="208.00" x2="642.50" y2="221.20" stroke="#33486a" stroke-width="0.7" />
<line x1="608.00" y1="216.60" x2="628.50" y2="221.30" stroke="#33486a" stroke-width="0.7" />
<line x1="620.40" y1="236.40" x2="642.50" y2="222.60" stroke="#33486a" stroke-width="0.7" />
<path d="M644,221.9 L639.2,218.2 L638.4,220.6 Z" stroke="none" fill="#33486a" stroke-width="0.8" />
<path d="M630,221.6 L625.6,219.6 L625.2,222.2 Z" stroke="none" fill="#33486a" stroke-width="0.8" />
<path d="M644,222.0 L638.3,223.0 L639.7,225.2 Z" stroke="none" fill="#33486a" stroke-width="0.8" />
<text x="-0.60" y="437.60" font-size="12" fill="#000" stroke="#000" stroke-width="0.75" stroke-linejoin="round" font-weight="bold" >f</text>
<text x="131.50" y="448.80" font-size="8.3" text-anchor="middle" textLength="125" lengthAdjust="spacingAndGlyphs" fill="#2b2b2b" stroke="#2b2b2b" stroke-width="0.16" >Hallmark interferon-α response</text>
<line x1="31.00" y1="534.00" x2="34.40" y2="534.00" stroke="#777" stroke-width="0.7" />
<text x="26.60" y="536.65" font-size="7.4" text-anchor="end" textLength="4.6" lengthAdjust="spacingAndGlyphs" fill="#2b2b2b" stroke="#2b2b2b" stroke-width="0.16" >0</text>
<line x1="31.00" y1="519.68" x2="34.40" y2="519.68" stroke="#777" stroke-width="0.7" />
<text x="26.60" y="522.33" font-size="7.4" text-anchor="end" textLength="9.8" lengthAdjust="spacingAndGlyphs" fill="#2b2b2b" stroke="#2b2b2b" stroke-width="0.16" >0.1</text>
<line x1="31.00" y1="505.36" x2="34.40" y2="505.36" stroke="#777" stroke-width="0.7" />
<text x="26.60" y="508.01" font-size="7.4" text-anchor="end" textLength="11.1" lengthAdjust="spacingAndGlyphs" fill="#2b2b2b" stroke="#2b2b2b" stroke-width="0.16" >0.2</text>
<line x1="31.00" y1="491.04" x2="34.40" y2="491.04" stroke="#777" stroke-width="0.7" />
<text x="26.60" y="493.69" font-size="7.4" text-anchor="end" textLength="11.1" lengthAdjust="spacingAndGlyphs" fill="#2b2b2b" stroke="#2b2b2b" stroke-width="0.16" >0.3</text>
<line x1="31.00" y1="476.72" x2="34.40" y2="476.72" stroke="#777" stroke-width="0.7" />
<text x="26.60" y="479.37" font-size="7.4" text-anchor="end" textLength="11.1" lengthAdjust="spacingAndGlyphs" fill="#2b2b2b" stroke="#2b2b2b" stroke-width="0.16" >0.4</text>
<line x1="31.00" y1="462.40" x2="34.40" y2="462.40" stroke="#777" stroke-width="0.7" />
<text x="26.60" y="465.05" font-size="7.4" text-anchor="end" textLength="11.1" lengthAdjust="spacingAndGlyphs" fill="#2b2b2b" stroke="#2b2b2b" stroke-width="0.16" >0.5</text>
<text transform="translate(7.60,498.50) rotate(-90)" font-size="8.3" text-anchor="middle" textLength="93.3" lengthAdjust="spacingAndGlyphs" fill="#2b2b2b" stroke="#2b2b2b" stroke-width="0.16" >Enrichment score (ES)</text>
<polyline points="34.5,519.8 37,522.8 39.2,524.3 40.4,520.1 41.6,522.8 43.1,518.4 44.5,520.5 46.3,521.6 47.5,510.2 49.3,511.7 50.8,505.7 52.3,496.1 53.5,494 55.3,490.9 57.5,492.4 59,489.8 61.2,490.4 62,483.4 63.4,476.7 65.7,474.5 67.2,472.3 68.3,471.1 69.4,471.5 70.9,467.1 72.4,467.8 73.8,465.6 75.3,467.5 77.6,464.9 79,465.6 81.3,461.6 82.8,462.2 85,460.2 88,458.5 95,461.6 100,463.6 104,466 109,468.6 120,475.5 130,482 140,488.5 150,495.5 160,502.5 170,510 175,516.5 177,516 184,522 185.5,520.8 187,521 194,526 197,520 205,526 206,523.5 219,533.6" fill="none" stroke="#6cc04a" stroke-width="0.8" stroke-linejoin="round"/>
<text x="188.00" y="469.40" font-size="7.9" textLength="31" lengthAdjust="spacingAndGlyphs" fill="#2b2b2b" stroke="#2b2b2b" stroke-width="0.16" >NES: 2.1</text>
<text x="188.40" y="481.20" font-size="7.9" textLength="27.2" lengthAdjust="spacingAndGlyphs" fill="#2b2b2b" stroke="#2b2b2b" stroke-width="0.16" ><tspan font-style="italic">P</tspan> = 0.0</text>
<line x1="34.40" y1="534.00" x2="229.40" y2="534.00" stroke="#333" stroke-width="1.5" />
<line x1="34.40" y1="537.40" x2="229.40" y2="537.40" stroke="#666" stroke-width="0.7" />
<path d="M34.4,565 V454.6 H229.4 V565" stroke="#777" fill="none" stroke-width="0.8" />
<line x1="39.20" y1="538.60" x2="39.20" y2="564.80" stroke="#5a5a5a" stroke-width="0.7" />
<line x1="42.30" y1="538.60" x2="42.30" y2="564.80" stroke="#4a4a4a" stroke-width="0.7" />
<line x1="46.90" y1="538.60" x2="46.90" y2="564.80" stroke="#111" stroke-width="0.7" />
<line x1="50.40" y1="538.60" x2="50.40" y2="564.80" stroke="#111" stroke-width="0.7" />
<line x1="52.00" y1="538.60" x2="52.00" y2="564.80" stroke="#2a2a2a" stroke-width="0.7" />
<line x1="53.50" y1="538.60" x2="53.50" y2="564.80" stroke="#4a4a4a" stroke-width="0.7" />
<line x1="54.50" y1="538.60" x2="54.50" y2="564.80" stroke="#3c3c3c" stroke-width="0.7" />
<line x1="55.50" y1="538.60" x2="55.50" y2="564.80" stroke="#5a5a5a" stroke-width="0.7" />
<line x1="57.60" y1="538.60" x2="57.60" y2="564.80" stroke="#8a8a8a" stroke-width="0.7" />
<line x1="59.10" y1="538.60" x2="59.10" y2="564.80" stroke="#6a6a6a" stroke-width="0.7" />
<line x1="61.70" y1="538.60" x2="61.70" y2="564.80" stroke="#111" stroke-width="0.7" />
<line x1="62.40" y1="538.60" x2="62.40" y2="564.80" stroke="#1e1e1e" stroke-width="0.7" />
<line x1="63.20" y1="538.60" x2="63.20" y2="564.80" stroke="#333" stroke-width="0.7" />
<line x1="65.80" y1="538.60" x2="65.80" y2="564.80" stroke="#1e1e1e" stroke-width="0.7" />
<line x1="67.30" y1="538.60" x2="67.30" y2="564.80" stroke="#5a5a5a" stroke-width="0.7" />
<line x1="69.90" y1="538.60" x2="69.90" y2="564.80" stroke="#5a5a5a" stroke-width="0.7" />
<line x1="71.90" y1="538.60" x2="71.90" y2="564.80" stroke="#7a7a7a" stroke-width="0.7" />
<line x1="73.40" y1="538.60" x2="73.40" y2="564.80" stroke="#6a6a6a" stroke-width="0.7" />
<line x1="77.50" y1="538.60" x2="77.50" y2="564.80" stroke="#1e1e1e" stroke-width="0.7" />
<line x1="80.60" y1="538.60" x2="80.60" y2="564.80" stroke="#111" stroke-width="0.7" />
<line x1="83.10" y1="538.60" x2="83.10" y2="564.80" stroke="#3c3c3c" stroke-width="0.7" />
<line x1="84.20" y1="538.60" x2="84.20" y2="564.80" stroke="#333" stroke-width="0.7" />
<line x1="85.20" y1="538.60" x2="85.20" y2="564.80" stroke="#2a2a2a" stroke-width="0.7" />
<line x1="86.20" y1="538.60" x2="86.20" y2="564.80" stroke="#333" stroke-width="0.7" />
<line x1="87.20" y1="538.60" x2="87.20" y2="564.80" stroke="#4a4a4a" stroke-width="0.7" />
<line x1="88.20" y1="538.60" x2="88.20" y2="564.80" stroke="#6a6a6a" stroke-width="0.7" />
<line x1="89.80" y1="538.60" x2="89.80" y2="564.80" stroke="#7a7a7a" stroke-width="0.7" />
<line x1="91.30" y1="538.60" x2="91.30" y2="564.80" stroke="#5a5a5a" stroke-width="0.7" />
<line x1="93.40" y1="538.60" x2="93.40" y2="564.80" stroke="#7a7a7a" stroke-width="0.7" />
<line x1="95.40" y1="538.60" x2="95.40" y2="564.80" stroke="#5a5a5a" stroke-width="0.7" />
<line x1="95.80" y1="538.60" x2="95.80" y2="564.80" stroke="#8a8a8a" stroke-width="0.7" />
<line x1="97.60" y1="538.60" x2="97.60" y2="564.80" stroke="#6a6a6a" stroke-width="0.7" />
<line x1="99.60" y1="538.60" x2="99.60" y2="564.80" stroke="#3c3c3c" stroke-width="0.7" />
<line x1="103.70" y1="538.60" x2="103.70" y2="564.80" stroke="#4a4a4a" stroke-width="0.7" />
<line x1="104.20" y1="538.60" x2="104.20" y2="564.80" stroke="#6a6a6a" stroke-width="0.7" />
<line x1="108.10" y1="538.60" x2="108.10" y2="564.80" stroke="#111" stroke-width="0.7" />
<line x1="110.30" y1="538.60" x2="110.30" y2="564.80" stroke="#5a5a5a" stroke-width="0.7" />
<line x1="114.40" y1="538.60" x2="114.40" y2="564.80" stroke="#7a7a7a" stroke-width="0.7" />
<line x1="116.00" y1="538.60" x2="116.00" y2="564.80" stroke="#6a6a6a" stroke-width="0.7" />
<line x1="118.00" y1="538.60" x2="118.00" y2="564.80" stroke="#4a4a4a" stroke-width="0.7" />
<line x1="119.00" y1="538.60" x2="119.00" y2="564.80" stroke="#1e1e1e" stroke-width="0.7" />
<line x1="124.60" y1="538.60" x2="124.60" y2="564.80" stroke="#4a4a4a" stroke-width="0.7" />
<line x1="125.70" y1="538.60" x2="125.70" y2="564.80" stroke="#6a6a6a" stroke-width="0.7" />
<line x1="127.50" y1="538.60" x2="127.50" y2="564.80" stroke="#7a7a7a" stroke-width="0.7" />
<line x1="137.40" y1="538.60" x2="137.40" y2="564.80" stroke="#7a7a7a" stroke-width="0.7" />
<line x1="140.50" y1="538.60" x2="140.50" y2="564.80" stroke="#3c3c3c" stroke-width="0.7" />
<line x1="150.70" y1="538.60" x2="150.70" y2="564.80" stroke="#5a5a5a" stroke-width="0.7" />
<line x1="175.50" y1="538.60" x2="175.50" y2="564.80" stroke="#3c3c3c" stroke-width="0.7" />
<line x1="184.50" y1="538.60" x2="184.50" y2="564.80" stroke="#333" stroke-width="0.7" />
<line x1="187.10" y1="538.60" x2="187.10" y2="564.80" stroke="#8a8a8a" stroke-width="0.7" />
<line x1="194.50" y1="538.60" x2="194.50" y2="564.80" stroke="#2a2a2a" stroke-width="0.7" />
<line x1="196.60" y1="538.60" x2="196.60" y2="564.80" stroke="#4a4a4a" stroke-width="0.7" />
<line x1="205.70" y1="538.60" x2="205.70" y2="564.80" stroke="#3c3c3c" stroke-width="0.7" />
<rect x="34.30" y="564.80" width="5.45" height="7.40" fill="#e8393f" stroke="none" stroke-width="0.8" />
<rect x="39.70" y="564.80" width="26.35" height="7.40" fill="#ed5658" stroke="none" stroke-width="0.8" />
<rect x="66.00" y="564.80" width="12.85" height="7.40" fill="#f06e7c" stroke="none" stroke-width="0.8" />
<rect x="78.80" y="564.80" width="20.15" height="7.40" fill="#f28a8a" stroke="none" stroke-width="0.8" />
<rect x="98.90" y="564.80" width="24.75" height="7.40" fill="#f6bdd9" stroke="none" stroke-width="0.8" />
<rect x="123.60" y="564.80" width="28.85" height="7.40" fill="#d7d6ee" stroke="none" stroke-width="0.8" />
<rect x="152.40" y="564.80" width="20.45" height="7.40" fill="#c3bde2" stroke="none" stroke-width="0.8" />
<rect x="172.80" y="564.80" width="11.45" height="7.40" fill="#7f80c4" stroke="none" stroke-width="0.8" />
<rect x="184.20" y="564.80" width="25.85" height="7.40" fill="#6a62b2" stroke="none" stroke-width="0.8" />
<rect x="210.00" y="564.80" width="6.75" height="7.40" fill="#4c4aa8" stroke="none" stroke-width="0.8" />
<rect x="216.70" y="564.80" width="3.15" height="7.40" fill="#5b3c9c" stroke="none" stroke-width="0.8" />
<rect x="219.80" y="564.80" width="9.65" height="7.40" fill="#2f329c" stroke="none" stroke-width="0.8" />
<text x="35.60" y="583.00" font-size="8.3" textLength="34.4" lengthAdjust="spacingAndGlyphs" fill="#e8333a" stroke="#e8333a" stroke-width="0.16" >NICD OE</text>
<text x="207.40" y="583.00" font-size="8.3" textLength="11.8" lengthAdjust="spacingAndGlyphs" fill="#3a3a9a" stroke="#3a3a9a" stroke-width="0.16" >WT</text>
<text x="244.60" y="437.80" font-size="12" fill="#000" stroke="#000" stroke-width="0.75" stroke-linejoin="round" font-weight="bold" >g</text>
<g shape-rendering="crispEdges">
<rect x="261.60" y="453.00" width="7.09" height="14.80" fill="#9a88c8"/>
<rect x="268.39" y="453.00" width="7.09" height="14.80" fill="#9a88c8"/>
<rect x="275.19" y="453.00" width="7.09" height="14.80" fill="#b0a0d0"/>
<rect x="281.98" y="453.00" width="7.09" height="14.80" fill="#7a68b8"/>
<rect x="288.77" y="453.00" width="7.09" height="14.80" fill="#7060b0"/>
<rect x="295.57" y="453.00" width="7.09" height="14.80" fill="#8070b8"/>
<rect x="302.36" y="453.00" width="7.09" height="14.80" fill="#b0a0d0"/>
<rect x="309.15" y="453.00" width="7.09" height="14.80" fill="#9888c4"/>
<rect x="315.95" y="453.00" width="7.09" height="14.80" fill="#8f80c0"/>
<rect x="322.74" y="453.00" width="7.09" height="14.80" fill="#9080c0"/>
<rect x="329.53" y="453.00" width="7.09" height="14.80" fill="#f5e8e8"/>
<rect x="336.33" y="453.00" width="7.09" height="14.80" fill="#e0d8ec"/>
<rect x="343.12" y="453.00" width="7.09" height="14.80" fill="#e0d8ec"/>
<rect x="349.91" y="453.00" width="7.09" height="14.80" fill="#c8b8dc"/>
<rect x="356.71" y="453.00" width="7.09" height="14.80" fill="#dcd0e8"/>
<rect x="363.50" y="453.00" width="7.09" height="14.80" fill="#d0c0e0"/>
<rect x="370.29" y="453.00" width="7.09" height="14.80" fill="#d0c0e0"/>
<rect x="377.08" y="453.00" width="7.09" height="14.80" fill="#dcd0e8"/>
<rect x="383.88" y="453.00" width="7.09" height="14.80" fill="#dcd4ea"/>
<rect x="390.67" y="453.00" width="7.09" height="14.80" fill="#d8cce6"/>
<rect x="397.46" y="453.00" width="7.09" height="14.80" fill="#d8cce6"/>
<rect x="404.26" y="453.00" width="7.09" height="14.80" fill="#a898d0"/>
<rect x="411.05" y="453.00" width="7.09" height="14.80" fill="#a898d0"/>
<rect x="417.84" y="453.00" width="7.09" height="14.80" fill="#a090cc"/>
<rect x="424.64" y="453.00" width="7.09" height="14.80" fill="#a898d0"/>
<rect x="431.43" y="453.00" width="7.09" height="14.80" fill="#8070b8"/>
<rect x="438.22" y="453.00" width="7.09" height="14.80" fill="#b8a8d8"/>
<rect x="445.02" y="453.00" width="7.09" height="14.80" fill="#7c6cb8"/>
<rect x="451.81" y="453.00" width="7.09" height="14.80" fill="#9080c0"/>
<rect x="458.60" y="453.00" width="7.09" height="14.80" fill="#9080c0"/>
<rect x="465.40" y="453.00" width="7.09" height="14.80" fill="#8c7cc0"/>
<rect x="472.19" y="453.00" width="7.09" height="14.80" fill="#b8a8d8"/>
<rect x="478.98" y="453.00" width="7.09" height="14.80" fill="#a898d0"/>
<rect x="485.78" y="453.00" width="7.09" height="14.80" fill="#5c50a8"/>
<rect x="492.57" y="453.00" width="7.09" height="14.80" fill="#6050a8"/>
<rect x="499.36" y="453.00" width="7.09" height="14.80" fill="#7060b0"/>
<rect x="506.16" y="453.00" width="7.09" height="14.80" fill="#7060b0"/>
<rect x="512.95" y="453.00" width="7.09" height="14.80" fill="#6858ac"/>
<rect x="519.74" y="453.00" width="7.09" height="14.80" fill="#6050a8"/>
<rect x="526.54" y="453.00" width="7.09" height="14.80" fill="#5850a8"/>
<rect x="533.33" y="453.00" width="7.09" height="14.80" fill="#5c50a8"/>
<rect x="540.12" y="453.00" width="7.09" height="14.80" fill="#6050a8"/>
<rect x="546.92" y="453.00" width="7.09" height="14.80" fill="#7c6cb8"/>
<rect x="553.71" y="453.00" width="7.09" height="14.80" fill="#7c6cb8"/>
<rect x="560.50" y="453.00" width="7.09" height="14.80" fill="#8878c0"/>
<rect x="567.29" y="453.00" width="7.09" height="14.80" fill="#7c6cb8"/>
<rect x="574.09" y="453.00" width="7.09" height="14.80" fill="#7c6cb8"/>
<rect x="580.88" y="453.00" width="7.09" height="14.80" fill="#9888c8"/>
<rect x="587.67" y="453.00" width="7.09" height="14.80" fill="#5050a4"/>
<rect x="594.47" y="453.00" width="7.09" height="14.80" fill="#6050a8"/>
<rect x="601.26" y="453.00" width="7.09" height="14.80" fill="#5c50a8"/>
<rect x="608.05" y="453.00" width="7.09" height="14.80" fill="#7c6cb8"/>
<rect x="614.85" y="453.00" width="7.09" height="14.80" fill="#8070b8"/>
<rect x="621.64" y="453.00" width="7.09" height="14.80" fill="#9888c8"/>
<rect x="628.43" y="453.00" width="7.09" height="14.80" fill="#9080c0"/>
<rect x="635.23" y="453.00" width="7.09" height="14.80" fill="#e0d8ec"/>
<rect x="642.02" y="453.00" width="7.09" height="14.80" fill="#a898d0"/>
<rect x="648.81" y="453.00" width="7.09" height="14.80" fill="#ccc0e0"/>
<rect x="655.61" y="453.00" width="7.09" height="14.80" fill="#9888c8"/>
<rect x="261.60" y="467.50" width="7.09" height="14.80" fill="#e0d8ec"/>
<rect x="268.39" y="467.50" width="7.09" height="14.80" fill="#e0d8ec"/>
<rect x="275.19" y="467.50" width="7.09" height="14.80" fill="#ccbce0"/>
<rect x="281.98" y="467.50" width="7.09" height="14.80" fill="#e4dcee"/>
<rect x="288.77" y="467.50" width="7.09" height="14.80" fill="#dcd0e8"/>
<rect x="295.57" y="467.50" width="7.09" height="14.80" fill="#dcd0e8"/>
<rect x="302.36" y="467.50" width="7.09" height="14.80" fill="#eeeeee"/>
<rect x="309.15" y="467.50" width="7.09" height="14.80" fill="#f2e8e8"/>
<rect x="315.95" y="467.50" width="7.09" height="14.80" fill="#ececee"/>
<rect x="322.74" y="467.50" width="7.09" height="14.80" fill="#f5e4e4"/>
<rect x="329.53" y="467.50" width="7.09" height="14.80" fill="#e0d8ee"/>
<rect x="336.33" y="467.50" width="7.09" height="14.80" fill="#c8b8dc"/>
<rect x="343.12" y="467.50" width="7.09" height="14.80" fill="#c8b8dc"/>
<rect x="349.91" y="467.50" width="7.09" height="14.80" fill="#d8cce6"/>
<rect x="356.71" y="467.50" width="7.09" height="14.80" fill="#c4b0da"/>
<rect x="363.50" y="467.50" width="7.09" height="14.80" fill="#e4dcee"/>
<rect x="370.29" y="467.50" width="7.09" height="14.80" fill="#ecebf0"/>
<rect x="377.08" y="467.50" width="7.09" height="14.80" fill="#e4dcee"/>
<rect x="383.88" y="467.50" width="7.09" height="14.80" fill="#f0ecec"/>
<rect x="390.67" y="467.50" width="7.09" height="14.80" fill="#f8c0b0"/>
<rect x="397.46" y="467.50" width="7.09" height="14.80" fill="#f8b0a0"/>
<rect x="404.26" y="467.50" width="7.09" height="14.80" fill="#f59a88"/>
<rect x="411.05" y="467.50" width="7.09" height="14.80" fill="#fcc8b8"/>
<rect x="417.84" y="467.50" width="7.09" height="14.80" fill="#f8b0a0"/>
<rect x="424.64" y="467.50" width="7.09" height="14.80" fill="#f8b0a0"/>
<rect x="431.43" y="467.50" width="7.09" height="14.80" fill="#fcd0c0"/>
<rect x="438.22" y="467.50" width="7.09" height="14.80" fill="#a898d0"/>
<rect x="445.02" y="467.50" width="7.09" height="14.80" fill="#a898d0"/>
<rect x="451.81" y="467.50" width="7.09" height="14.80" fill="#b8a8d8"/>
<rect x="458.60" y="467.50" width="7.09" height="14.80" fill="#c4b8dc"/>
<rect x="465.40" y="467.50" width="7.09" height="14.80" fill="#9888c8"/>
<rect x="472.19" y="467.50" width="7.09" height="14.80" fill="#9080c0"/>
<rect x="478.98" y="467.50" width="7.09" height="14.80" fill="#9888c8"/>
<rect x="485.78" y="467.50" width="7.09" height="14.80" fill="#a898d0"/>
<rect x="492.57" y="467.50" width="7.09" height="14.80" fill="#a898d0"/>
<rect x="499.36" y="467.50" width="7.09" height="14.80" fill="#b0a0d4"/>
<rect x="506.16" y="467.50" width="7.09" height="14.80" fill="#a090cc"/>
<rect x="512.95" y="467.50" width="7.09" height="14.80" fill="#b0a0d4"/>
<rect x="519.74" y="467.50" width="7.09" height="14.80" fill="#9888c8"/>
<rect x="526.54" y="467.50" width="7.09" height="14.80" fill="#d8cce6"/>
<rect x="533.33" y="467.50" width="7.09" height="14.80" fill="#d8cce6"/>
<rect x="540.12" y="467.50" width="7.09" height="14.80" fill="#d0c4e2"/>
<rect x="546.92" y="467.50" width="7.09" height="14.80" fill="#c4b8dc"/>
<rect x="553.71" y="467.50" width="7.09" height="14.80" fill="#a898d0"/>
<rect x="560.50" y="467.50" width="7.09" height="14.80" fill="#dcd0e8"/>
<rect x="567.29" y="467.50" width="7.09" height="14.80" fill="#dcd0e8"/>
<rect x="574.09" y="467.50" width="7.09" height="14.80" fill="#d0c4e2"/>
<rect x="580.88" y="467.50" width="7.09" height="14.80" fill="#eae4f2"/>
<rect x="587.67" y="467.50" width="7.09" height="14.80" fill="#9888c8"/>
<rect x="594.47" y="467.50" width="7.09" height="14.80" fill="#9888c8"/>
<rect x="601.26" y="467.50" width="7.09" height="14.80" fill="#a090cc"/>
<rect x="608.05" y="467.50" width="7.09" height="14.80" fill="#9888c8"/>
<rect x="614.85" y="467.50" width="7.09" height="14.80" fill="#ccc0e0"/>
<rect x="621.64" y="467.50" width="7.09" height="14.80" fill="#ece8f2"/>
<rect x="628.43" y="467.50" width="7.09" height="14.80" fill="#ece8f2"/>
<rect x="635.23" y="467.50" width="7.09" height="14.80" fill="#a898d0"/>
<rect x="642.02" y="467.50" width="7.09" height="14.80" fill="#a090cc"/>
<rect x="648.81" y="467.50" width="7.09" height="14.80" fill="#c4b8dc"/>
<rect x="655.61" y="467.50" width="7.09" height="14.80" fill="#f49078"/>
<rect x="261.60" y="482.00" width="7.09" height="14.80" fill="#6658a8"/>
<rect x="268.39" y="482.00" width="7.09" height="14.80" fill="#6658a8"/>
<rect x="275.19" y="482.00" width="7.09" height="14.80" fill="#6658a8"/>
<rect x="281.98" y="482.00" width="7.09" height="14.80" fill="#7060b0"/>
<rect x="288.77" y="482.00" width="7.09" height="14.80" fill="#7060b0"/>
<rect x="295.57" y="482.00" width="7.09" height="14.80" fill="#6a5cac"/>
<rect x="302.36" y="482.00" width="7.09" height="14.80" fill="#6a5cac"/>
<rect x="309.15" y="482.00" width="7.09" height="14.80" fill="#6a5cac"/>
<rect x="315.95" y="482.00" width="7.09" height="14.80" fill="#6a5cac"/>
<rect x="322.74" y="482.00" width="7.09" height="14.80" fill="#6a5cac"/>
<rect x="329.53" y="482.00" width="7.09" height="14.80" fill="#5c58a8"/>
<rect x="336.33" y="482.00" width="7.09" height="14.80" fill="#6a5cac"/>
<rect x="343.12" y="482.00" width="7.09" height="14.80" fill="#6a5cac"/>
<rect x="349.91" y="482.00" width="7.09" height="14.80" fill="#6a5cac"/>
<rect x="356.71" y="482.00" width="7.09" height="14.80" fill="#6a5cac"/>
<rect x="363.50" y="482.00" width="7.09" height="14.80" fill="#5c58a8"/>
<rect x="370.29" y="482.00" width="7.09" height="14.80" fill="#5c58a8"/>
<rect x="377.08" y="482.00" width="7.09" height="14.80" fill="#6058a8"/>
<rect x="383.88" y="482.00" width="7.09" height="14.80" fill="#5050a0"/>
<rect x="390.67" y="482.00" width="7.09" height="14.80" fill="#5c58a8"/>
<rect x="397.46" y="482.00" width="7.09" height="14.80" fill="#5850a8"/>
<rect x="404.26" y="482.00" width="7.09" height="14.80" fill="#5850a8"/>
<rect x="411.05" y="482.00" width="7.09" height="14.80" fill="#6050a8"/>
<rect x="417.84" y="482.00" width="7.09" height="14.80" fill="#6858ac"/>
<rect x="424.64" y="482.00" width="7.09" height="14.80" fill="#4c4ca4"/>
<rect x="431.43" y="482.00" width="7.09" height="14.80" fill="#5050a4"/>
<rect x="438.22" y="482.00" width="7.09" height="14.80" fill="#6858ac"/>
<rect x="445.02" y="482.00" width="7.09" height="14.80" fill="#6858ac"/>
<rect x="451.81" y="482.00" width="7.09" height="14.80" fill="#6050a8"/>
<rect x="458.60" y="482.00" width="7.09" height="14.80" fill="#6050a8"/>
<rect x="465.40" y="482.00" width="7.09" height="14.80" fill="#7060b0"/>
<rect x="472.19" y="482.00" width="7.09" height="14.80" fill="#7060b0"/>
<rect x="478.98" y="482.00" width="7.09" height="14.80" fill="#7060b0"/>
<rect x="485.78" y="482.00" width="7.09" height="14.80" fill="#7c6cb8"/>
<rect x="492.57" y="482.00" width="7.09" height="14.80" fill="#8070b8"/>
<rect x="499.36" y="482.00" width="7.09" height="14.80" fill="#7060b0"/>
<rect x="506.16" y="482.00" width="7.09" height="14.80" fill="#7c6cb8"/>
<rect x="512.95" y="482.00" width="7.09" height="14.80" fill="#7c6cb8"/>
<rect x="519.74" y="482.00" width="7.09" height="14.80" fill="#a898d0"/>
<rect x="526.54" y="482.00" width="7.09" height="14.80" fill="#7c6cb8"/>
<rect x="533.33" y="482.00" width="7.09" height="14.80" fill="#6858ac"/>
<rect x="540.12" y="482.00" width="7.09" height="14.80" fill="#6858ac"/>
<rect x="546.92" y="482.00" width="7.09" height="14.80" fill="#6858ac"/>
<rect x="553.71" y="482.00" width="7.09" height="14.80" fill="#8070b8"/>
<rect x="560.50" y="482.00" width="7.09" height="14.80" fill="#6858ac"/>
<rect x="567.29" y="482.00" width="7.09" height="14.80" fill="#7060b0"/>
<rect x="574.09" y="482.00" width="7.09" height="14.80" fill="#6050a8"/>
<rect x="580.88" y="482.00" width="7.09" height="14.80" fill="#5050a4"/>
<rect x="587.67" y="482.00" width="7.09" height="14.80" fill="#8070b8"/>
<rect x="594.47" y="482.00" width="7.09" height="14.80" fill="#7060b0"/>
<rect x="601.26" y="482.00" width="7.09" height="14.80" fill="#7060b0"/>
<rect x="608.05" y="482.00" width="7.09" height="14.80" fill="#6858ac"/>
<rect x="614.85" y="482.00" width="7.09" height="14.80" fill="#6050a8"/>
<rect x="621.64" y="482.00" width="7.09" height="14.80" fill="#5c50a8"/>
<rect x="628.43" y="482.00" width="7.09" height="14.80" fill="#5c50a8"/>
<rect x="635.23" y="482.00" width="7.09" height="14.80" fill="#5050a4"/>
<rect x="642.02" y="482.00" width="7.09" height="14.80" fill="#7c6cb8"/>
<rect x="648.81" y="482.00" width="7.09" height="14.80" fill="#7c6cb8"/>
<rect x="655.61" y="482.00" width="7.09" height="14.80" fill="#3c48a0"/>
<rect x="261.60" y="496.50" width="7.09" height="14.80" fill="#6a5cac"/>
<rect x="268.39" y="496.50" width="7.09" height="14.80" fill="#6a5cac"/>
<rect x="275.19" y="496.50" width="7.09" height="14.80" fill="#6a5cac"/>
<rect x="281.98" y="496.50" width="7.09" height="14.80" fill="#7060b0"/>
<rect x="288.77" y="496.50" width="7.09" height="14.80" fill="#7060b0"/>
<rect x="295.57" y="496.50" width="7.09" height="14.80" fill="#6a5cac"/>
<rect x="302.36" y="496.50" width="7.09" height="14.80" fill="#6a5cac"/>
<rect x="309.15" y="496.50" width="7.09" height="14.80" fill="#6a5cac"/>
<rect x="315.95" y="496.50" width="7.09" height="14.80" fill="#6a5cac"/>
<rect x="322.74" y="496.50" width="7.09" height="14.80" fill="#6a5cac"/>
<rect x="329.53" y="496.50" width="7.09" height="14.80" fill="#5c58a8"/>
<rect x="336.33" y="496.50" width="7.09" height="14.80" fill="#6a5cac"/>
<rect x="343.12" y="496.50" width="7.09" height="14.80" fill="#6a5cac"/>
<rect x="349.91" y="496.50" width="7.09" height="14.80" fill="#6a5cac"/>
<rect x="356.71" y="496.50" width="7.09" height="14.80" fill="#6a5cac"/>
<rect x="363.50" y="496.50" width="7.09" height="14.80" fill="#5c58a8"/>
<rect x="370.29" y="496.50" width="7.09" height="14.80" fill="#5c58a8"/>
<rect x="377.08" y="496.50" width="7.09" height="14.80" fill="#6058a8"/>
<rect x="383.88" y="496.50" width="7.09" height="14.80" fill="#5c58a8"/>
<rect x="390.67" y="496.50" width="7.09" height="14.80" fill="#5c58a8"/>
<rect x="397.46" y="496.50" width="7.09" height="14.80" fill="#5850a8"/>
<rect x="404.26" y="496.50" width="7.09" height="14.80" fill="#5850a8"/>
<rect x="411.05" y="496.50" width="7.09" height="14.80" fill="#5850a8"/>
<rect x="417.84" y="496.50" width="7.09" height="14.80" fill="#5850a8"/>
<rect x="424.64" y="496.50" width="7.09" height="14.80" fill="#5850a8"/>
<rect x="431.43" y="496.50" width="7.09" height="14.80" fill="#5850a8"/>
<rect x="438.22" y="496.50" width="7.09" height="14.80" fill="#6050a8"/>
<rect x="445.02" y="496.50" width="7.09" height="14.80" fill="#6050a8"/>
<rect x="451.81" y="496.50" width="7.09" height="14.80" fill="#6050a8"/>
<rect x="458.60" y="496.50" width="7.09" height="14.80" fill="#6050a8"/>
<rect x="465.40" y="496.50" width="7.09" height="14.80" fill="#7060b0"/>
<rect x="472.19" y="496.50" width="7.09" height="14.80" fill="#7060b0"/>
<rect x="478.98" y="496.50" width="7.09" height="14.80" fill="#7060b0"/>
<rect x="485.78" y="496.50" width="7.09" height="14.80" fill="#7c6cb8"/>
<rect x="492.57" y="496.50" width="7.09" height="14.80" fill="#7c6cb8"/>
<rect x="499.36" y="496.50" width="7.09" height="14.80" fill="#7c6cb8"/>
<rect x="506.16" y="496.50" width="7.09" height="14.80" fill="#7c6cb8"/>
<rect x="512.95" y="496.50" width="7.09" height="14.80" fill="#7c6cb8"/>
<rect x="519.74" y="496.50" width="7.09" height="14.80" fill="#a898d0"/>
<rect x="526.54" y="496.50" width="7.09" height="14.80" fill="#8070b8"/>
<rect x="533.33" y="496.50" width="7.09" height="14.80" fill="#7060b0"/>
<rect x="540.12" y="496.50" width="7.09" height="14.80" fill="#7060b0"/>
<rect x="546.92" y="496.50" width="7.09" height="14.80" fill="#7c6cb8"/>
<rect x="553.71" y="496.50" width="7.09" height="14.80" fill="#8070b8"/>
<rect x="560.50" y="496.50" width="7.09" height="14.80" fill="#6858ac"/>
<rect x="567.29" y="496.50" width="7.09" height="14.80" fill="#7060b0"/>
<rect x="574.09" y="496.50" width="7.09" height="14.80" fill="#6050a8"/>
<rect x="580.88" y="496.50" width="7.09" height="14.80" fill="#5050a4"/>
<rect x="587.67" y="496.50" width="7.09" height="14.80" fill="#9080c0"/>
<rect x="594.47" y="496.50" width="7.09" height="14.80" fill="#8070b8"/>
<rect x="601.26" y="496.50" width="7.09" height="14.80" fill="#8070b8"/>
<rect x="608.05" y="496.50" width="7.09" height="14.80" fill="#6858ac"/>
<rect x="614.85" y="496.50" width="7.09" height="14.80" fill="#6858ac"/>
<rect x="621.64" y="496.50" width="7.09" height="14.80" fill="#6050a8"/>
<rect x="628.43" y="496.50" width="7.09" height="14.80" fill="#6050a8"/>
<rect x="635.23" y="496.50" width="7.09" height="14.80" fill="#6050a8"/>
<rect x="642.02" y="496.50" width="7.09" height="14.80" fill="#7c6cb8"/>
<rect x="648.81" y="496.50" width="7.09" height="14.80" fill="#a898d0"/>
<rect x="655.61" y="496.50" width="7.09" height="14.80" fill="#c0b0d8"/>
<rect x="261.60" y="511.00" width="7.09" height="14.80" fill="#f8e4e0"/>
<rect x="268.39" y="511.00" width="7.09" height="14.80" fill="#e8e4f0"/>
<rect x="275.19" y="511.00" width="7.09" height="14.80" fill="#eeeeee"/>
<rect x="281.98" y="511.00" width="7.09" height="14.80" fill="#eeeeee"/>
<rect x="288.77" y="511.00" width="7.09" height="14.80" fill="#f5e4e4"/>
<rect x="295.57" y="511.00" width="7.09" height="14.80" fill="#f8c0b0"/>
<rect x="302.36" y="511.00" width="7.09" height="14.80" fill="#d8cce6"/>
<rect x="309.15" y="511.00" width="7.09" height="14.80" fill="#d8cce6"/>
<rect x="315.95" y="511.00" width="7.09" height="14.80" fill="#d8cce6"/>
<rect x="322.74" y="511.00" width="7.09" height="14.80" fill="#ecebf0"/>
<rect x="329.53" y="511.00" width="7.09" height="14.80" fill="#c4b8dc"/>
<rect x="336.33" y="511.00" width="7.09" height="14.80" fill="#c4b8dc"/>
<rect x="343.12" y="511.00" width="7.09" height="14.80" fill="#dcd0e8"/>
<rect x="349.91" y="511.00" width="7.09" height="14.80" fill="#e0d8ec"/>
<rect x="356.71" y="511.00" width="7.09" height="14.80" fill="#d8cce6"/>
<rect x="363.50" y="511.00" width="7.09" height="14.80" fill="#eeeeee"/>
<rect x="370.29" y="511.00" width="7.09" height="14.80" fill="#e0d8ec"/>
<rect x="377.08" y="511.00" width="7.09" height="14.80" fill="#d0c4e2"/>
<rect x="383.88" y="511.00" width="7.09" height="14.80" fill="#e8e4f0"/>
<rect x="390.67" y="511.00" width="7.09" height="14.80" fill="#c0b0d8"/>
<rect x="397.46" y="511.00" width="7.09" height="14.80" fill="#b0a0d4"/>
<rect x="404.26" y="511.00" width="7.09" height="14.80" fill="#e0d8ee"/>
<rect x="411.05" y="511.00" width="7.09" height="14.80" fill="#b8a8d8"/>
<rect x="417.84" y="511.00" width="7.09" height="14.80" fill="#a090cc"/>
<rect x="424.64" y="511.00" width="7.09" height="14.80" fill="#f8b0a0"/>
<rect x="431.43" y="511.00" width="7.09" height="14.80" fill="#f8b0a0"/>
<rect x="438.22" y="511.00" width="7.09" height="14.80" fill="#fce0d8"/>
<rect x="445.02" y="511.00" width="7.09" height="14.80" fill="#fcc0b0"/>
<rect x="451.81" y="511.00" width="7.09" height="14.80" fill="#fcd8cc"/>
<rect x="458.60" y="511.00" width="7.09" height="14.80" fill="#fcd8cc"/>
<rect x="465.40" y="511.00" width="7.09" height="14.80" fill="#fce0d8"/>
<rect x="472.19" y="511.00" width="7.09" height="14.80" fill="#eeeeee"/>
<rect x="478.98" y="511.00" width="7.09" height="14.80" fill="#eeeeee"/>
<rect x="485.78" y="511.00" width="7.09" height="14.80" fill="#fce4e0"/>
<rect x="492.57" y="511.00" width="7.09" height="14.80" fill="#fcdcd0"/>
<rect x="499.36" y="511.00" width="7.09" height="14.80" fill="#fce4e0"/>
<rect x="506.16" y="511.00" width="7.09" height="14.80" fill="#f8ecec"/>
<rect x="512.95" y="511.00" width="7.09" height="14.80" fill="#f8ecec"/>
<rect x="519.74" y="511.00" width="7.09" height="14.80" fill="#d8d0ea"/>
<rect x="526.54" y="511.00" width="7.09" height="14.80" fill="#fcd8cc"/>
<rect x="533.33" y="511.00" width="7.09" height="14.80" fill="#fcd8cc"/>
<rect x="540.12" y="511.00" width="7.09" height="14.80" fill="#fcc0b0"/>
<rect x="546.92" y="511.00" width="7.09" height="14.80" fill="#e0d8ee"/>
<rect x="553.71" y="511.00" width="7.09" height="14.80" fill="#e0d8ee"/>
<rect x="560.50" y="511.00" width="7.09" height="14.80" fill="#dcd0e8"/>
<rect x="567.29" y="511.00" width="7.09" height="14.80" fill="#dcd0e8"/>
<rect x="574.09" y="511.00" width="7.09" height="14.80" fill="#f8a890"/>
<rect x="580.88" y="511.00" width="7.09" height="14.80" fill="#f8a890"/>
<rect x="587.67" y="511.00" width="7.09" height="14.80" fill="#f8a890"/>
<rect x="594.47" y="511.00" width="7.09" height="14.80" fill="#f28870"/>
<rect x="601.26" y="511.00" width="7.09" height="14.80" fill="#f28870"/>
<rect x="608.05" y="511.00" width="7.09" height="14.80" fill="#f07860"/>
<rect x="614.85" y="511.00" width="7.09" height="14.80" fill="#ee4a30"/>
<rect x="621.64" y="511.00" width="7.09" height="14.80" fill="#e8202a"/>
<rect x="628.43" y="511.00" width="7.09" height="14.80" fill="#e8202a"/>
<rect x="635.23" y="511.00" width="7.09" height="14.80" fill="#ee4a30"/>
<rect x="642.02" y="511.00" width="7.09" height="14.80" fill="#e8202a"/>
<rect x="648.81" y="511.00" width="7.09" height="14.80" fill="#e8202a"/>
<rect x="655.61" y="511.00" width="7.09" height="14.80" fill="#e8202a"/>
<rect x="261.60" y="525.50" width="7.09" height="14.80" fill="#f07860"/>
<rect x="268.39" y="525.50" width="7.09" height="14.80" fill="#f07860"/>
<rect x="275.19" y="525.50" width="7.09" height="14.80" fill="#f07860"/>
<rect x="281.98" y="525.50" width="7.09" height="14.80" fill="#f07860"/>
<rect x="288.77" y="525.50" width="7.09" height="14.80" fill="#f07860"/>
<rect x="295.57" y="525.50" width="7.09" height="14.80" fill="#f07860"/>
<rect x="302.36" y="525.50" width="7.09" height="14.80" fill="#f07860"/>
<rect x="309.15" y="525.50" width="7.09" height="14.80" fill="#f07860"/>
<rect x="315.95" y="525.50" width="7.09" height="14.80" fill="#f07860"/>
<rect x="322.74" y="525.50" width="7.09" height="14.80" fill="#f07860"/>
<rect x="329.53" y="525.50" width="7.09" height="14.80" fill="#f07860"/>
<rect x="336.33" y="525.50" width="7.09" height="14.80" fill="#f29078"/>
<rect x="343.12" y="525.50" width="7.09" height="14.80" fill="#f07860"/>
<rect x="349.91" y="525.50" width="7.09" height="14.80" fill="#f07860"/>
<rect x="356.71" y="525.50" width="7.09" height="14.80" fill="#f07860"/>
<rect x="363.50" y="525.50" width="7.09" height="14.80" fill="#f07860"/>
<rect x="370.29" y="525.50" width="7.09" height="14.80" fill="#f07860"/>
<rect x="377.08" y="525.50" width="7.09" height="14.80" fill="#f07860"/>
<rect x="383.88" y="525.50" width="7.09" height="14.80" fill="#f06848"/>
<rect x="390.67" y="525.50" width="7.09" height="14.80" fill="#f28870"/>
<rect x="397.46" y="525.50" width="7.09" height="14.80" fill="#f49078"/>
<rect x="404.26" y="525.50" width="7.09" height="14.80" fill="#f49078"/>
<rect x="411.05" y="525.50" width="7.09" height="14.80" fill="#f28870"/>
<rect x="417.84" y="525.50" width="7.09" height="14.80" fill="#f07860"/>
<rect x="424.64" y="525.50" width="7.09" height="14.80" fill="#fcd8cc"/>
<rect x="431.43" y="525.50" width="7.09" height="14.80" fill="#fcd0c4"/>
<rect x="438.22" y="525.50" width="7.09" height="14.80" fill="#f49078"/>
<rect x="445.02" y="525.50" width="7.09" height="14.80" fill="#f28870"/>
<rect x="451.81" y="525.50" width="7.09" height="14.80" fill="#f28870"/>
<rect x="458.60" y="525.50" width="7.09" height="14.80" fill="#f28870"/>
<rect x="465.40" y="525.50" width="7.09" height="14.80" fill="#f07860"/>
<rect x="472.19" y="525.50" width="7.09" height="14.80" fill="#f07860"/>
<rect x="478.98" y="525.50" width="7.09" height="14.80" fill="#f07860"/>
<rect x="485.78" y="525.50" width="7.09" height="14.80" fill="#f07860"/>
<rect x="492.57" y="525.50" width="7.09" height="14.80" fill="#f07860"/>
<rect x="499.36" y="525.50" width="7.09" height="14.80" fill="#f07860"/>
<rect x="506.16" y="525.50" width="7.09" height="14.80" fill="#f07860"/>
<rect x="512.95" y="525.50" width="7.09" height="14.80" fill="#f07860"/>
<rect x="519.74" y="525.50" width="7.09" height="14.80" fill="#f07860"/>
<rect x="526.54" y="525.50" width="7.09" height="14.80" fill="#f07860"/>
<rect x="533.33" y="525.50" width="7.09" height="14.80" fill="#f28870"/>
<rect x="540.12" y="525.50" width="7.09" height="14.80" fill="#f28870"/>
<rect x="546.92" y="525.50" width="7.09" height="14.80" fill="#ee4a30"/>
<rect x="553.71" y="525.50" width="7.09" height="14.80" fill="#f07860"/>
<rect x="560.50" y="525.50" width="7.09" height="14.80" fill="#f07860"/>
<rect x="567.29" y="525.50" width="7.09" height="14.80" fill="#f28870"/>
<rect x="574.09" y="525.50" width="7.09" height="14.80" fill="#f49078"/>
<rect x="580.88" y="525.50" width="7.09" height="14.80" fill="#f49078"/>
<rect x="587.67" y="525.50" width="7.09" height="14.80" fill="#f28870"/>
<rect x="594.47" y="525.50" width="7.09" height="14.80" fill="#f49a88"/>
<rect x="601.26" y="525.50" width="7.09" height="14.80" fill="#f49a88"/>
<rect x="608.05" y="525.50" width="7.09" height="14.80" fill="#f49078"/>
<rect x="614.85" y="525.50" width="7.09" height="14.80" fill="#f8b0a0"/>
<rect x="621.64" y="525.50" width="7.09" height="14.80" fill="#f8b8a8"/>
<rect x="628.43" y="525.50" width="7.09" height="14.80" fill="#f8b8a8"/>
<rect x="635.23" y="525.50" width="7.09" height="14.80" fill="#f49078"/>
<rect x="642.02" y="525.50" width="7.09" height="14.80" fill="#fcc8b8"/>
<rect x="648.81" y="525.50" width="7.09" height="14.80" fill="#fce0d8"/>
<rect x="655.61" y="525.50" width="7.09" height="14.80" fill="#d8d0ea"/>
<rect x="261.60" y="540.00" width="7.09" height="14.80" fill="#f07860"/>
<rect x="268.39" y="540.00" width="7.09" height="14.80" fill="#f07860"/>
<rect x="275.19" y="540.00" width="7.09" height="14.80" fill="#f07860"/>
<rect x="281.98" y="540.00" width="7.09" height="14.80" fill="#f07860"/>
<rect x="288.77" y="540.00" width="7.09" height="14.80" fill="#f07860"/>
<rect x="295.57" y="540.00" width="7.09" height="14.80" fill="#f07860"/>
<rect x="302.36" y="540.00" width="7.09" height="14.80" fill="#f07860"/>
<rect x="309.15" y="540.00" width="7.09" height="14.80" fill="#f07860"/>
<rect x="315.95" y="540.00" width="7.09" height="14.80" fill="#f07860"/>
<rect x="322.74" y="540.00" width="7.09" height="14.80" fill="#f07860"/>
<rect x="329.53" y="540.00" width="7.09" height="14.80" fill="#f07860"/>
<rect x="336.33" y="540.00" width="7.09" height="14.80" fill="#f06040"/>
<rect x="343.12" y="540.00" width="7.09" height="14.80" fill="#f06040"/>
<rect x="349.91" y="540.00" width="7.09" height="14.80" fill="#f07860"/>
<rect x="356.71" y="540.00" width="7.09" height="14.80" fill="#f07860"/>
<rect x="363.50" y="540.00" width="7.09" height="14.80" fill="#f07860"/>
<rect x="370.29" y="540.00" width="7.09" height="14.80" fill="#f07860"/>
<rect x="377.08" y="540.00" width="7.09" height="14.80" fill="#f07860"/>
<rect x="383.88" y="540.00" width="7.09" height="14.80" fill="#f29078"/>
<rect x="390.67" y="540.00" width="7.09" height="14.80" fill="#f29078"/>
<rect x="397.46" y="540.00" width="7.09" height="14.80" fill="#f49078"/>
<rect x="404.26" y="540.00" width="7.09" height="14.80" fill="#f49078"/>
<rect x="411.05" y="540.00" width="7.09" height="14.80" fill="#f28870"/>
<rect x="417.84" y="540.00" width="7.09" height="14.80" fill="#f28870"/>
<rect x="424.64" y="540.00" width="7.09" height="14.80" fill="#f8b0a0"/>
<rect x="431.43" y="540.00" width="7.09" height="14.80" fill="#f07050"/>
<rect x="438.22" y="540.00" width="7.09" height="14.80" fill="#f49078"/>
<rect x="445.02" y="540.00" width="7.09" height="14.80" fill="#f06850"/>
<rect x="451.81" y="540.00" width="7.09" height="14.80" fill="#f07860"/>
<rect x="458.60" y="540.00" width="7.09" height="14.80" fill="#f07860"/>
<rect x="465.40" y="540.00" width="7.09" height="14.80" fill="#f07860"/>
<rect x="472.19" y="540.00" width="7.09" height="14.80" fill="#f07860"/>
<rect x="478.98" y="540.00" width="7.09" height="14.80" fill="#f07860"/>
<rect x="485.78" y="540.00" width="7.09" height="14.80" fill="#f07860"/>
<rect x="492.57" y="540.00" width="7.09" height="14.80" fill="#f07860"/>
<rect x="499.36" y="540.00" width="7.09" height="14.80" fill="#f06850"/>
<rect x="506.16" y="540.00" width="7.09" height="14.80" fill="#f07860"/>
<rect x="512.95" y="540.00" width="7.09" height="14.80" fill="#f07860"/>
<rect x="519.74" y="540.00" width="7.09" height="14.80" fill="#f06850"/>
<rect x="526.54" y="540.00" width="7.09" height="14.80" fill="#f07860"/>
<rect x="533.33" y="540.00" width="7.09" height="14.80" fill="#f28870"/>
<rect x="540.12" y="540.00" width="7.09" height="14.80" fill="#f28870"/>
<rect x="546.92" y="540.00" width="7.09" height="14.80" fill="#f28870"/>
<rect x="553.71" y="540.00" width="7.09" height="14.80" fill="#f07050"/>
<rect x="560.50" y="540.00" width="7.09" height="14.80" fill="#f07050"/>
<rect x="567.29" y="540.00" width="7.09" height="14.80" fill="#f07050"/>
<rect x="574.09" y="540.00" width="7.09" height="14.80" fill="#f49078"/>
<rect x="580.88" y="540.00" width="7.09" height="14.80" fill="#f07050"/>
<rect x="587.67" y="540.00" width="7.09" height="14.80" fill="#f07050"/>
<rect x="594.47" y="540.00" width="7.09" height="14.80" fill="#f28870"/>
<rect x="601.26" y="540.00" width="7.09" height="14.80" fill="#f28870"/>
<rect x="608.05" y="540.00" width="7.09" height="14.80" fill="#f49078"/>
<rect x="614.85" y="540.00" width="7.09" height="14.80" fill="#f8a890"/>
<rect x="621.64" y="540.00" width="7.09" height="14.80" fill="#f8b0a0"/>
<rect x="628.43" y="540.00" width="7.09" height="14.80" fill="#f8b0a0"/>
<rect x="635.23" y="540.00" width="7.09" height="14.80" fill="#fcd0c0"/>
<rect x="642.02" y="540.00" width="7.09" height="14.80" fill="#fcc8b8"/>
<rect x="648.81" y="540.00" width="7.09" height="14.80" fill="#ece8f2"/>
<rect x="655.61" y="540.00" width="7.09" height="14.80" fill="#fcd0c4"/>
<rect x="261.60" y="554.50" width="7.09" height="14.80" fill="#f06848"/>
<rect x="268.39" y="554.50" width="7.09" height="14.80" fill="#f06848"/>
<rect x="275.19" y="554.50" width="7.09" height="14.80" fill="#f06848"/>
<rect x="281.98" y="554.50" width="7.09" height="14.80" fill="#f06848"/>
<rect x="288.77" y="554.50" width="7.09" height="14.80" fill="#f06848"/>
<rect x="295.57" y="554.50" width="7.09" height="14.80" fill="#f06040"/>
<rect x="302.36" y="554.50" width="7.09" height="14.80" fill="#f06848"/>
<rect x="309.15" y="554.50" width="7.09" height="14.80" fill="#f06848"/>
<rect x="315.95" y="554.50" width="7.09" height="14.80" fill="#f06848"/>
<rect x="322.74" y="554.50" width="7.09" height="14.80" fill="#f06848"/>
<rect x="329.53" y="554.50" width="7.09" height="14.80" fill="#f06848"/>
<rect x="336.33" y="554.50" width="7.09" height="14.80" fill="#ee4a30"/>
<rect x="343.12" y="554.50" width="7.09" height="14.80" fill="#f08870"/>
<rect x="349.91" y="554.50" width="7.09" height="14.80" fill="#f06848"/>
<rect x="356.71" y="554.50" width="7.09" height="14.80" fill="#f06040"/>
<rect x="363.50" y="554.50" width="7.09" height="14.80" fill="#f06040"/>
<rect x="370.29" y="554.50" width="7.09" height="14.80" fill="#f06848"/>
<rect x="377.08" y="554.50" width="7.09" height="14.80" fill="#f06848"/>
<rect x="383.88" y="554.50" width="7.09" height="14.80" fill="#f06848"/>
<rect x="390.67" y="554.50" width="7.09" height="14.80" fill="#f06848"/>
<rect x="397.46" y="554.50" width="7.09" height="14.80" fill="#f07860"/>
<rect x="404.26" y="554.50" width="7.09" height="14.80" fill="#f07860"/>
<rect x="411.05" y="554.50" width="7.09" height="14.80" fill="#f06850"/>
<rect x="417.84" y="554.50" width="7.09" height="14.80" fill="#f07050"/>
<rect x="424.64" y="554.50" width="7.09" height="14.80" fill="#ee4a30"/>
<rect x="431.43" y="554.50" width="7.09" height="14.80" fill="#f07050"/>
<rect x="438.22" y="554.50" width="7.09" height="14.80" fill="#e8202a"/>
<rect x="445.02" y="554.50" width="7.09" height="14.80" fill="#f06040"/>
<rect x="451.81" y="554.50" width="7.09" height="14.80" fill="#f06040"/>
<rect x="458.60" y="554.50" width="7.09" height="14.80" fill="#f06040"/>
<rect x="465.40" y="554.50" width="7.09" height="14.80" fill="#f06040"/>
<rect x="472.19" y="554.50" width="7.09" height="14.80" fill="#f06040"/>
<rect x="478.98" y="554.50" width="7.09" height="14.80" fill="#f06040"/>
<rect x="485.78" y="554.50" width="7.09" height="14.80" fill="#f06040"/>
<rect x="492.57" y="554.50" width="7.09" height="14.80" fill="#f06040"/>
<rect x="499.36" y="554.50" width="7.09" height="14.80" fill="#f06040"/>
<rect x="506.16" y="554.50" width="7.09" height="14.80" fill="#f06040"/>
<rect x="512.95" y="554.50" width="7.09" height="14.80" fill="#f06040"/>
<rect x="519.74" y="554.50" width="7.09" height="14.80" fill="#f06040"/>
<rect x="526.54" y="554.50" width="7.09" height="14.80" fill="#f06040"/>
<rect x="533.33" y="554.50" width="7.09" height="14.80" fill="#f07050"/>
<rect x="540.12" y="554.50" width="7.09" height="14.80" fill="#f07050"/>
<rect x="546.92" y="554.50" width="7.09" height="14.80" fill="#f07050"/>
<rect x="553.71" y="554.50" width="7.09" height="14.80" fill="#f06040"/>
<rect x="560.50" y="554.50" width="7.09" height="14.80" fill="#f06040"/>
<rect x="567.29" y="554.50" width="7.09" height="14.80" fill="#ee5838"/>
<rect x="574.09" y="554.50" width="7.09" height="14.80" fill="#f28870"/>
<rect x="580.88" y="554.50" width="7.09" height="14.80" fill="#f49a88"/>
<rect x="587.67" y="554.50" width="7.09" height="14.80" fill="#f07860"/>
<rect x="594.47" y="554.50" width="7.09" height="14.80" fill="#f07050"/>
<rect x="601.26" y="554.50" width="7.09" height="14.80" fill="#f07860"/>
<rect x="608.05" y="554.50" width="7.09" height="14.80" fill="#f28870"/>
<rect x="614.85" y="554.50" width="7.09" height="14.80" fill="#f28870"/>
<rect x="621.64" y="554.50" width="7.09" height="14.80" fill="#f49078"/>
<rect x="628.43" y="554.50" width="7.09" height="14.80" fill="#f49078"/>
<rect x="635.23" y="554.50" width="7.09" height="14.80" fill="#f28870"/>
<rect x="642.02" y="554.50" width="7.09" height="14.80" fill="#fcc0b0"/>
<rect x="648.81" y="554.50" width="7.09" height="14.80" fill="#ece8f2"/>
<rect x="655.61" y="554.50" width="7.09" height="14.80" fill="#fcd0c4"/>
</g>
<rect x="261.60" y="453.00" width="400.80" height="116.00" fill="none" stroke="#8a8a8a" stroke-width="0.7" />
<line x1="256.40" y1="453.50" x2="256.40" y2="508.50" stroke="#444" stroke-width="0.8" />
<line x1="256.40" y1="512.00" x2="256.40" y2="568.50" stroke="#444" stroke-width="0.8" />
<text transform="translate(252.20,481.00) rotate(-90)" font-size="8.3" text-anchor="middle" textLength="12.4" lengthAdjust="spacingAndGlyphs" fill="#2b2b2b" stroke="#2b2b2b" stroke-width="0.16" >WT</text>
<text transform="translate(252.20,540.00) rotate(-90)" font-size="8.3" text-anchor="middle" textLength="34.4" lengthAdjust="spacingAndGlyphs" fill="#2b2b2b" stroke="#2b2b2b" stroke-width="0.16" >NICD OE</text>
<defs><linearGradient id="hl" x1="0" y1="0" x2="0" y2="1"><stop offset="0" stop-color="#e8202a"/><stop offset="0.25" stop-color="#f07860"/><stop offset="0.5" stop-color="#f4f0f4"/><stop offset="0.75" stop-color="#8878c0"/><stop offset="1" stop-color="#3c48a8"/></linearGradient></defs>
<rect x="666.40" y="454.00" width="7.20" height="33.60" fill="url(#hl)" stroke="none" stroke-width="0.8" />
<text x="680.80" y="457.60" font-size="7.1" text-anchor="middle" fill="#2b2b2b" stroke="#2b2b2b" stroke-width="0.16" >2</text>
<text x="680.80" y="464.80" font-size="7.1" text-anchor="middle" fill="#2b2b2b" stroke="#2b2b2b" stroke-width="0.16" >1</text>
<text x="680.80" y="472.80" font-size="7.1" text-anchor="middle" fill="#2b2b2b" stroke="#2b2b2b" stroke-width="0.16" >0</text>
<text x="684.50" y="481.00" font-size="7.1" text-anchor="end" fill="#2b2b2b" stroke="#2b2b2b" stroke-width="0.16" >−1</text>
<text x="684.50" y="488.60" font-size="7.1" text-anchor="end" fill="#2b2b2b" stroke="#2b2b2b" stroke-width="0.16" >−2</text>
<text transform="translate(267.40,574.20) rotate(-45)" font-size="6.3" text-anchor="end" fill="#333" stroke="#333" stroke-width="0.16" >Trafd1</text>
<text transform="translate(274.19,574.20) rotate(-45)" font-size="6.3" text-anchor="end" fill="#333" stroke="#333" stroke-width="0.16" >Oasl2</text>
<text transform="translate(280.98,574.20) rotate(-45)" font-size="6.3" text-anchor="end" fill="#333" stroke="#333" stroke-width="0.16" >Cd274</text>
<text transform="translate(287.78,574.20) rotate(-45)" font-size="6.3" text-anchor="end" fill="#333" stroke="#333" stroke-width="0.16" >Trim14</text>
<text transform="translate(294.57,574.20) rotate(-45)" font-size="6.3" text-anchor="end" fill="#333" stroke="#333" stroke-width="0.16" >Parp14</text>
<text transform="translate(301.36,574.20) rotate(-45)" font-size="6.3" text-anchor="end" fill="#333" stroke="#333" stroke-width="0.16" >Themis2</text>
<text transform="translate(308.16,574.20) rotate(-45)" font-size="6.3" text-anchor="end" fill="#333" stroke="#333" stroke-width="0.16" >Tap1</text>
<text transform="translate(314.95,574.20) rotate(-45)" font-size="6.3" text-anchor="end" fill="#333" stroke="#333" stroke-width="0.16" >Cd69</text>
<text transform="translate(321.74,574.20) rotate(-45)" font-size="6.3" text-anchor="end" fill="#333" stroke="#333" stroke-width="0.16" >Rtp4</text>
<text transform="translate(328.54,574.20) rotate(-45)" font-size="6.3" text-anchor="end" fill="#333" stroke="#333" stroke-width="0.16" >Slamf7</text>
<text transform="translate(335.33,574.20) rotate(-45)" font-size="6.3" text-anchor="end" fill="#e8333a" stroke="#e8333a" stroke-width="0.16" >Cxcl9</text>
<text transform="translate(342.12,574.20) rotate(-45)" font-size="6.3" text-anchor="end" fill="#e8333a" stroke="#e8333a" stroke-width="0.16" >Batf2</text>
<text transform="translate(348.92,574.20) rotate(-45)" font-size="6.3" text-anchor="end" fill="#333" stroke="#333" stroke-width="0.16" >Socs1</text>
<text transform="translate(355.71,574.20) rotate(-45)" font-size="6.3" text-anchor="end" fill="#333" stroke="#333" stroke-width="0.16" >Nlrc5</text>
<text transform="translate(362.50,574.20) rotate(-45)" font-size="6.3" text-anchor="end" fill="#333" stroke="#333" stroke-width="0.16" >Irf1</text>
<text transform="translate(369.29,574.20) rotate(-45)" font-size="6.3" text-anchor="end" fill="#333" stroke="#333" stroke-width="0.16" >Rnf213</text>
<text transform="translate(376.09,574.20) rotate(-45)" font-size="6.3" text-anchor="end" fill="#333" stroke="#333" stroke-width="0.16" >Stat1</text>
<text transform="translate(382.88,574.20) rotate(-45)" font-size="6.3" text-anchor="end" fill="#333" stroke="#333" stroke-width="0.16" >Gbp3</text>
<text transform="translate(389.67,574.20) rotate(-45)" font-size="6.3" text-anchor="end" fill="#333" stroke="#333" stroke-width="0.16" >Ifi47</text>
<text transform="translate(396.47,574.20) rotate(-45)" font-size="6.3" text-anchor="end" fill="#333" stroke="#333" stroke-width="0.16" >Irgm1</text>
<text transform="translate(403.26,574.20) rotate(-45)" font-size="6.3" text-anchor="end" fill="#333" stroke="#333" stroke-width="0.16" >Psmb9</text>
<text transform="translate(410.05,574.20) rotate(-45)" font-size="6.3" text-anchor="end" fill="#333" stroke="#333" stroke-width="0.16" >Zbp1</text>
<text transform="translate(416.85,574.20) rotate(-45)" font-size="6.3" text-anchor="end" fill="#333" stroke="#333" stroke-width="0.16" >Ifi35</text>
<text transform="translate(423.64,574.20) rotate(-45)" font-size="6.3" text-anchor="end" fill="#333" stroke="#333" stroke-width="0.16" >Eif2ak2</text>
<text transform="translate(430.43,574.20) rotate(-45)" font-size="6.3" text-anchor="end" fill="#333" stroke="#333" stroke-width="0.16" >Isg15</text>
<text transform="translate(437.23,574.20) rotate(-45)" font-size="6.3" text-anchor="end" fill="#333" stroke="#333" stroke-width="0.16" >Ifit3</text>
<text transform="translate(444.02,574.20) rotate(-45)" font-size="6.3" text-anchor="end" fill="#333" stroke="#333" stroke-width="0.16" >Usp18</text>
<text transform="translate(450.81,574.20) rotate(-45)" font-size="6.3" text-anchor="end" fill="#333" stroke="#333" stroke-width="0.16" >Dtx3l</text>
<text transform="translate(457.61,574.20) rotate(-45)" font-size="6.3" text-anchor="end" fill="#333" stroke="#333" stroke-width="0.16" >Parp9</text>
<text transform="translate(464.40,574.20) rotate(-45)" font-size="6.3" text-anchor="end" fill="#333" stroke="#333" stroke-width="0.16" >Herc6</text>
<text transform="translate(471.19,574.20) rotate(-45)" font-size="6.3" text-anchor="end" fill="#333" stroke="#333" stroke-width="0.16" >Samd9l</text>
<text transform="translate(477.99,574.20) rotate(-45)" font-size="6.3" text-anchor="end" fill="#333" stroke="#333" stroke-width="0.16" >Irf7</text>
<text transform="translate(484.78,574.20) rotate(-45)" font-size="6.3" text-anchor="end" fill="#333" stroke="#333" stroke-width="0.16" >Bst2</text>
<text transform="translate(491.57,574.20) rotate(-45)" font-size="6.3" text-anchor="end" fill="#333" stroke="#333" stroke-width="0.16" >Ifi44</text>
<text transform="translate(498.37,574.20) rotate(-45)" font-size="6.3" text-anchor="end" fill="#333" stroke="#333" stroke-width="0.16" >Rsad2</text>
<text transform="translate(505.16,574.20) rotate(-45)" font-size="6.3" text-anchor="end" fill="#333" stroke="#333" stroke-width="0.16" >Oas1a</text>
<text transform="translate(511.95,574.20) rotate(-45)" font-size="6.3" text-anchor="end" fill="#333" stroke="#333" stroke-width="0.16" >Mx1</text>
<text transform="translate(518.75,574.20) rotate(-45)" font-size="6.3" text-anchor="end" fill="#333" stroke="#333" stroke-width="0.16" >Cmpk2</text>
<text transform="translate(525.54,574.20) rotate(-45)" font-size="6.3" text-anchor="end" fill="#333" stroke="#333" stroke-width="0.16" >Xaf1</text>
<text transform="translate(532.33,574.20) rotate(-45)" font-size="6.3" text-anchor="end" fill="#333" stroke="#333" stroke-width="0.16" >Stat2</text>
<text transform="translate(539.13,574.20) rotate(-45)" font-size="6.3" text-anchor="end" fill="#333" stroke="#333" stroke-width="0.16" >Ifih1</text>
<text transform="translate(545.92,574.20) rotate(-45)" font-size="6.3" text-anchor="end" fill="#333" stroke="#333" stroke-width="0.16" >Ddx58</text>
<text transform="translate(552.71,574.20) rotate(-45)" font-size="6.3" text-anchor="end" fill="#333" stroke="#333" stroke-width="0.16" >Ly6e</text>
<text transform="translate(559.51,574.20) rotate(-45)" font-size="6.3" text-anchor="end" fill="#333" stroke="#333" stroke-width="0.16" >Tapbp</text>
<text transform="translate(566.30,574.20) rotate(-45)" font-size="6.3" text-anchor="end" fill="#333" stroke="#333" stroke-width="0.16" >Psme1</text>
<text transform="translate(573.09,574.20) rotate(-45)" font-size="6.3" text-anchor="end" fill="#333" stroke="#333" stroke-width="0.16" >B2m</text>
<text transform="translate(579.88,574.20) rotate(-45)" font-size="6.3" text-anchor="end" fill="#333" stroke="#333" stroke-width="0.16" >Ifitm3</text>
<text transform="translate(586.68,574.20) rotate(-45)" font-size="6.3" text-anchor="end" fill="#333" stroke="#333" stroke-width="0.16" >Sp110</text>
<text transform="translate(593.47,574.20) rotate(-45)" font-size="6.3" text-anchor="end" fill="#333" stroke="#333" stroke-width="0.16" >Trim21</text>
<text transform="translate(600.26,574.20) rotate(-45)" font-size="6.3" text-anchor="end" fill="#333" stroke="#333" stroke-width="0.16" >Lap3</text>
<text transform="translate(607.06,574.20) rotate(-45)" font-size="6.3" text-anchor="end" fill="#333" stroke="#333" stroke-width="0.16" >Gbp2</text>
<text transform="translate(613.85,574.20) rotate(-45)" font-size="6.3" text-anchor="end" fill="#333" stroke="#333" stroke-width="0.16" >Nmi</text>
<text transform="translate(620.64,574.20) rotate(-45)" font-size="6.3" text-anchor="end" fill="#333" stroke="#333" stroke-width="0.16" >Tnfsf10</text>
<text transform="translate(627.44,574.20) rotate(-45)" font-size="6.3" text-anchor="end" fill="#333" stroke="#333" stroke-width="0.16" >Cd47</text>
<text transform="translate(634.23,574.20) rotate(-45)" font-size="6.3" text-anchor="end" fill="#333" stroke="#333" stroke-width="0.16" >Rab44</text>
<text transform="translate(641.02,574.20) rotate(-45)" font-size="6.3" text-anchor="end" fill="#333" stroke="#333" stroke-width="0.16" >Ptpn6</text>
<text transform="translate(647.82,574.20) rotate(-45)" font-size="6.3" text-anchor="end" fill="#333" stroke="#333" stroke-width="0.16" >Dnase1l3</text>
<text transform="translate(654.61,574.20) rotate(-45)" font-size="6.3" text-anchor="end" fill="#333" stroke="#333" stroke-width="0.16" >Lif6</text>
<text transform="translate(661.40,574.20) rotate(-45)" font-size="6.3" text-anchor="end" fill="#333" stroke="#333" stroke-width="0.16" >Adrp</text>
<text x="462.00" y="603.60" font-size="8.1" text-anchor="middle" textLength="46" lengthAdjust="spacingAndGlyphs" fill="#2b2b2b" stroke="#2b2b2b" stroke-width="0.16" >Gene name</text>
<path d="M265.00,452.60 V451.81 H271.79 V452.60" stroke="#444" stroke-width="0.7" fill="none"/>
<path d="M268.39,451.81 V451.17 H278.58 V452.60" stroke="#444" stroke-width="0.7" fill="none"/>
<path d="M285.38,452.60 V451.81 H292.17 V452.60" stroke="#444" stroke-width="0.7" fill="none"/>
<path d="M288.77,451.81 V451.17 H298.96 V452.60" stroke="#444" stroke-width="0.7" fill="none"/>
<path d="M273.49,451.17 V450.00 H293.87 V451.17" stroke="#444" stroke-width="0.7" fill="none"/>
<path d="M305.76,452.60 V451.69 H312.55 V452.60" stroke="#444" stroke-width="0.7" fill="none"/>
<path d="M309.15,451.69 V450.95 H319.34 V452.60" stroke="#444" stroke-width="0.7" fill="none"/>
<path d="M326.14,452.60 V450.95 H332.93 V452.60" stroke="#444" stroke-width="0.7" fill="none"/>
<path d="M314.25,450.95 V449.60 H329.53 V450.95" stroke="#444" stroke-width="0.7" fill="none"/>
<path d="M283.68,450.00 V448.60 H321.89 V449.60" stroke="#444" stroke-width="0.7" fill="none"/>
<path d="M339.72,452.60 V451.28 H346.52 V452.60" stroke="#444" stroke-width="0.7" fill="none"/>
<path d="M353.31,452.60 V451.28 H360.10 V452.60" stroke="#444" stroke-width="0.7" fill="none"/>
<path d="M343.12,451.28 V450.20 H356.71 V451.28" stroke="#444" stroke-width="0.7" fill="none"/>
<path d="M366.89,452.60 V451.39 H373.69 V452.60" stroke="#444" stroke-width="0.7" fill="none"/>
<path d="M370.29,451.39 V450.40 H380.48 V452.60" stroke="#444" stroke-width="0.7" fill="none"/>
<path d="M349.91,450.20 V449.00 H375.39 V450.40" stroke="#444" stroke-width="0.7" fill="none"/>
<path d="M302.78,448.60 V447.40 H362.65 V449.00" stroke="#444" stroke-width="0.7" fill="none"/>
<path d="M387.27,452.60 V451.17 H394.07 V452.60" stroke="#444" stroke-width="0.7" fill="none"/>
<path d="M400.86,452.60 V451.17 H407.65 V452.60" stroke="#444" stroke-width="0.7" fill="none"/>
<path d="M390.67,451.17 V450.00 H404.26 V451.17" stroke="#444" stroke-width="0.7" fill="none"/>
<path d="M414.45,452.60 V450.60 H421.24 V452.60" stroke="#444" stroke-width="0.7" fill="none"/>
<path d="M397.46,450.00 V448.40 H417.84 V450.60" stroke="#444" stroke-width="0.7" fill="none"/>
<path d="M428.03,452.60 V451.28 H434.83 V452.60" stroke="#444" stroke-width="0.7" fill="none"/>
<path d="M431.43,451.28 V450.20 H441.62 V452.60" stroke="#444" stroke-width="0.7" fill="none"/>
<path d="M448.41,452.60 V450.60 H455.21 V452.60" stroke="#444" stroke-width="0.7" fill="none"/>
<path d="M436.53,450.20 V448.90 H451.81 V450.60" stroke="#444" stroke-width="0.7" fill="none"/>
<path d="M407.65,448.40 V447.50 H444.17 V448.90" stroke="#444" stroke-width="0.7" fill="none"/>
<path d="M332.72,447.40 V446.60 H425.91 V447.50" stroke="#444" stroke-width="0.7" fill="none"/>
<path d="M462.00,452.60 V451.28 H468.79 V452.60" stroke="#444" stroke-width="0.7" fill="none"/>
<path d="M475.59,452.60 V451.28 H482.38 V452.60" stroke="#444" stroke-width="0.7" fill="none"/>
<path d="M465.40,451.28 V450.20 H478.98 V451.28" stroke="#444" stroke-width="0.7" fill="none"/>
<path d="M489.17,452.60 V451.34 H495.97 V452.60" stroke="#444" stroke-width="0.7" fill="none"/>
<path d="M492.57,451.34 V450.30 H502.76 V452.60" stroke="#444" stroke-width="0.7" fill="none"/>
<path d="M472.19,450.20 V448.80 H497.66 V450.30" stroke="#444" stroke-width="0.7" fill="none"/>
<path d="M509.55,452.60 V451.17 H516.35 V452.60" stroke="#444" stroke-width="0.7" fill="none"/>
<path d="M523.14,452.60 V451.17 H529.93 V452.60" stroke="#444" stroke-width="0.7" fill="none"/>
<path d="M512.95,451.17 V450.00 H526.54 V451.17" stroke="#444" stroke-width="0.7" fill="none"/>
<path d="M536.73,452.60 V450.60 H543.52 V452.60" stroke="#444" stroke-width="0.7" fill="none"/>
<path d="M519.74,450.00 V448.60 H540.12 V450.60" stroke="#444" stroke-width="0.7" fill="none"/>
<path d="M484.93,448.80 V448.60 H529.93 V448.60" stroke="#444" stroke-width="0.7" fill="none"/>
<path d="M550.31,452.60 V451.39 H557.11 V452.60" stroke="#444" stroke-width="0.7" fill="none"/>
<path d="M553.71,451.39 V450.40 H563.90 V452.60" stroke="#444" stroke-width="0.7" fill="none"/>
<path d="M570.69,452.60 V451.28 H577.48 V452.60" stroke="#444" stroke-width="0.7" fill="none"/>
<path d="M574.09,451.28 V450.20 H584.28 V452.60" stroke="#444" stroke-width="0.7" fill="none"/>
<path d="M558.80,450.40 V449.40 H579.18 V450.20" stroke="#444" stroke-width="0.7" fill="none"/>
<path d="M591.07,452.60 V451.34 H597.86 V452.60" stroke="#444" stroke-width="0.7" fill="none"/>
<path d="M594.47,451.34 V450.30 H604.66 V452.60" stroke="#444" stroke-width="0.7" fill="none"/>
<path d="M611.45,452.60 V450.60 H618.24 V452.60" stroke="#444" stroke-width="0.7" fill="none"/>
<path d="M599.56,450.30 V449.20 H614.85 V450.60" stroke="#444" stroke-width="0.7" fill="none"/>
<path d="M568.99,449.40 V448.80 H607.21 V449.20" stroke="#444" stroke-width="0.7" fill="none"/>
<path d="M507.43,448.60 V446.00 H588.10 V448.80" stroke="#444" stroke-width="0.7" fill="none"/>
<path d="M379.31,446.60 V441.10 H547.76 V446.00" stroke="#444" stroke-width="0.7" fill="none"/>
<path d="M625.04,452.60 V450.40 H631.83 V452.60" stroke="#444" stroke-width="0.7" fill="none"/>
<path d="M638.62,452.60 V451.06 H645.42 V452.60" stroke="#444" stroke-width="0.7" fill="none"/>
<path d="M642.02,451.06 V449.80 H652.21 V452.60" stroke="#444" stroke-width="0.7" fill="none"/>
<path d="M628.43,450.40 V448.60 H647.12 V449.80" stroke="#444" stroke-width="0.7" fill="none"/>
<path d="M637.77,448.60 V447.20 H659.00 V452.60" stroke="#444" stroke-width="0.7" fill="none"/>
<path d="M463.54,441.10 V436.10 H648.39 V447.20" stroke="#444" stroke-width="0.7" fill="none"/>
</svg>
</body></html>
